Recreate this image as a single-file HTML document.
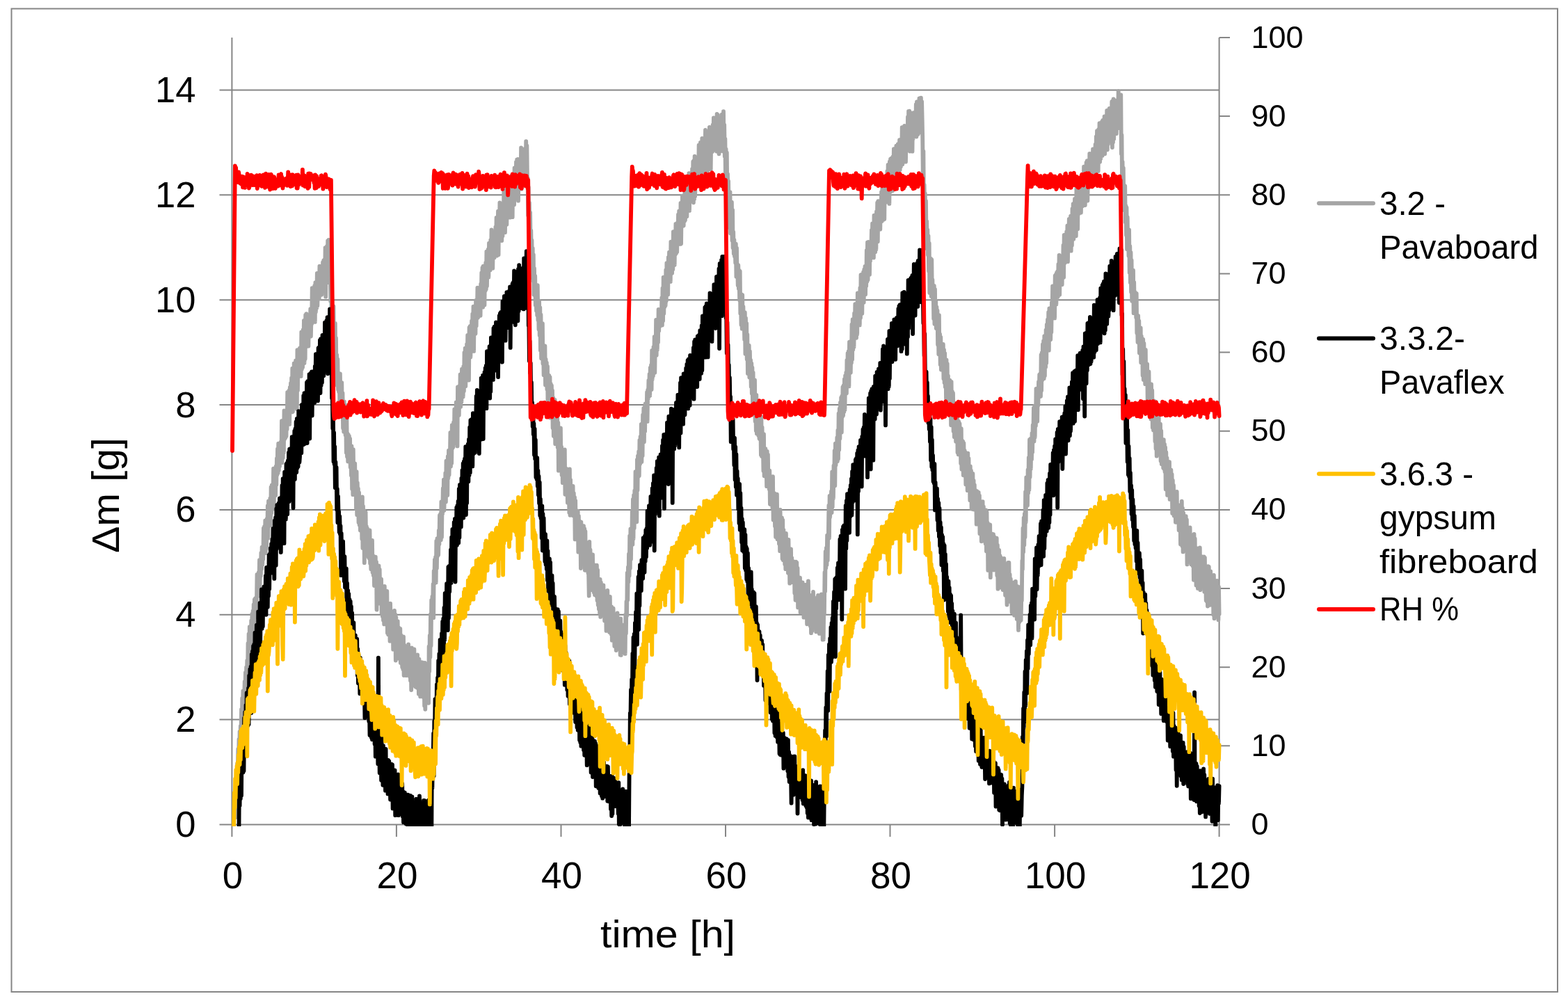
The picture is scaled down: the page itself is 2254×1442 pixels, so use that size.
<!DOCTYPE html>
<html><head><meta charset="utf-8"><title>chart</title><style>html,body{margin:0;padding:0;background:#fff;overflow:hidden;}svg{display:block;filter:blur(0.5px);}</style></head><body>
<svg width="2254" height="1442" viewBox="0 0 2254 1442">
<rect x="0" y="0" width="2254" height="1442" fill="#fff"/>
<rect x="16.5" y="12.5" width="2222.5" height="1413.5" fill="none" stroke="#868686" stroke-width="2"/>
<path d="M315.5 1034.6H1752.6M315.5 883.8H1752.6M315.5 732.9H1752.6M315.5 582.0H1752.6M315.5 431.2H1752.6M315.5 280.3H1752.6M315.5 129.4H1752.6" stroke="#868686" stroke-width="2" fill="none"/>
<path d="M333.4 54.0V1185.5M315.5 1185.5H1752.6M333.4 1185.5V1203.0M569.9 1185.5V1203.0M806.5 1185.5V1203.0M1043.0 1185.5V1203.0M1279.5 1185.5V1203.0M1516.1 1185.5V1203.0M1752.6 1185.5V1203.0M1752.6 54.0V1185.5M1752.6 1185.5H1768.0M1752.6 1072.3H1768.0M1752.6 959.2H1768.0M1752.6 846.0H1768.0M1752.6 732.9H1768.0M1752.6 619.8H1768.0M1752.6 506.6H1768.0M1752.6 393.5H1768.0M1752.6 280.3H1768.0M1752.6 167.1H1768.0M1752.6 54.0H1768.0" stroke="#868686" stroke-width="2" fill="none"/>
<defs><clipPath id="pc"><rect x="330" y="50" width="1427" height="1138"/></clipPath></defs>
<g clip-path="url(#pc)" fill="none" stroke-width="5.8" stroke-linejoin="round" stroke-linecap="round">
<path stroke="#A5A5A5" d="M338.7 1175.4 L339.3 1171.7 L339.9 1113.3 L340.5 1146.8 L341.1 1097.8 L341.7 1120.3 L342.3 1077.0 L342.9 1100.8 L343.5 1062.9 L344.0 1106.3 L344.6 1051.9 L345.2 1092.9 L345.8 1044.0 L346.4 1060.1 L347.0 1020.0 L347.6 1060.7 L348.2 1004.0 L348.8 1033.6 L349.4 993.3 L350.0 1021.4 L350.5 992.9 L351.1 1007.5 L351.7 979.9 L352.3 1004.3 L352.9 967.0 L353.5 1006.7 L354.1 959.3 L354.7 977.3 L355.3 949.6 L355.9 980.5 L356.5 924.8 L357.1 968.4 L357.6 911.3 L358.2 960.8 L358.8 901.1 L359.4 961.8 L360.0 901.0 L360.6 947.8 L361.2 892.5 L361.8 924.6 L362.4 882.7 L363.0 919.1 L363.6 878.5 L364.1 921.9 L364.7 869.1 L365.3 896.9 L365.9 861.8 L366.5 888.1 L367.1 860.2 L367.7 887.0 L368.3 860.8 L368.9 868.7 L369.5 826.0 L370.1 858.0 L370.7 827.3 L371.2 854.1 L371.8 822.8 L372.4 840.8 L373.0 805.1 L373.6 842.6 L374.2 806.8 L374.8 828.3 L375.4 795.0 L376.0 818.3 L376.6 786.7 L377.2 811.9 L377.8 796.1 L378.3 804.0 L378.9 759.5 L379.5 794.8 L380.1 757.0 L380.7 788.7 L381.3 748.3 L381.9 795.1 L382.5 751.3 L383.1 788.9 L383.7 746.0 L384.3 766.8 L384.8 727.1 L385.4 773.7 L386.0 720.5 L386.6 754.1 L387.2 721.7 L387.8 753.2 L388.4 716.4 L389.0 755.6 L389.6 700.5 L390.2 737.7 L390.8 697.4 L391.4 719.7 L391.9 699.3 L392.5 716.5 L393.1 673.7 L393.7 731.5 L394.3 676.5 L394.9 710.7 L395.5 673.9 L396.1 712.2 L396.7 670.5 L397.3 697.0 L397.9 659.2 L398.4 682.6 L399.0 645.3 L399.6 680.1 L400.2 637.7 L400.8 676.1 L401.4 662.2 L402.0 670.4 L402.6 637.7 L403.2 659.1 L403.8 635.4 L404.4 659.4 L405.0 605.1 L405.5 665.2 L406.1 623.1 L406.7 658.2 L407.3 613.2 L407.9 650.4 L408.5 590.4 L409.1 631.4 L409.7 601.9 L410.3 629.4 L410.9 595.7 L411.5 627.3 L412.0 593.8 L412.6 617.3 L413.2 563.9 L413.8 605.6 L414.4 572.4 L415.0 608.9 L415.6 561.3 L416.2 609.9 L416.8 556.9 L417.4 591.9 L418.0 550.9 L418.6 582.2 L419.1 543.5 L419.7 592.4 L420.3 529.7 L420.9 591.6 L421.5 553.1 L422.1 567.5 L422.7 522.3 L423.3 576.0 L423.9 533.8 L424.5 553.6 L425.1 518.5 L425.6 550.5 L426.2 529.0 L426.8 588.2 L427.4 503.2 L428.0 561.2 L428.6 507.7 L429.2 535.7 L429.8 530.6 L430.4 537.5 L431.0 500.4 L431.6 527.3 L432.2 517.7 L432.7 540.9 L433.3 477.5 L433.9 530.8 L434.5 478.1 L435.1 528.0 L435.7 474.1 L436.3 508.3 L436.9 460.9 L437.5 521.9 L438.1 465.2 L438.7 516.0 L439.2 452.9 L439.8 499.0 L440.4 451.1 L441.0 493.9 L441.6 469.5 L442.2 489.5 L442.8 459.3 L443.4 497.6 L444.0 455.8 L444.6 477.7 L445.2 453.0 L445.8 467.7 L446.3 444.1 L446.9 483.5 L447.5 457.2 L448.1 465.7 L448.7 414.2 L449.3 463.4 L449.9 424.7 L450.5 462.1 L451.1 415.9 L451.7 450.2 L452.3 410.6 L452.8 462.9 L453.4 406.2 L454.0 448.4 L454.6 415.2 L455.2 442.9 L455.8 392.8 L456.4 439.5 L457.0 394.5 L457.6 422.9 L458.2 422.0 L458.8 429.6 L459.4 382.6 L459.9 415.4 L460.5 397.1 L461.1 413.3 L461.7 383.0 L462.3 423.8 L462.9 382.5 L463.5 408.9 L464.1 377.2 L464.7 407.5 L465.3 374.4 L465.9 403.5 L466.4 373.4 L467.0 413.9 L467.6 356.1 L468.2 426.7 L468.8 359.7 L469.4 387.9 L470.0 353.9 L470.6 396.1 L471.2 346.1 L471.8 406.0 L472.4 345.0 L473.0 396.3 L473.5 345.6 L474.1 383.5 L474.7 374.3 L475.3 433.3 L475.9 396.0 L476.5 446.5 L477.1 420.7 L477.7 477.6 L478.3 442.1 L478.9 480.2 L479.5 440.4 L480.1 501.7 L480.6 472.5 L481.2 511.4 L481.8 464.8 L482.4 531.0 L483.0 486.0 L483.6 548.7 L484.2 510.3 L484.8 554.3 L485.4 516.5 L486.0 559.9 L486.6 545.6 L487.1 563.4 L487.7 540.4 L488.3 581.4 L488.9 537.4 L489.5 575.0 L490.1 555.9 L490.7 595.8 L491.3 550.1 L491.9 599.3 L492.5 565.1 L493.1 615.5 L493.7 583.9 L494.2 620.7 L494.8 577.4 L495.4 620.6 L496.0 582.0 L496.6 625.5 L497.2 603.6 L497.8 650.7 L498.4 602.5 L499.0 656.4 L499.6 623.5 L500.2 663.4 L500.7 625.0 L501.3 651.4 L501.9 627.0 L502.5 664.1 L503.1 630.6 L503.7 671.8 L504.3 649.5 L504.9 683.5 L505.5 641.5 L506.1 702.9 L506.7 649.6 L507.3 711.1 L507.8 646.1 L508.4 691.2 L509.0 676.8 L509.6 699.0 L510.2 666.3 L510.8 711.6 L511.4 686.4 L512.0 731.7 L512.6 678.1 L513.2 740.1 L513.8 694.2 L514.3 727.3 L514.9 702.5 L515.5 751.1 L516.1 708.1 L516.7 754.7 L517.3 714.5 L517.9 762.5 L518.5 725.7 L519.1 751.3 L519.7 722.2 L520.3 774.7 L520.9 714.4 L521.4 788.0 L522.0 727.8 L522.6 780.5 L523.2 733.6 L523.8 809.2 L524.4 740.9 L525.0 780.2 L525.6 736.4 L526.2 783.5 L526.8 756.9 L527.4 789.9 L527.9 759.7 L528.5 785.0 L529.1 763.2 L529.7 800.9 L530.3 773.4 L530.9 802.9 L531.5 762.4 L532.1 810.0 L532.7 788.8 L533.3 818.3 L533.9 778.7 L534.5 816.4 L535.0 777.0 L535.6 823.0 L536.2 798.8 L536.8 827.2 L537.4 804.2 L538.0 842.0 L538.6 800.8 L539.2 840.6 L539.8 800.7 L540.4 842.9 L541.0 808.0 L541.5 876.6 L542.1 823.0 L542.7 856.6 L543.3 825.7 L543.9 867.6 L544.5 813.3 L545.1 854.0 L545.7 818.7 L546.3 857.3 L546.9 832.0 L547.5 857.3 L548.1 832.6 L548.6 881.1 L549.2 846.2 L549.8 886.0 L550.4 843.0 L551.0 891.8 L551.6 850.5 L552.2 897.4 L552.8 842.8 L553.4 878.4 L554.0 852.8 L554.6 880.4 L555.1 850.5 L555.7 893.0 L556.3 850.0 L556.9 909.9 L557.5 872.1 L558.1 912.2 L558.7 868.5 L559.3 902.2 L559.9 879.7 L560.5 921.6 L561.1 867.7 L561.7 902.8 L562.2 887.6 L562.8 905.8 L563.4 881.5 L564.0 908.7 L564.6 891.3 L565.2 933.6 L565.8 888.6 L566.4 920.2 L567.0 877.9 L567.6 928.9 L568.2 883.5 L568.8 949.5 L569.3 887.4 L569.9 925.5 L570.5 896.2 L571.1 945.6 L571.7 893.1 L572.3 940.6 L572.9 902.1 L573.5 946.8 L574.1 908.8 L574.7 947.3 L575.3 904.0 L575.8 953.0 L576.4 913.1 L577.0 953.7 L577.6 920.3 L578.2 959.1 L578.8 940.6 L579.4 962.3 L580.0 915.3 L580.6 971.0 L581.2 927.3 L581.8 961.6 L582.4 929.3 L582.9 956.3 L583.5 931.4 L584.1 971.2 L584.7 933.5 L585.3 967.3 L585.9 936.8 L586.5 958.5 L587.1 926.4 L587.7 965.8 L588.3 937.9 L588.9 972.5 L589.4 940.5 L590.0 978.5 L590.6 933.6 L591.2 992.0 L591.8 931.4 L592.4 974.5 L593.0 935.4 L593.6 971.6 L594.2 933.3 L594.8 972.3 L595.4 933.5 L596.0 985.5 L596.5 947.3 L597.1 987.3 L597.7 948.4 L598.3 979.3 L598.9 942.3 L599.5 988.6 L600.1 941.4 L600.7 976.7 L601.3 955.7 L601.9 997.6 L602.5 947.7 L603.0 994.3 L603.6 959.2 L604.2 1001.4 L604.8 951.9 L605.4 995.2 L606.0 959.8 L606.6 991.8 L607.2 952.3 L607.8 993.4 L608.4 954.4 L609.0 1002.8 L609.6 967.4 L610.1 1014.8 L610.7 953.0 L611.3 1019.8 L611.9 968.4 L612.5 1007.6 L613.1 954.9 L613.7 993.1 L614.3 971.5 L614.9 1002.4 L615.5 971.4 L616.1 1010.8 L616.6 929.5 L617.2 965.2 L617.8 913.6 L618.4 944.7 L619.0 883.1 L619.6 928.2 L620.2 862.8 L620.8 886.3 L621.4 857.6 L622.0 880.2 L622.6 839.9 L623.2 888.2 L623.7 821.0 L624.3 839.1 L624.9 804.6 L625.5 837.1 L626.1 801.0 L626.7 837.4 L627.3 778.0 L627.9 817.0 L628.5 774.2 L629.1 799.5 L629.7 776.4 L630.2 797.7 L630.8 762.6 L631.4 782.5 L632.0 740.8 L632.6 776.9 L633.2 739.0 L633.8 776.2 L634.4 721.5 L635.0 772.1 L635.6 723.7 L636.2 738.4 L636.8 702.2 L637.3 734.2 L637.9 689.7 L638.5 733.8 L639.1 689.6 L639.7 712.4 L640.3 680.2 L640.9 721.5 L641.5 662.7 L642.1 701.9 L642.7 672.6 L643.3 712.0 L643.8 656.2 L644.4 687.4 L645.0 647.7 L645.6 682.8 L646.2 648.3 L646.8 662.8 L647.4 621.8 L648.0 670.5 L648.6 623.6 L649.2 666.0 L649.8 611.2 L650.4 644.4 L650.9 611.5 L651.5 642.8 L652.1 607.1 L652.7 638.0 L653.3 588.5 L653.9 632.2 L654.5 592.3 L655.1 625.3 L655.7 578.4 L656.3 613.4 L656.9 583.1 L657.5 641.4 L658.0 556.3 L658.6 597.4 L659.2 559.0 L659.8 597.0 L660.4 555.0 L661.0 583.9 L661.6 538.3 L662.2 584.8 L662.8 543.1 L663.4 577.9 L664.0 530.6 L664.5 570.3 L665.1 533.5 L665.7 570.4 L666.3 526.9 L666.9 562.3 L667.5 506.8 L668.1 542.8 L668.7 500.6 L669.3 555.1 L669.9 504.4 L670.5 541.4 L671.1 495.0 L671.6 526.8 L672.2 482.0 L672.8 528.2 L673.4 484.3 L674.0 546.6 L674.6 471.0 L675.2 511.1 L675.8 468.8 L676.4 513.4 L677.0 478.8 L677.6 493.5 L678.1 461.3 L678.7 490.5 L679.3 451.3 L679.9 479.2 L680.5 440.7 L681.1 504.9 L681.7 446.4 L682.3 472.1 L682.9 449.1 L683.5 479.6 L684.1 431.8 L684.7 468.6 L685.2 436.0 L685.8 453.7 L686.4 413.7 L687.0 456.7 L687.6 421.1 L688.2 447.5 L688.8 414.1 L689.4 444.8 L690.0 413.4 L690.6 453.8 L691.2 408.3 L691.7 429.6 L692.3 392.1 L692.9 431.5 L693.5 385.0 L694.1 441.7 L694.7 382.6 L695.3 413.4 L695.9 384.8 L696.5 438.5 L697.1 383.0 L697.7 418.0 L698.3 377.6 L698.8 415.7 L699.4 361.7 L700.0 411.1 L700.6 368.4 L701.2 393.7 L701.8 358.3 L702.4 398.4 L703.0 349.7 L703.6 385.0 L704.2 383.0 L704.8 388.4 L705.3 345.1 L705.9 386.0 L706.5 330.5 L707.1 385.1 L707.7 335.9 L708.3 385.7 L708.9 339.2 L709.5 360.9 L710.1 334.3 L710.7 370.4 L711.3 335.9 L711.9 363.4 L712.4 326.5 L713.0 352.0 L713.6 313.0 L714.2 367.6 L714.8 319.9 L715.4 339.7 L716.0 303.6 L716.6 366.2 L717.2 305.5 L717.8 341.2 L718.4 291.5 L718.9 336.6 L719.5 297.1 L720.1 326.6 L720.7 299.0 L721.3 346.0 L721.9 299.1 L722.5 339.3 L723.1 292.6 L723.7 328.4 L724.3 274.7 L724.9 332.3 L725.5 282.0 L726.0 334.1 L726.6 284.2 L727.2 307.9 L727.8 268.5 L728.4 322.6 L729.0 269.4 L729.6 305.6 L730.2 271.0 L730.8 310.7 L731.4 278.4 L732.0 296.4 L732.5 273.0 L733.1 312.6 L733.7 257.9 L734.3 297.4 L734.9 252.8 L735.5 303.9 L736.1 265.9 L736.7 312.1 L737.3 256.1 L737.9 290.9 L738.5 263.2 L739.1 294.2 L739.6 241.3 L740.2 273.1 L740.8 245.8 L741.4 280.4 L742.0 232.9 L742.6 280.1 L743.2 229.5 L743.8 272.8 L744.4 229.0 L745.0 288.6 L745.6 235.6 L746.2 258.5 L746.7 238.4 L747.3 266.1 L747.9 235.4 L748.5 266.4 L749.1 212.4 L749.7 271.7 L750.3 222.2 L750.9 268.9 L751.5 219.4 L752.1 249.7 L752.7 215.0 L753.2 259.0 L753.8 215.2 L754.4 248.3 L755.0 213.5 L755.6 254.8 L756.2 203.2 L756.8 242.9 L757.4 209.3 L758.0 257.1 L758.6 255.5 L759.2 309.7 L759.8 269.2 L760.3 333.8 L760.9 291.3 L761.5 340.4 L762.1 305.5 L762.7 352.0 L763.3 331.4 L763.9 365.4 L764.5 345.5 L765.1 399.4 L765.7 357.0 L766.3 403.6 L766.8 366.1 L767.4 423.8 L768.0 385.9 L768.6 423.3 L769.2 396.6 L769.8 438.7 L770.4 418.1 L771.0 446.8 L771.6 424.5 L772.2 453.3 L772.8 410.2 L773.4 460.0 L773.9 436.8 L774.5 473.4 L775.1 433.1 L775.7 482.3 L776.3 442.1 L776.9 503.8 L777.5 452.5 L778.1 515.3 L778.7 468.3 L779.3 500.4 L779.9 465.1 L780.4 522.8 L781.0 496.5 L781.6 539.1 L782.2 504.7 L782.8 531.4 L783.4 497.3 L784.0 553.5 L784.6 516.7 L785.2 551.7 L785.8 521.3 L786.4 559.8 L787.0 526.6 L787.5 590.0 L788.1 539.1 L788.7 583.5 L789.3 540.0 L789.9 584.1 L790.5 542.1 L791.1 600.6 L791.7 551.8 L792.3 594.4 L792.9 554.3 L793.5 593.7 L794.0 561.4 L794.6 615.2 L795.2 572.0 L795.8 626.7 L796.4 588.9 L797.0 627.8 L797.6 575.0 L798.2 638.1 L798.8 599.2 L799.4 631.1 L800.0 595.4 L800.6 634.7 L801.1 598.1 L801.7 643.2 L802.3 607.7 L802.9 676.6 L803.5 619.8 L804.1 675.8 L804.7 624.7 L805.3 653.6 L805.9 615.3 L806.5 667.4 L807.1 642.5 L807.6 682.9 L808.2 650.8 L808.8 694.1 L809.4 647.6 L810.0 692.7 L810.6 655.9 L811.2 688.2 L811.8 646.3 L812.4 710.8 L813.0 674.1 L813.6 701.1 L814.2 673.8 L814.7 702.2 L815.3 695.4 L815.9 722.7 L816.5 683.7 L817.1 713.2 L817.7 680.7 L818.3 737.0 L818.9 674.3 L819.5 740.8 L820.1 689.9 L820.7 738.8 L821.2 699.2 L821.8 730.2 L822.4 703.5 L823.0 737.5 L823.6 698.9 L824.2 741.4 L824.8 709.1 L825.4 741.5 L826.0 714.8 L826.6 775.4 L827.2 719.8 L827.8 772.1 L828.3 735.3 L828.9 766.0 L829.5 737.5 L830.1 767.7 L830.7 734.7 L831.3 793.7 L831.9 741.9 L832.5 783.3 L833.1 749.1 L833.7 781.4 L834.3 751.7 L834.9 817.0 L835.4 750.7 L836.0 788.7 L836.6 762.7 L837.2 807.5 L837.8 759.4 L838.4 803.1 L839.0 756.2 L839.6 800.3 L840.2 760.1 L840.8 819.8 L841.4 763.8 L841.9 815.8 L842.5 783.3 L843.1 819.8 L843.7 786.0 L844.3 819.9 L844.9 804.9 L845.5 824.5 L846.1 824.9 L846.7 856.6 L847.3 778.9 L847.9 840.0 L848.5 790.5 L849.0 823.9 L849.6 802.0 L850.2 824.6 L850.8 801.5 L851.4 848.3 L852.0 797.5 L852.6 844.6 L853.2 811.8 L853.8 851.7 L854.4 823.3 L855.0 855.1 L855.5 812.7 L856.1 852.2 L856.7 813.4 L857.3 856.6 L857.9 812.6 L858.5 863.2 L859.1 819.5 L859.7 869.7 L860.3 837.3 L860.9 875.8 L861.5 833.2 L862.1 881.3 L862.6 832.8 L863.2 886.9 L863.8 837.4 L864.4 884.5 L865.0 849.9 L865.6 882.7 L866.2 847.0 L866.8 878.5 L867.4 841.3 L868.0 878.8 L868.6 849.3 L869.1 892.4 L869.7 860.5 L870.3 889.1 L870.9 865.6 L871.5 906.9 L872.1 860.9 L872.7 900.8 L873.3 849.0 L873.9 902.8 L874.5 871.4 L875.1 900.6 L875.7 861.1 L876.2 909.0 L876.8 857.8 L877.4 900.0 L878.0 874.5 L878.6 911.8 L879.2 872.5 L879.8 920.7 L880.4 878.9 L881.0 902.9 L881.6 874.6 L882.2 915.5 L882.7 893.4 L883.3 928.9 L883.9 891.9 L884.5 923.7 L885.1 887.9 L885.7 935.0 L886.3 891.4 L886.9 915.7 L887.5 881.5 L888.1 926.2 L888.7 897.4 L889.3 917.6 L889.8 892.7 L890.4 920.1 L891.0 897.9 L891.6 941.4 L892.2 889.4 L892.8 941.9 L893.4 908.0 L894.0 927.5 L894.6 898.5 L895.2 938.6 L895.8 900.9 L896.3 931.0 L896.9 912.2 L897.5 938.1 L898.1 899.1 L898.7 939.9 L899.3 883.6 L899.9 910.8 L900.5 864.8 L901.1 885.3 L901.7 823.6 L902.3 862.5 L902.9 815.3 L903.4 836.8 L904.0 796.3 L904.6 827.6 L905.2 770.3 L905.8 817.0 L906.4 760.4 L907.0 804.0 L907.6 760.4 L908.2 780.4 L908.8 734.3 L909.4 782.7 L909.9 718.0 L910.5 774.4 L911.1 712.0 L911.7 759.1 L912.3 705.3 L912.9 749.2 L913.5 678.2 L914.1 729.9 L914.7 681.8 L915.3 750.3 L915.9 660.8 L916.5 704.6 L917.0 655.4 L917.6 685.1 L918.2 649.1 L918.8 684.0 L919.4 632.8 L920.0 667.3 L920.6 627.8 L921.2 661.0 L921.8 609.8 L922.4 664.0 L923.0 616.5 L923.6 655.2 L924.1 596.4 L924.7 625.4 L925.3 586.8 L925.9 635.2 L926.5 585.3 L927.1 620.1 L927.7 580.3 L928.3 602.1 L928.9 589.0 L929.5 597.1 L930.1 563.9 L930.6 605.9 L931.2 560.7 L931.8 573.4 L932.4 546.8 L933.0 568.5 L933.6 538.0 L934.2 568.9 L934.8 528.7 L935.4 557.8 L936.0 525.0 L936.6 560.0 L937.2 503.8 L937.7 545.4 L938.3 511.9 L938.9 540.4 L939.5 498.9 L940.1 527.7 L940.7 484.2 L941.3 535.7 L941.9 490.0 L942.5 510.7 L943.1 460.0 L943.7 510.8 L944.2 467.0 L944.8 502.9 L945.4 468.7 L946.0 492.1 L946.6 444.8 L947.2 475.8 L947.8 445.2 L948.4 469.3 L949.0 446.7 L949.6 466.0 L950.2 466.1 L950.8 458.8 L951.3 428.2 L951.9 467.5 L952.5 414.3 L953.1 461.2 L953.7 398.6 L954.3 450.6 L954.9 408.4 L955.5 441.1 L956.1 403.6 L956.7 438.9 L957.3 388.1 L957.8 432.5 L958.4 378.1 L959.0 414.3 L959.6 389.9 L960.2 423.5 L960.8 369.8 L961.4 396.7 L962.0 362.7 L962.6 400.9 L963.2 364.2 L963.8 404.9 L964.4 347.7 L964.9 384.0 L965.5 351.5 L966.1 392.7 L966.7 349.8 L967.3 387.2 L967.9 333.1 L968.5 377.1 L969.1 348.1 L969.7 380.9 L970.3 335.8 L970.9 365.8 L971.4 322.0 L972.0 364.1 L972.6 322.7 L973.2 362.3 L973.8 320.4 L974.4 351.6 L975.0 308.3 L975.6 342.0 L976.2 303.5 L976.8 338.4 L977.4 310.5 L978.0 350.9 L978.5 291.8 L979.1 350.1 L979.7 297.0 L980.3 325.6 L980.9 281.6 L981.5 316.7 L982.1 288.0 L982.7 324.5 L983.3 285.7 L983.9 318.3 L984.5 272.8 L985.0 316.3 L985.6 274.5 L986.2 301.5 L986.8 270.1 L987.4 311.1 L988.0 272.6 L988.6 300.8 L989.2 263.5 L989.8 287.8 L990.4 249.1 L991.0 302.9 L991.6 253.9 L992.1 284.5 L992.7 277.2 L993.3 285.5 L993.9 251.1 L994.5 280.3 L995.1 242.8 L995.7 277.4 L996.3 232.3 L996.9 291.3 L997.5 230.9 L998.1 285.9 L998.6 224.7 L999.2 281.9 L999.8 229.1 L1000.4 260.3 L1001.0 238.1 L1001.6 264.0 L1002.2 233.0 L1002.8 251.1 L1003.4 229.6 L1004.0 252.9 L1004.6 208.6 L1005.2 246.3 L1005.7 215.1 L1006.3 238.2 L1006.9 204.9 L1007.5 238.0 L1008.1 214.6 L1008.7 250.7 L1009.3 198.9 L1009.9 244.8 L1010.5 209.9 L1011.1 249.2 L1011.7 209.0 L1012.3 254.8 L1012.8 201.9 L1013.4 233.0 L1014.0 186.8 L1014.6 245.6 L1015.2 205.3 L1015.8 246.5 L1016.4 196.7 L1017.0 245.5 L1017.6 189.8 L1018.2 232.7 L1018.8 192.5 L1019.3 234.5 L1019.9 182.9 L1020.5 235.4 L1021.1 183.2 L1021.7 243.5 L1022.3 193.7 L1022.9 217.4 L1023.5 188.7 L1024.1 217.9 L1024.7 179.4 L1025.3 213.7 L1025.9 169.5 L1026.4 215.0 L1027.0 184.7 L1027.6 210.0 L1028.2 207.6 L1028.8 215.4 L1029.4 183.2 L1030.0 217.5 L1030.6 163.8 L1031.2 202.1 L1031.8 165.1 L1032.4 204.8 L1032.9 178.3 L1033.5 221.3 L1034.1 175.5 L1034.7 217.9 L1035.3 178.0 L1035.9 213.9 L1036.5 180.2 L1037.1 212.2 L1037.7 164.7 L1038.3 200.4 L1038.9 177.1 L1039.5 217.5 L1040.0 160.2 L1040.6 209.6 L1041.2 179.3 L1041.8 224.9 L1042.4 199.7 L1043.0 261.0 L1043.6 214.5 L1044.2 253.7 L1044.8 219.5 L1045.4 285.4 L1046.0 250.1 L1046.5 288.2 L1047.1 260.5 L1047.7 305.5 L1048.3 281.7 L1048.9 328.0 L1049.5 276.1 L1050.1 335.5 L1050.7 297.2 L1051.3 327.0 L1051.9 290.6 L1052.5 345.8 L1053.1 301.8 L1053.6 356.2 L1054.2 333.4 L1054.8 364.7 L1055.4 344.9 L1056.0 368.7 L1056.6 353.4 L1057.2 377.9 L1057.8 350.6 L1058.4 397.8 L1059.0 356.7 L1059.6 394.4 L1060.1 379.9 L1060.7 410.3 L1061.3 381.4 L1061.9 415.1 L1062.5 388.7 L1063.1 431.4 L1063.7 389.9 L1064.3 450.6 L1064.9 425.7 L1065.5 466.9 L1066.1 423.5 L1066.7 472.6 L1067.2 424.1 L1067.8 472.4 L1068.4 440.8 L1069.0 471.7 L1069.6 460.7 L1070.2 488.3 L1070.8 449.2 L1071.4 508.7 L1072.0 457.4 L1072.6 508.1 L1073.2 464.9 L1073.7 516.5 L1074.3 480.8 L1074.9 536.9 L1075.5 496.8 L1076.1 521.0 L1076.7 496.6 L1077.3 542.4 L1077.9 505.1 L1078.5 539.3 L1079.1 517.7 L1079.7 555.9 L1080.3 522.5 L1080.8 565.8 L1081.4 528.5 L1082.0 584.4 L1082.6 535.6 L1083.2 585.3 L1083.8 552.7 L1084.4 589.2 L1085.0 546.3 L1085.6 605.6 L1086.2 575.5 L1086.8 619.1 L1087.3 567.8 L1087.9 623.4 L1088.5 579.5 L1089.1 609.8 L1089.7 577.3 L1090.3 626.1 L1090.9 595.8 L1091.5 630.4 L1092.1 601.3 L1092.7 631.7 L1093.3 608.1 L1093.9 654.0 L1094.4 599.2 L1095.0 655.9 L1095.6 614.3 L1096.2 653.6 L1096.8 637.2 L1097.4 676.9 L1098.0 624.2 L1098.6 684.2 L1099.2 646.0 L1099.8 669.1 L1100.4 645.2 L1101.0 685.5 L1101.5 649.1 L1102.1 699.1 L1102.7 648.9 L1103.3 695.2 L1103.9 653.6 L1104.5 691.3 L1105.1 676.5 L1105.7 703.1 L1106.3 676.7 L1106.9 724.6 L1107.5 686.4 L1108.0 725.3 L1108.6 693.0 L1109.2 721.7 L1109.8 691.5 L1110.4 730.5 L1111.0 685.2 L1111.6 747.5 L1112.2 708.7 L1112.8 737.6 L1113.4 709.3 L1114.0 756.4 L1114.6 712.2 L1115.1 772.0 L1115.7 720.0 L1116.3 758.9 L1116.9 710.6 L1117.5 775.1 L1118.1 743.0 L1118.7 760.0 L1119.3 739.1 L1119.9 781.6 L1120.5 737.8 L1121.1 792.2 L1121.6 732.9 L1122.2 781.5 L1122.8 760.8 L1123.4 792.3 L1124.0 744.4 L1124.6 803.2 L1125.2 747.6 L1125.8 805.3 L1126.4 762.0 L1127.0 801.1 L1127.6 770.7 L1128.2 811.1 L1128.7 766.9 L1129.3 818.1 L1129.9 767.0 L1130.5 810.2 L1131.1 784.9 L1131.7 805.8 L1132.3 787.2 L1132.9 823.8 L1133.5 775.8 L1134.1 821.0 L1134.7 800.6 L1135.2 838.7 L1135.8 793.7 L1136.4 831.3 L1137.0 789.4 L1137.6 831.8 L1138.2 802.1 L1138.8 837.2 L1139.4 808.3 L1140.0 832.4 L1140.6 807.2 L1141.2 834.4 L1141.8 816.3 L1142.3 852.8 L1142.9 831.2 L1143.5 862.8 L1144.1 807.6 L1144.7 854.6 L1145.3 808.9 L1145.9 853.6 L1146.5 816.7 L1147.1 873.4 L1147.7 831.7 L1148.3 872.6 L1148.8 834.6 L1149.4 854.6 L1150.0 830.6 L1150.6 880.5 L1151.2 838.2 L1151.8 864.9 L1152.4 838.9 L1153.0 869.2 L1153.6 837.3 L1154.2 866.2 L1154.8 845.5 L1155.4 887.6 L1155.9 848.4 L1156.5 882.5 L1157.1 840.9 L1157.7 876.9 L1158.3 845.5 L1158.9 877.8 L1159.5 840.3 L1160.1 897.3 L1160.7 847.9 L1161.3 884.2 L1161.9 835.4 L1162.4 883.8 L1163.0 861.9 L1163.6 885.7 L1164.2 855.9 L1164.8 899.9 L1165.4 864.9 L1166.0 910.2 L1166.6 858.3 L1167.2 907.2 L1167.8 855.4 L1168.4 889.6 L1169.0 851.0 L1169.5 897.3 L1170.1 863.6 L1170.7 901.4 L1171.3 866.9 L1171.9 893.1 L1172.5 864.6 L1173.1 908.3 L1173.7 862.5 L1174.3 904.1 L1174.9 858.7 L1175.5 897.7 L1176.0 855.8 L1176.6 904.4 L1177.2 875.3 L1177.8 910.9 L1178.4 870.1 L1179.0 900.5 L1179.6 865.5 L1180.2 910.4 L1180.8 854.4 L1181.4 895.3 L1182.0 864.7 L1182.6 919.7 L1183.1 871.7 L1183.7 919.4 L1184.3 872.2 L1184.9 883.1 L1185.5 823.0 L1186.1 850.1 L1186.7 792.9 L1187.3 816.6 L1187.9 787.6 L1188.5 812.2 L1189.1 769.7 L1189.7 805.8 L1190.2 770.4 L1190.8 769.1 L1191.4 726.7 L1192.0 773.4 L1192.6 712.9 L1193.2 743.4 L1193.8 720.3 L1194.4 731.3 L1195.0 706.4 L1195.6 737.0 L1196.2 678.4 L1196.7 728.6 L1197.3 685.2 L1197.9 716.4 L1198.5 669.3 L1199.1 697.0 L1199.7 647.8 L1200.3 698.1 L1200.9 637.7 L1201.5 668.7 L1202.1 644.2 L1202.7 656.7 L1203.3 629.2 L1203.8 663.2 L1204.4 618.7 L1205.0 659.6 L1205.6 594.3 L1206.2 646.8 L1206.8 587.3 L1207.4 630.5 L1208.0 578.6 L1208.6 614.3 L1209.2 571.6 L1209.8 621.5 L1210.3 569.3 L1210.9 599.2 L1211.5 556.5 L1212.1 597.1 L1212.7 554.2 L1213.3 592.1 L1213.9 545.1 L1214.5 588.9 L1215.1 540.1 L1215.7 565.8 L1216.3 535.7 L1216.9 565.5 L1217.4 518.0 L1218.0 553.7 L1218.6 508.0 L1219.2 551.6 L1219.8 505.0 L1220.4 555.4 L1221.0 491.7 L1221.6 533.2 L1222.2 500.7 L1222.8 535.6 L1223.4 498.1 L1223.9 521.8 L1224.5 466.4 L1225.1 516.6 L1225.7 459.2 L1226.3 502.7 L1226.9 476.2 L1227.5 498.9 L1228.1 450.4 L1228.7 483.6 L1229.3 437.2 L1229.9 477.6 L1230.5 437.7 L1231.0 485.8 L1231.6 444.5 L1232.2 480.4 L1232.8 421.3 L1233.4 464.1 L1234.0 430.3 L1234.6 455.8 L1235.2 420.8 L1235.8 467.4 L1236.4 413.8 L1237.0 456.9 L1237.5 395.2 L1238.1 448.6 L1238.7 394.7 L1239.3 450.6 L1239.9 403.5 L1240.5 431.2 L1241.1 391.1 L1241.7 434.8 L1242.3 387.5 L1242.9 416.8 L1243.5 383.0 L1244.1 423.2 L1244.6 383.2 L1245.2 411.2 L1245.8 360.0 L1246.4 404.8 L1247.0 348.4 L1247.6 402.1 L1248.2 348.0 L1248.8 394.8 L1249.4 348.7 L1250.0 394.6 L1250.6 350.7 L1251.1 374.9 L1251.7 349.1 L1252.3 362.8 L1252.9 331.0 L1253.5 364.2 L1254.1 321.5 L1254.7 359.2 L1255.3 323.3 L1255.9 370.5 L1256.5 309.7 L1257.1 341.5 L1257.7 311.0 L1258.2 362.3 L1258.8 312.1 L1259.4 358.4 L1260.0 304.2 L1260.6 332.3 L1261.2 291.3 L1261.8 347.1 L1262.4 289.1 L1263.0 320.4 L1263.6 289.8 L1264.2 327.8 L1264.8 293.1 L1265.3 329.6 L1265.9 288.4 L1266.5 310.5 L1267.1 275.9 L1267.7 317.9 L1268.3 271.3 L1268.9 308.9 L1269.5 268.3 L1270.1 315.6 L1270.7 259.0 L1271.3 315.1 L1271.8 257.0 L1272.4 291.5 L1273.0 259.3 L1273.6 290.6 L1274.2 255.5 L1274.8 282.2 L1275.4 246.1 L1276.0 289.4 L1276.6 237.0 L1277.2 283.3 L1277.8 240.7 L1278.4 292.9 L1278.9 232.3 L1279.5 265.7 L1280.1 228.7 L1280.7 275.2 L1281.3 227.6 L1281.9 274.2 L1282.5 227.1 L1283.1 274.1 L1283.7 225.1 L1284.3 249.1 L1284.9 214.1 L1285.4 257.1 L1286.0 223.7 L1286.6 257.0 L1287.2 220.4 L1287.8 261.9 L1288.4 209.7 L1289.0 261.5 L1289.6 213.6 L1290.2 250.2 L1290.8 207.2 L1291.4 255.4 L1292.0 215.5 L1292.5 235.8 L1293.1 201.2 L1293.7 244.1 L1294.3 205.0 L1294.9 239.8 L1295.5 201.9 L1296.1 234.8 L1296.7 183.2 L1297.3 236.2 L1297.9 187.7 L1298.5 232.0 L1299.0 191.3 L1299.6 224.5 L1300.2 180.9 L1300.8 215.8 L1301.4 186.9 L1302.0 232.6 L1302.6 190.1 L1303.2 205.9 L1303.8 181.3 L1304.4 212.0 L1305.0 168.2 L1305.6 214.0 L1306.1 160.0 L1306.7 200.2 L1307.3 159.7 L1307.9 217.5 L1308.5 161.8 L1309.1 205.4 L1309.7 174.6 L1310.3 211.4 L1310.9 172.3 L1311.5 217.7 L1312.1 165.9 L1312.6 199.4 L1313.2 162.2 L1313.8 186.7 L1314.4 163.2 L1315.0 195.3 L1315.6 161.6 L1316.2 195.0 L1316.8 150.2 L1317.4 196.5 L1318.0 146.4 L1318.6 187.5 L1319.2 151.5 L1319.7 192.9 L1320.3 157.6 L1320.9 190.8 L1321.5 141.3 L1322.1 187.2 L1322.7 149.9 L1323.3 179.1 L1323.9 140.7 L1324.5 177.6 L1325.1 146.1 L1325.7 172.3 L1326.2 197.4 L1326.8 256.9 L1327.4 217.3 L1328.0 292.5 L1328.6 265.7 L1329.2 306.4 L1329.8 278.2 L1330.4 338.1 L1331.0 289.0 L1331.6 346.5 L1332.2 318.1 L1332.8 357.9 L1333.3 330.4 L1333.9 366.4 L1334.5 339.1 L1335.1 389.6 L1335.7 349.6 L1336.3 421.0 L1336.9 379.3 L1337.5 399.4 L1338.1 371.8 L1338.7 425.9 L1339.3 373.5 L1339.8 416.8 L1340.4 402.1 L1341.0 430.7 L1341.6 412.4 L1342.2 458.2 L1342.8 411.0 L1343.4 465.8 L1344.0 416.0 L1344.6 463.6 L1345.2 433.4 L1345.8 471.9 L1346.4 441.3 L1346.9 472.7 L1347.5 446.4 L1348.1 495.4 L1348.7 456.1 L1349.3 509.1 L1349.9 453.1 L1350.5 510.0 L1351.1 480.3 L1351.7 524.3 L1352.3 484.7 L1352.9 531.5 L1353.4 495.2 L1354.0 528.5 L1354.6 500.7 L1355.2 530.9 L1355.8 494.8 L1356.4 544.5 L1357.0 502.8 L1357.6 550.2 L1358.2 507.9 L1358.8 556.3 L1359.4 517.8 L1360.0 572.8 L1360.5 517.3 L1361.1 564.2 L1361.7 522.9 L1362.3 586.1 L1362.9 540.4 L1363.5 580.8 L1364.1 546.7 L1364.7 596.4 L1365.3 546.7 L1365.9 594.0 L1366.5 549.1 L1367.1 611.3 L1367.6 548.8 L1368.2 604.2 L1368.8 562.9 L1369.4 597.3 L1370.0 565.2 L1370.6 620.0 L1371.2 584.3 L1371.8 628.2 L1372.4 586.0 L1373.0 626.6 L1373.6 590.2 L1374.1 634.7 L1374.7 595.6 L1375.3 630.6 L1375.9 590.6 L1376.5 650.5 L1377.1 605.0 L1377.7 653.4 L1378.3 606.3 L1378.9 651.4 L1379.5 609.2 L1380.1 650.0 L1380.7 628.3 L1381.2 666.3 L1381.8 616.1 L1382.4 674.7 L1383.0 633.4 L1383.6 666.8 L1384.2 634.6 L1384.8 683.3 L1385.4 637.1 L1386.0 679.8 L1386.6 647.7 L1387.2 676.5 L1387.7 650.2 L1388.3 696.4 L1388.9 655.6 L1389.5 692.3 L1390.1 659.6 L1390.7 705.2 L1391.3 651.7 L1391.9 703.9 L1392.5 659.1 L1393.1 705.6 L1393.7 671.1 L1394.3 719.1 L1394.8 670.5 L1395.4 709.7 L1396.0 676.6 L1396.6 731.7 L1397.2 694.6 L1397.8 720.0 L1398.4 681.0 L1399.0 732.3 L1399.6 690.8 L1400.2 721.0 L1400.8 697.1 L1401.3 732.6 L1401.9 704.7 L1402.5 728.5 L1403.1 705.6 L1403.7 753.7 L1404.3 706.2 L1404.9 746.4 L1405.5 718.6 L1406.1 746.4 L1406.7 708.0 L1407.3 746.9 L1407.9 712.3 L1408.4 767.3 L1409.0 720.7 L1409.6 754.6 L1410.2 724.3 L1410.8 778.3 L1411.4 723.7 L1412.0 774.5 L1412.6 721.1 L1413.2 775.8 L1413.8 728.4 L1414.4 772.9 L1414.9 742.9 L1415.5 778.1 L1416.1 743.0 L1416.7 781.8 L1417.3 733.3 L1417.9 792.4 L1418.5 736.2 L1419.1 786.5 L1419.7 751.6 L1420.3 819.9 L1420.9 757.9 L1421.5 795.9 L1422.0 764.3 L1422.6 809.5 L1423.2 754.3 L1423.8 830.2 L1424.4 767.5 L1425.0 790.6 L1425.6 767.5 L1426.2 819.0 L1426.8 780.5 L1427.4 799.9 L1428.0 768.2 L1428.5 819.5 L1429.1 771.6 L1429.7 818.2 L1430.3 781.8 L1430.9 813.2 L1431.5 790.1 L1432.1 819.0 L1432.7 773.6 L1433.3 827.3 L1433.9 783.7 L1434.5 846.7 L1435.1 794.4 L1435.6 829.8 L1436.2 791.0 L1436.8 844.7 L1437.4 798.9 L1438.0 825.8 L1438.6 801.3 L1439.2 832.3 L1439.8 805.9 L1440.4 831.2 L1441.0 810.9 L1441.6 848.0 L1442.1 815.5 L1442.7 846.8 L1443.3 803.0 L1443.9 844.8 L1444.5 822.1 L1445.1 855.7 L1445.7 818.0 L1446.3 854.8 L1446.9 824.4 L1447.5 869.5 L1448.1 824.9 L1448.7 863.3 L1449.2 809.0 L1449.8 855.9 L1450.4 809.0 L1451.0 860.7 L1451.6 825.9 L1452.2 864.9 L1452.8 832.3 L1453.4 860.7 L1454.0 839.3 L1454.6 880.1 L1455.2 838.3 L1455.8 872.2 L1456.3 837.7 L1456.9 881.4 L1457.5 850.6 L1458.1 884.7 L1458.7 848.8 L1459.3 883.1 L1459.9 836.0 L1460.5 876.5 L1461.1 852.2 L1461.7 890.0 L1462.3 842.9 L1462.8 880.0 L1463.4 862.3 L1464.0 905.9 L1464.6 843.9 L1465.2 894.4 L1465.8 848.0 L1466.4 892.8 L1467.0 864.1 L1467.6 891.8 L1468.2 864.4 L1468.8 863.8 L1469.4 806.2 L1469.9 818.4 L1470.5 759.4 L1471.1 793.6 L1471.7 744.4 L1472.3 783.6 L1472.9 738.6 L1473.5 772.1 L1474.1 707.1 L1474.7 750.4 L1475.3 686.4 L1475.9 722.1 L1476.4 694.7 L1477.0 726.8 L1477.6 675.5 L1478.2 708.6 L1478.8 657.8 L1479.4 703.9 L1480.0 632.2 L1480.6 685.8 L1481.2 631.0 L1481.8 673.9 L1482.4 631.3 L1483.0 660.4 L1483.5 622.9 L1484.1 650.3 L1484.7 611.2 L1485.3 632.5 L1485.9 586.7 L1486.5 634.5 L1487.1 584.0 L1487.7 628.4 L1488.3 582.8 L1488.9 612.1 L1489.5 558.9 L1490.0 593.2 L1490.6 564.5 L1491.2 605.6 L1491.8 559.6 L1492.4 582.6 L1493.0 549.0 L1493.6 571.1 L1494.2 538.7 L1494.8 556.7 L1495.4 537.4 L1496.0 569.8 L1496.6 510.2 L1497.1 561.5 L1497.7 507.2 L1498.3 546.2 L1498.9 495.2 L1499.5 543.3 L1500.1 490.1 L1500.7 544.1 L1501.3 483.1 L1501.9 540.2 L1502.5 484.9 L1503.1 527.6 L1503.6 474.3 L1504.2 521.9 L1504.8 466.7 L1505.4 495.4 L1506.0 459.5 L1506.6 494.3 L1507.2 448.8 L1507.8 503.7 L1508.4 443.4 L1509.0 487.8 L1509.6 444.7 L1510.2 488.3 L1510.7 457.9 L1511.3 477.6 L1511.9 434.9 L1512.5 458.2 L1513.1 411.4 L1513.7 447.0 L1514.3 424.1 L1514.9 454.0 L1515.5 418.5 L1516.1 457.4 L1516.7 396.3 L1517.2 433.7 L1517.8 394.9 L1518.4 437.4 L1519.0 392.1 L1519.6 429.4 L1520.2 390.1 L1520.8 426.5 L1521.4 379.8 L1522.0 417.9 L1522.6 366.9 L1523.2 423.7 L1523.8 380.0 L1524.3 397.0 L1524.9 370.9 L1525.5 398.9 L1526.1 372.4 L1526.7 409.1 L1527.3 368.8 L1527.9 390.2 L1528.5 352.7 L1529.1 398.6 L1529.7 337.8 L1530.3 378.5 L1530.8 345.4 L1531.4 377.1 L1532.0 337.9 L1532.6 371.7 L1533.2 333.2 L1533.8 357.9 L1534.4 324.3 L1535.0 376.1 L1535.6 330.9 L1536.2 348.7 L1536.8 315.0 L1537.4 351.1 L1537.9 318.7 L1538.5 348.5 L1539.1 310.7 L1539.7 360.6 L1540.3 312.6 L1540.9 352.8 L1541.5 300.2 L1542.1 333.9 L1542.7 293.1 L1543.3 343.7 L1543.9 292.3 L1544.5 331.0 L1545.0 286.0 L1545.6 333.0 L1546.2 292.2 L1546.8 339.3 L1547.4 270.0 L1548.0 326.4 L1548.6 282.8 L1549.2 329.1 L1549.8 267.6 L1550.4 300.6 L1551.0 258.5 L1551.5 306.7 L1552.1 274.0 L1552.7 298.5 L1553.3 270.4 L1553.9 305.7 L1554.5 268.7 L1555.1 286.4 L1555.7 263.2 L1556.3 296.1 L1556.9 259.2 L1557.5 278.9 L1558.1 239.7 L1558.6 292.8 L1559.2 253.9 L1559.8 295.0 L1560.4 244.7 L1561.0 271.0 L1561.6 233.6 L1562.2 277.9 L1562.8 231.1 L1563.4 288.5 L1564.0 234.7 L1564.6 270.4 L1565.1 233.6 L1565.7 268.9 L1566.3 220.8 L1566.9 260.3 L1567.5 234.5 L1568.1 253.8 L1568.7 228.4 L1569.3 260.9 L1569.9 221.0 L1570.5 244.0 L1571.1 214.4 L1571.7 254.3 L1572.2 217.9 L1572.8 261.7 L1573.4 214.7 L1574.0 246.6 L1574.6 207.7 L1575.2 253.6 L1575.8 196.5 L1576.4 231.5 L1577.0 188.1 L1577.6 240.6 L1578.2 203.0 L1578.7 246.0 L1579.3 185.8 L1579.9 228.1 L1580.5 177.2 L1581.1 232.7 L1581.7 181.8 L1582.3 227.9 L1582.9 185.2 L1583.5 210.5 L1584.1 174.8 L1584.7 223.8 L1585.3 172.8 L1585.8 216.4 L1586.4 172.6 L1587.0 209.9 L1587.6 167.5 L1588.2 221.1 L1588.8 176.6 L1589.4 215.8 L1590.0 179.3 L1590.6 211.5 L1591.2 158.9 L1591.8 215.3 L1592.3 158.8 L1592.9 207.3 L1593.5 173.9 L1594.1 198.6 L1594.7 155.8 L1595.3 193.0 L1595.9 161.9 L1596.5 188.8 L1597.1 167.6 L1597.7 203.8 L1598.3 146.2 L1598.9 212.0 L1599.4 145.1 L1600.0 204.5 L1600.6 142.4 L1601.2 199.8 L1601.8 145.6 L1602.4 184.9 L1603.0 144.3 L1603.6 190.8 L1604.2 155.0 L1604.8 192.2 L1605.4 146.9 L1605.9 182.9 L1606.5 145.5 L1607.1 169.8 L1607.7 131.0 L1608.3 184.2 L1608.9 144.2 L1609.5 174.2 L1610.1 138.1 L1610.7 163.8 L1611.3 136.4 L1611.9 221.3 L1612.5 194.2 L1613.0 259.8 L1613.6 232.6 L1614.2 273.0 L1614.8 241.3 L1615.4 288.3 L1616.0 266.3 L1616.6 302.8 L1617.2 267.4 L1617.8 319.4 L1618.4 295.8 L1619.0 337.9 L1619.5 298.5 L1620.1 358.1 L1620.7 312.2 L1621.3 355.9 L1621.9 342.2 L1622.5 368.0 L1623.1 330.3 L1623.7 392.0 L1624.3 354.0 L1624.9 406.1 L1625.5 363.0 L1626.1 419.6 L1626.6 374.1 L1627.2 432.6 L1627.8 421.7 L1628.4 421.3 L1629.0 388.7 L1629.6 450.2 L1630.2 405.9 L1630.8 444.3 L1631.4 419.9 L1632.0 450.5 L1632.6 425.2 L1633.2 456.4 L1633.7 421.9 L1634.3 478.8 L1634.9 463.1 L1635.5 492.0 L1636.1 453.9 L1636.7 479.1 L1637.3 461.4 L1637.9 507.4 L1638.5 476.0 L1639.1 499.8 L1639.7 471.3 L1640.2 521.1 L1640.8 483.4 L1641.4 521.6 L1642.0 486.9 L1642.6 539.7 L1643.2 487.8 L1643.8 546.0 L1644.4 493.7 L1645.0 538.1 L1645.6 512.0 L1646.2 552.2 L1646.8 503.0 L1647.3 545.7 L1647.9 531.7 L1648.5 551.5 L1649.1 523.5 L1649.7 579.0 L1650.3 545.7 L1650.9 570.2 L1651.5 534.5 L1652.1 586.0 L1652.7 555.4 L1653.3 589.1 L1653.8 558.5 L1654.4 602.4 L1655.0 552.3 L1655.6 593.5 L1656.2 561.2 L1656.8 614.7 L1657.4 579.0 L1658.0 618.4 L1658.6 576.1 L1659.2 612.4 L1659.8 582.0 L1660.4 634.4 L1660.9 577.4 L1661.5 644.9 L1662.1 605.0 L1662.7 655.7 L1663.3 597.4 L1663.9 648.2 L1664.5 598.5 L1665.1 631.5 L1665.7 598.8 L1666.3 646.3 L1666.9 616.2 L1667.4 648.0 L1668.0 609.7 L1668.6 662.7 L1669.2 619.5 L1669.8 667.3 L1670.4 633.8 L1671.0 660.2 L1671.6 639.5 L1672.2 672.6 L1672.8 632.1 L1673.4 674.3 L1674.0 638.6 L1674.5 678.3 L1675.1 643.2 L1675.7 703.4 L1676.3 650.2 L1676.9 703.1 L1677.5 658.3 L1678.1 711.9 L1678.7 677.0 L1679.3 706.5 L1679.9 680.4 L1680.5 707.2 L1681.0 664.1 L1681.6 717.9 L1682.2 677.4 L1682.8 708.3 L1683.4 675.6 L1684.0 717.9 L1684.6 682.0 L1685.2 738.0 L1685.8 690.6 L1686.4 734.4 L1687.0 697.7 L1687.6 741.5 L1688.1 707.8 L1688.7 729.7 L1689.3 714.4 L1689.9 750.8 L1690.5 712.5 L1691.1 743.6 L1691.7 706.8 L1692.3 750.9 L1692.9 733.0 L1693.5 748.1 L1694.1 726.1 L1694.6 762.3 L1695.2 732.4 L1695.8 761.6 L1696.4 727.5 L1697.0 782.5 L1697.6 729.8 L1698.2 779.7 L1698.8 720.6 L1699.4 784.9 L1700.0 730.7 L1700.6 793.4 L1701.2 737.6 L1701.7 781.3 L1702.3 748.2 L1702.9 783.2 L1703.5 750.1 L1704.1 784.8 L1704.7 742.2 L1705.3 776.4 L1705.9 747.2 L1706.5 811.4 L1707.1 760.7 L1707.7 793.5 L1708.2 770.3 L1708.8 791.9 L1709.4 772.7 L1710.0 799.5 L1710.6 758.5 L1711.2 798.1 L1711.8 782.2 L1712.4 811.4 L1713.0 775.9 L1713.6 808.0 L1714.2 784.0 L1714.8 814.0 L1715.3 778.5 L1715.9 833.8 L1716.5 767.9 L1717.1 820.8 L1717.7 774.5 L1718.3 828.2 L1718.9 792.4 L1719.5 841.5 L1720.1 790.2 L1720.7 831.2 L1721.3 788.4 L1721.9 845.9 L1722.4 796.8 L1723.0 826.5 L1723.6 804.4 L1724.2 835.8 L1724.8 787.4 L1725.4 848.2 L1726.0 813.8 L1726.6 839.1 L1727.2 806.2 L1727.8 836.3 L1728.4 800.4 L1728.9 841.0 L1729.5 808.2 L1730.1 838.7 L1730.7 800.4 L1731.3 850.8 L1731.9 801.8 L1732.5 847.1 L1733.1 824.3 L1733.7 863.2 L1734.3 821.3 L1734.9 864.7 L1735.5 821.1 L1736.0 871.5 L1736.6 814.2 L1737.2 852.1 L1737.8 815.0 L1738.4 858.9 L1739.0 829.4 L1739.6 869.8 L1740.2 821.3 L1740.8 865.2 L1741.4 840.0 L1742.0 859.1 L1742.5 828.1 L1743.1 864.4 L1743.7 832.6 L1744.3 883.9 L1744.9 826.9 L1745.5 889.2 L1746.1 843.5 L1746.7 886.3 L1747.3 846.2 L1747.9 869.7 L1748.5 842.5 L1749.1 872.6 L1749.6 834.8 L1750.2 869.8 L1750.8 849.0 L1751.4 891.1 L1752.0 844.0 L1752.6 882.9"/>
<path stroke="#000000" d="M342.9 1208.5 L343.5 1187.8 L344.0 1114.7 L344.6 1158.1 L345.2 1109.1 L345.8 1148.2 L346.4 1087.7 L347.0 1143.7 L347.6 1065.4 L348.2 1107.3 L348.8 1052.3 L349.4 1110.5 L350.0 1051.7 L350.5 1108.3 L351.1 1032.3 L351.7 1072.9 L352.3 1024.0 L352.9 1073.7 L353.5 1013.9 L354.1 1075.3 L354.7 996.2 L355.3 1030.6 L355.9 995.5 L356.5 1042.9 L357.1 989.3 L357.6 1041.3 L358.2 971.5 L358.8 1020.1 L359.4 962.2 L360.0 1012.2 L360.6 958.4 L361.2 1024.9 L361.8 940.8 L362.4 972.7 L363.0 936.4 L363.6 969.2 L364.1 929.0 L364.7 997.1 L365.3 926.5 L365.9 971.0 L366.5 909.7 L367.1 974.0 L367.7 937.2 L368.3 937.5 L368.9 898.6 L369.5 935.8 L370.1 904.1 L370.7 950.3 L371.2 879.5 L371.8 912.2 L372.4 889.3 L373.0 945.3 L373.6 866.8 L374.2 925.3 L374.8 874.8 L375.4 893.3 L376.0 847.5 L376.6 903.8 L377.2 851.0 L377.8 900.5 L378.3 848.2 L378.9 872.5 L379.5 843.3 L380.1 875.0 L380.7 881.4 L381.3 865.2 L381.9 827.8 L382.5 883.8 L383.1 816.0 L383.7 852.0 L384.3 821.6 L384.8 872.6 L385.4 823.9 L386.0 856.6 L386.6 798.1 L387.2 846.8 L387.8 796.5 L388.4 816.9 L389.0 787.9 L389.6 810.7 L390.2 781.9 L390.8 823.6 L391.4 775.2 L391.9 800.3 L392.5 759.9 L393.1 797.7 L393.7 760.9 L394.3 831.9 L394.9 748.4 L395.5 789.4 L396.1 744.2 L396.7 812.8 L397.3 731.5 L397.9 789.1 L398.4 725.9 L399.0 779.7 L399.6 735.3 L400.2 770.2 L400.8 723.1 L401.4 774.2 L402.0 716.5 L402.6 755.8 L403.2 740.5 L403.8 794.1 L404.4 714.9 L405.0 742.1 L405.5 697.8 L406.1 751.6 L406.7 688.2 L407.3 732.6 L407.9 695.0 L408.5 781.2 L409.1 678.7 L409.7 729.1 L410.3 689.5 L410.9 746.4 L411.5 667.5 L412.0 717.7 L412.6 665.6 L413.2 739.3 L413.8 662.5 L414.4 704.0 L415.0 650.7 L415.6 721.1 L416.2 645.7 L416.8 712.4 L417.4 660.4 L418.0 689.8 L418.6 644.7 L419.1 686.8 L419.7 628.2 L420.3 677.8 L420.9 639.3 L421.5 730.3 L422.1 633.8 L422.7 667.8 L423.3 619.7 L423.9 689.0 L424.5 616.3 L425.1 656.7 L425.6 606.5 L426.2 678.9 L426.8 601.9 L427.4 672.6 L428.0 608.9 L428.6 670.7 L429.2 591.2 L429.8 651.0 L430.4 664.7 L431.0 656.9 L431.6 595.3 L432.2 641.3 L432.7 595.5 L433.3 651.3 L433.9 581.8 L434.5 629.4 L435.1 592.1 L435.7 639.4 L436.3 568.8 L436.9 611.3 L437.5 565.2 L438.1 638.1 L438.7 567.1 L439.2 619.7 L439.8 587.0 L440.4 625.8 L441.0 550.0 L441.6 637.1 L442.2 548.1 L442.8 588.9 L443.4 556.0 L444.0 609.0 L444.6 538.1 L445.2 630.6 L445.8 541.5 L446.3 595.9 L446.9 536.3 L447.5 590.4 L448.1 534.4 L448.7 597.5 L449.3 539.1 L449.9 572.7 L450.5 534.1 L451.1 579.0 L451.7 553.7 L452.3 578.9 L452.8 526.6 L453.4 547.9 L454.0 509.1 L454.6 575.6 L455.2 517.3 L455.8 542.3 L456.4 513.8 L457.0 576.3 L457.6 500.4 L458.2 561.1 L458.8 499.1 L459.4 551.4 L459.9 489.2 L460.5 565.1 L461.1 487.1 L461.7 553.9 L462.3 488.9 L462.9 550.0 L463.5 482.0 L464.1 538.9 L464.7 492.4 L465.3 540.1 L465.9 484.5 L466.4 517.5 L467.0 463.7 L467.6 532.3 L468.2 474.6 L468.8 516.6 L469.4 460.8 L470.0 509.9 L470.6 456.1 L471.2 537.3 L471.8 459.9 L472.4 511.6 L473.0 464.7 L473.5 522.7 L474.1 444.3 L474.7 524.8 L475.3 446.3 L475.9 476.9 L476.5 515.3 L477.1 572.5 L477.7 554.1 L478.3 616.0 L478.9 594.1 L479.5 663.8 L480.1 622.0 L480.6 667.1 L481.2 642.2 L481.8 701.1 L482.4 664.4 L483.0 700.3 L483.6 672.0 L484.2 732.6 L484.8 703.0 L485.4 751.3 L486.0 713.6 L486.6 740.8 L487.1 735.1 L487.7 764.9 L488.3 742.4 L488.9 768.0 L489.5 756.1 L490.1 827.2 L490.7 767.0 L491.3 804.9 L491.9 779.4 L492.5 803.0 L493.1 778.5 L493.7 812.3 L494.2 799.7 L494.8 835.4 L495.4 800.2 L496.0 844.4 L496.6 823.5 L497.2 845.5 L497.8 817.4 L498.4 870.5 L499.0 838.5 L499.6 883.7 L500.2 848.8 L500.7 894.1 L501.3 853.8 L501.9 895.2 L502.5 861.8 L503.1 904.4 L503.7 864.6 L504.3 902.5 L504.9 872.0 L505.5 920.8 L506.1 881.2 L506.7 935.9 L507.3 899.9 L507.8 941.2 L508.4 895.2 L509.0 941.9 L509.6 913.2 L510.2 943.0 L510.8 913.4 L511.4 958.0 L512.0 922.8 L512.6 945.8 L513.2 918.6 L513.8 971.0 L514.3 933.2 L514.9 982.1 L515.5 941.7 L516.1 971.2 L516.7 949.8 L517.3 997.3 L517.9 945.8 L518.5 995.8 L519.1 952.8 L519.7 995.6 L520.3 966.1 L520.9 1000.1 L521.4 976.2 L522.0 1007.2 L522.6 981.0 L523.2 995.9 L523.8 985.7 L524.4 1032.1 L525.0 983.0 L525.6 1029.8 L526.2 997.5 L526.8 1021.1 L527.4 986.0 L527.9 1026.8 L528.5 999.5 L529.1 1024.1 L529.7 1006.0 L530.3 1036.9 L530.9 1014.6 L531.5 1056.9 L532.1 1018.6 L532.7 1043.3 L533.3 1015.1 L533.9 1060.2 L534.5 1024.2 L535.0 1063.1 L535.6 1019.0 L536.2 1060.2 L536.8 1042.4 L537.4 1058.6 L538.0 1032.9 L538.6 1069.8 L539.2 1031.7 L539.8 1087.6 L540.4 1036.0 L541.0 1083.5 L541.5 1045.5 L542.1 1078.9 L542.7 1043.0 L543.3 1098.1 L543.9 945.6 L544.5 1078.9 L545.1 1061.1 L545.7 1111.2 L546.3 1050.5 L546.9 1106.8 L547.5 1066.0 L548.1 1121.8 L548.6 1061.3 L549.2 1117.6 L549.8 1078.5 L550.4 1128.8 L551.0 1072.1 L551.6 1128.9 L552.2 1085.7 L552.8 1120.1 L553.4 1081.3 L554.0 1136.7 L554.6 1077.0 L555.1 1128.5 L555.7 1092.6 L556.3 1134.3 L556.9 1097.6 L557.5 1141.4 L558.1 1093.0 L558.7 1127.6 L559.3 1094.3 L559.9 1137.8 L560.5 1105.1 L561.1 1149.5 L561.7 1104.0 L562.2 1149.1 L562.8 1098.6 L563.4 1143.9 L564.0 1099.4 L564.6 1162.4 L565.2 1116.6 L565.8 1152.7 L566.4 1110.5 L567.0 1162.7 L567.6 1107.5 L568.2 1172.1 L568.8 1115.5 L569.3 1161.5 L569.9 1125.1 L570.5 1158.6 L571.1 1126.6 L571.7 1171.6 L572.3 1113.5 L572.9 1172.1 L573.5 1129.5 L574.1 1170.3 L574.7 1127.5 L575.3 1168.3 L575.8 1129.4 L576.4 1169.6 L577.0 1125.5 L577.6 1162.8 L578.2 1126.7 L578.8 1173.7 L579.4 1137.9 L580.0 1182.2 L580.6 1139.5 L581.2 1169.2 L581.8 1139.3 L582.4 1180.3 L582.9 1147.4 L583.5 1184.2 L584.1 1142.4 L584.7 1169.8 L585.3 1145.5 L585.9 1193.2 L586.5 1142.7 L587.1 1188.0 L587.7 1146.5 L588.3 1194.2 L588.9 1153.6 L589.4 1184.4 L590.0 1143.9 L590.6 1202.4 L591.2 1146.3 L591.8 1196.7 L592.4 1145.3 L593.0 1198.6 L593.6 1155.1 L594.2 1188.6 L594.8 1154.1 L595.4 1204.2 L596.0 1159.9 L596.5 1199.1 L597.1 1155.1 L597.7 1200.9 L598.3 1148.6 L598.9 1181.4 L599.5 1152.3 L600.1 1180.5 L600.7 1164.2 L601.3 1183.6 L601.9 1151.0 L602.5 1182.6 L603.0 1144.5 L603.6 1197.7 L604.2 1162.9 L604.8 1207.9 L605.4 1157.0 L606.0 1194.1 L606.6 1161.6 L607.2 1188.0 L607.8 1154.7 L608.4 1203.6 L609.0 1150.9 L609.6 1191.5 L610.1 1150.8 L610.7 1206.7 L611.3 1170.7 L611.9 1196.7 L612.5 1152.2 L613.1 1187.2 L613.7 1173.6 L614.3 1212.5 L614.9 1161.3 L615.5 1192.0 L616.1 1150.3 L616.6 1189.5 L617.2 1157.2 L617.8 1200.8 L618.4 1163.7 L619.0 1213.4 L619.6 1153.4 L620.2 1227.8 L620.8 1112.4 L621.4 1132.9 L622.0 1088.9 L622.6 1097.0 L623.2 1054.5 L623.7 1115.5 L624.3 1036.8 L624.9 1059.7 L625.5 1005.1 L626.1 1057.4 L626.7 1005.3 L627.3 1035.1 L627.9 984.2 L628.5 1037.4 L629.1 974.4 L629.7 1002.7 L630.2 950.0 L630.8 1000.2 L631.4 940.1 L632.0 986.5 L632.6 919.9 L633.2 980.7 L633.8 963.6 L634.4 970.3 L635.0 910.8 L635.6 944.5 L636.2 893.7 L636.8 936.6 L637.3 889.3 L637.9 945.9 L638.5 873.7 L639.1 919.9 L639.7 853.0 L640.3 894.7 L640.9 858.8 L641.5 886.8 L642.1 839.2 L642.7 894.2 L643.3 840.0 L643.8 906.0 L644.4 815.2 L645.0 888.6 L645.6 813.9 L646.2 850.7 L646.8 816.2 L647.4 832.3 L648.0 790.3 L648.6 837.9 L649.2 772.3 L649.8 832.3 L650.4 760.8 L650.9 825.6 L651.5 771.0 L652.1 824.5 L652.7 751.0 L653.3 797.5 L653.9 746.0 L654.5 836.5 L655.1 748.7 L655.7 781.4 L656.3 729.7 L656.9 783.6 L657.5 726.9 L658.0 766.7 L658.6 720.6 L659.2 780.5 L659.8 702.8 L660.4 772.8 L661.0 696.8 L661.6 755.9 L662.2 703.5 L662.8 757.6 L663.4 687.7 L664.0 735.4 L664.5 676.1 L665.1 736.8 L665.7 666.5 L666.3 744.5 L666.9 663.4 L667.5 715.3 L668.1 659.5 L668.7 694.0 L669.3 642.2 L669.9 740.1 L670.5 653.8 L671.1 723.3 L671.6 647.7 L672.2 677.8 L672.8 638.4 L673.4 692.1 L674.0 631.7 L674.6 682.9 L675.2 614.4 L675.8 679.5 L676.4 604.2 L677.0 660.7 L677.6 603.1 L678.1 656.8 L678.7 614.5 L679.3 670.4 L679.9 594.1 L680.5 652.5 L681.1 601.2 L681.7 651.1 L682.3 595.4 L682.9 650.8 L683.5 594.6 L684.1 610.3 L684.7 569.6 L685.2 640.6 L685.8 560.9 L686.4 611.6 L687.0 572.4 L687.6 617.3 L688.2 571.8 L688.8 652.0 L689.4 570.8 L690.0 625.3 L690.6 562.2 L691.2 613.6 L691.7 543.7 L692.3 631.5 L692.9 549.8 L693.5 586.2 L694.1 539.7 L694.7 631.1 L695.3 541.9 L695.9 561.7 L696.5 535.2 L697.1 560.0 L697.7 529.1 L698.3 577.0 L698.8 525.6 L699.4 587.2 L700.0 505.1 L700.6 553.8 L701.2 514.6 L701.8 547.8 L702.4 510.5 L703.0 569.6 L703.6 498.1 L704.2 572.6 L704.8 497.3 L705.3 563.1 L705.9 485.4 L706.5 545.1 L707.1 500.1 L707.7 542.4 L708.3 489.4 L708.9 545.9 L709.5 471.9 L710.1 514.7 L710.7 469.7 L711.3 532.8 L711.9 509.4 L712.4 503.9 L713.0 463.4 L713.6 504.6 L714.2 468.9 L714.8 497.6 L715.4 467.8 L716.0 542.1 L716.6 490.7 L717.2 496.5 L717.8 453.8 L718.4 504.8 L718.9 450.7 L719.5 506.7 L720.1 448.8 L720.7 497.0 L721.3 455.7 L721.9 520.6 L722.5 433.3 L723.1 476.8 L723.7 438.8 L724.3 474.9 L724.9 426.0 L725.5 480.2 L726.0 434.6 L726.6 489.6 L727.2 442.1 L727.8 458.7 L728.4 420.1 L729.0 468.9 L729.6 426.4 L730.2 471.2 L730.8 431.6 L731.4 467.4 L732.0 418.4 L732.5 459.8 L733.1 412.5 L733.7 499.9 L734.3 423.0 L734.9 445.3 L735.5 445.5 L736.1 446.1 L736.7 407.8 L737.3 452.5 L737.9 405.8 L738.5 443.6 L739.1 389.4 L739.6 463.8 L740.2 393.4 L740.8 467.3 L741.4 395.8 L742.0 456.1 L742.6 391.7 L743.2 425.6 L743.8 390.7 L744.4 461.3 L745.0 387.0 L745.6 447.3 L746.2 381.1 L746.7 440.1 L747.3 387.7 L747.9 438.1 L748.5 392.5 L749.1 443.0 L749.7 390.5 L750.3 441.1 L750.9 386.2 L751.5 436.7 L752.1 384.8 L752.7 444.4 L753.2 371.3 L753.8 419.8 L754.4 374.4 L755.0 442.9 L755.6 382.8 L756.2 409.5 L756.8 361.2 L757.4 408.1 L758.0 364.4 L758.6 406.5 L759.2 370.6 L759.8 468.0 L760.3 460.5 L760.9 518.9 L761.5 490.4 L762.1 536.1 L762.7 521.8 L763.3 575.9 L763.9 549.7 L764.5 594.7 L765.1 578.9 L765.7 613.3 L766.3 585.4 L766.8 624.5 L767.4 608.9 L768.0 653.9 L768.6 616.6 L769.2 659.6 L769.8 632.3 L770.4 686.3 L771.0 659.7 L771.6 688.9 L772.2 658.1 L772.8 699.0 L773.4 676.7 L773.9 711.4 L774.5 684.7 L775.1 723.4 L775.7 693.4 L776.3 741.2 L776.9 717.7 L777.5 744.9 L778.1 728.0 L778.7 773.4 L779.3 727.4 L779.9 791.5 L780.4 738.8 L781.0 779.9 L781.6 744.9 L782.2 786.9 L782.8 766.6 L783.4 807.2 L784.0 768.1 L784.6 811.7 L785.2 787.6 L785.8 818.1 L786.4 777.5 L787.0 834.2 L787.5 792.1 L788.1 849.6 L788.7 810.7 L789.3 844.7 L789.9 803.4 L790.5 862.7 L791.1 808.6 L791.7 863.4 L792.3 829.5 L792.9 869.6 L793.5 827.3 L794.0 866.7 L794.6 838.4 L795.2 879.1 L795.8 856.8 L796.4 887.5 L797.0 857.9 L797.6 887.0 L798.2 874.6 L798.8 904.6 L799.4 876.9 L800.0 913.5 L800.6 885.7 L801.1 928.9 L801.7 876.1 L802.3 927.8 L802.9 879.1 L803.5 921.3 L804.1 899.0 L804.7 950.3 L805.3 892.5 L805.9 927.4 L806.5 908.5 L807.1 949.0 L807.6 912.0 L808.2 963.5 L808.8 913.5 L809.4 959.5 L810.0 920.7 L810.6 962.6 L811.2 921.3 L811.8 984.6 L812.4 928.0 L813.0 963.8 L813.6 938.5 L814.2 968.7 L814.7 946.5 L815.3 991.6 L815.9 956.7 L816.5 1000.7 L817.1 981.5 L817.7 1000.0 L818.3 950.2 L818.9 1012.2 L819.5 956.9 L820.1 1006.4 L820.7 962.7 L821.2 1002.0 L821.8 977.3 L822.4 1020.1 L823.0 979.7 L823.6 1024.7 L824.2 974.2 L824.8 1019.2 L825.4 979.6 L826.0 1023.4 L826.6 998.7 L827.2 1037.9 L827.8 997.8 L828.3 1026.6 L828.9 1000.8 L829.5 1045.7 L830.1 1002.4 L830.7 1049.7 L831.3 1005.0 L831.9 1042.4 L832.5 1006.5 L833.1 1063.9 L833.7 1045.5 L834.3 1067.3 L834.9 1017.7 L835.4 1072.7 L836.0 1021.4 L836.6 1064.2 L837.2 1029.8 L837.8 1067.8 L838.4 1031.1 L839.0 1078.2 L839.6 1030.5 L840.2 1085.8 L840.8 1045.2 L841.4 1077.3 L841.9 1052.0 L842.5 1072.9 L843.1 1059.7 L843.7 1100.2 L844.3 1043.0 L844.9 1083.1 L845.5 1046.3 L846.1 1076.5 L846.7 1043.5 L847.3 1080.7 L847.9 1048.0 L848.5 1084.5 L849.0 1048.4 L849.6 1110.4 L850.2 1068.6 L850.8 1105.4 L851.4 1061.5 L852.0 1117.0 L852.6 1064.7 L853.2 1101.8 L853.8 1070.4 L854.4 1109.7 L855.0 1065.7 L855.5 1104.9 L856.1 1068.8 L856.7 1130.3 L857.3 1082.7 L857.9 1111.6 L858.5 1086.3 L859.1 1113.7 L859.7 1072.8 L860.3 1132.9 L860.9 1083.5 L861.5 1125.8 L862.1 1082.5 L862.6 1140.6 L863.2 1086.5 L863.8 1119.1 L864.4 1092.1 L865.0 1144.5 L865.6 1094.6 L866.2 1147.7 L866.8 1106.5 L867.4 1126.8 L868.0 1095.8 L868.6 1129.6 L869.1 1107.1 L869.7 1142.9 L870.3 1105.8 L870.9 1145.2 L871.5 1101.6 L872.1 1141.1 L872.7 1101.7 L873.3 1151.6 L873.9 1102.4 L874.5 1133.2 L875.1 1152.1 L875.7 1143.7 L876.2 1117.7 L876.8 1139.9 L877.4 1115.9 L878.0 1163.3 L878.6 1122.4 L879.2 1173.0 L879.8 1115.7 L880.4 1170.0 L881.0 1118.1 L881.6 1155.8 L882.2 1118.5 L882.7 1152.4 L883.3 1129.9 L883.9 1159.1 L884.5 1123.7 L885.1 1158.2 L885.7 1139.3 L886.3 1152.7 L886.9 1131.6 L887.5 1150.5 L888.1 1135.0 L888.7 1169.6 L889.3 1125.1 L889.8 1184.8 L890.4 1140.2 L891.0 1187.4 L891.6 1141.8 L892.2 1184.5 L892.8 1148.1 L893.4 1166.9 L894.0 1145.6 L894.6 1171.4 L895.2 1134.5 L895.8 1175.0 L896.3 1147.5 L896.9 1169.7 L897.5 1150.2 L898.1 1191.6 L898.7 1137.8 L899.3 1185.3 L899.9 1137.9 L900.5 1193.8 L901.1 1139.5 L901.7 1180.0 L902.3 1156.2 L902.9 1197.3 L903.4 1143.6 L904.0 1194.3 L904.6 1113.5 L905.2 1106.2 L905.8 1025.4 L906.4 1034.2 L907.0 991.7 L907.6 1031.0 L908.2 976.8 L908.8 1003.8 L909.4 939.6 L909.9 997.1 L910.5 916.4 L911.1 1000.3 L911.7 911.6 L912.3 970.7 L912.9 895.7 L913.5 925.6 L914.1 880.0 L914.7 917.3 L915.3 853.3 L915.9 926.5 L916.5 853.2 L917.0 875.6 L917.6 829.3 L918.2 904.9 L918.8 821.5 L919.4 870.6 L920.0 812.2 L920.6 847.5 L921.2 812.4 L921.8 849.1 L922.4 805.2 L923.0 827.5 L923.6 830.4 L924.1 832.0 L924.7 773.4 L925.3 812.7 L925.9 775.2 L926.5 822.8 L927.1 770.5 L927.7 807.0 L928.3 762.1 L928.9 800.6 L929.5 760.0 L930.1 788.2 L930.6 734.7 L931.2 781.8 L931.8 742.4 L932.4 778.2 L933.0 727.1 L933.6 778.4 L934.2 783.8 L934.8 767.3 L935.4 713.9 L936.0 763.2 L936.6 720.5 L937.2 778.5 L937.7 702.1 L938.3 752.8 L938.9 695.0 L939.5 747.3 L940.1 683.5 L940.7 791.6 L941.3 686.2 L941.9 739.3 L942.5 695.7 L943.1 715.2 L943.7 672.9 L944.2 733.9 L944.8 663.1 L945.4 705.9 L946.0 673.3 L946.6 707.1 L947.2 657.4 L947.8 741.7 L948.4 659.3 L949.0 700.8 L949.6 653.4 L950.2 714.5 L950.8 656.0 L951.3 715.7 L951.9 641.2 L952.5 708.3 L953.1 632.6 L953.7 685.4 L954.3 624.9 L954.9 731.1 L955.5 628.8 L956.1 666.4 L956.7 629.6 L957.3 673.2 L957.8 623.7 L958.4 685.0 L959.0 607.6 L959.6 690.7 L960.2 614.4 L960.8 696.1 L961.4 598.6 L962.0 665.1 L962.6 605.0 L963.2 638.6 L963.8 601.2 L964.4 641.2 L964.9 587.6 L965.5 651.4 L966.1 591.2 L966.7 722.9 L967.3 600.0 L967.9 625.8 L968.5 588.9 L969.1 645.5 L969.7 592.2 L970.3 640.4 L970.9 607.1 L971.4 608.5 L972.0 578.9 L972.6 632.6 L973.2 593.4 L973.8 618.9 L974.4 567.6 L975.0 634.4 L975.6 567.3 L976.2 643.4 L976.8 567.9 L977.4 619.5 L978.0 550.4 L978.5 622.6 L979.1 543.1 L979.7 602.8 L980.3 547.8 L980.9 605.9 L981.5 546.1 L982.1 609.7 L982.7 537.3 L983.3 593.4 L983.9 548.3 L984.5 596.3 L985.0 540.2 L985.6 575.7 L986.2 529.4 L986.8 576.1 L987.4 523.7 L988.0 586.1 L988.6 518.1 L989.2 587.4 L989.8 516.5 L990.4 560.8 L991.0 532.4 L991.6 582.8 L992.1 510.9 L992.7 551.6 L993.3 515.3 L993.9 566.3 L994.5 522.3 L995.1 565.1 L995.7 533.3 L996.3 535.7 L996.9 499.8 L997.5 573.7 L998.1 491.1 L998.6 551.1 L999.2 488.5 L999.8 552.7 L1000.4 497.5 L1001.0 544.5 L1001.6 500.8 L1002.2 556.1 L1002.8 483.3 L1003.4 536.2 L1004.0 482.7 L1004.6 535.5 L1005.2 481.5 L1005.7 545.0 L1006.3 475.1 L1006.9 514.3 L1007.5 482.9 L1008.1 536.7 L1008.7 468.1 L1009.3 532.6 L1009.9 454.4 L1010.5 497.5 L1011.1 468.4 L1011.7 511.4 L1012.3 491.9 L1012.8 494.5 L1013.4 441.9 L1014.0 513.7 L1014.6 440.5 L1015.2 511.6 L1015.8 436.5 L1016.4 479.6 L1017.0 441.1 L1017.6 513.4 L1018.2 447.2 L1018.8 481.5 L1019.3 436.3 L1019.9 489.2 L1020.5 421.4 L1021.1 480.5 L1021.7 422.5 L1022.3 462.8 L1022.9 432.2 L1023.5 490.9 L1024.1 425.0 L1024.7 453.9 L1025.3 424.7 L1025.9 460.3 L1026.4 409.1 L1027.0 465.5 L1027.6 423.0 L1028.2 449.6 L1028.8 472.0 L1029.4 453.3 L1030.0 398.0 L1030.6 468.9 L1031.2 397.5 L1031.8 448.5 L1032.4 403.2 L1032.9 439.6 L1033.5 386.5 L1034.1 501.1 L1034.7 378.9 L1035.3 455.0 L1035.9 388.7 L1036.5 448.8 L1037.1 373.8 L1037.7 454.2 L1038.3 369.0 L1038.9 417.3 L1039.5 376.6 L1040.0 419.3 L1040.6 368.8 L1041.2 433.2 L1041.8 377.2 L1042.4 433.0 L1043.0 375.5 L1043.6 457.0 L1044.2 450.4 L1044.8 507.8 L1045.4 463.2 L1046.0 512.0 L1046.5 495.6 L1047.1 535.9 L1047.7 524.7 L1048.3 578.8 L1048.9 543.0 L1049.5 578.4 L1050.1 570.5 L1050.7 635.2 L1051.3 581.2 L1051.9 606.5 L1052.5 580.2 L1053.1 634.8 L1053.6 602.1 L1054.2 645.6 L1054.8 633.1 L1055.4 668.8 L1056.0 629.6 L1056.6 689.6 L1057.2 642.3 L1057.8 700.0 L1058.4 653.2 L1059.0 711.8 L1059.6 677.4 L1060.1 709.5 L1060.7 687.8 L1061.3 731.8 L1061.9 696.7 L1062.5 752.2 L1063.1 695.8 L1063.7 761.6 L1064.3 709.0 L1064.9 754.5 L1065.5 730.3 L1066.1 779.5 L1066.7 745.8 L1067.2 791.5 L1067.8 751.2 L1068.4 787.4 L1069.0 765.3 L1069.6 793.8 L1070.2 761.1 L1070.8 816.8 L1071.4 768.9 L1072.0 819.7 L1072.6 786.1 L1073.2 833.0 L1073.7 789.0 L1074.3 836.0 L1074.9 795.2 L1075.5 855.7 L1076.1 816.9 L1076.7 852.7 L1077.3 824.8 L1077.9 862.1 L1078.5 832.3 L1079.1 868.5 L1079.7 822.5 L1080.3 860.7 L1080.8 847.1 L1081.4 884.8 L1082.0 854.0 L1082.6 891.7 L1083.2 851.4 L1083.8 912.7 L1084.4 852.9 L1085.0 906.6 L1085.6 880.7 L1086.2 913.1 L1086.8 872.1 L1087.3 911.7 L1087.9 895.6 L1088.5 978.1 L1089.1 898.4 L1089.7 924.2 L1090.3 907.1 L1090.9 953.6 L1091.5 908.2 L1092.1 963.0 L1092.7 913.4 L1093.3 951.6 L1093.9 954.6 L1094.4 955.3 L1095.0 920.8 L1095.6 966.2 L1096.2 926.6 L1096.8 959.3 L1097.4 939.9 L1098.0 985.6 L1098.6 950.2 L1099.2 974.4 L1099.8 951.3 L1100.4 1006.7 L1101.0 951.4 L1101.5 986.7 L1102.1 966.3 L1102.7 1003.1 L1103.3 956.3 L1103.9 1010.8 L1104.5 976.8 L1105.1 1004.3 L1105.7 973.5 L1106.3 1008.8 L1106.9 983.7 L1107.5 1024.1 L1108.0 984.8 L1108.6 1020.7 L1109.2 983.7 L1109.8 1033.9 L1110.4 987.6 L1111.0 1036.5 L1111.6 1001.7 L1112.2 1034.7 L1112.8 1005.4 L1113.4 1053.6 L1114.0 1022.6 L1114.6 1057.9 L1115.1 1019.9 L1115.7 1046.0 L1116.3 1025.3 L1116.9 1060.0 L1117.5 1028.8 L1118.1 1066.8 L1118.7 1024.8 L1119.3 1058.0 L1119.9 1042.3 L1120.5 1083.4 L1121.1 1041.3 L1121.6 1084.9 L1122.2 1046.4 L1122.8 1085.5 L1123.4 1040.5 L1124.0 1082.4 L1124.6 1065.1 L1125.2 1073.2 L1125.8 1053.6 L1126.4 1104.6 L1127.0 1060.2 L1127.6 1094.0 L1128.2 1069.2 L1128.7 1100.1 L1129.3 1076.7 L1129.9 1099.6 L1130.5 1062.1 L1131.1 1092.5 L1131.7 1077.9 L1132.3 1108.4 L1132.9 1063.8 L1133.5 1116.8 L1134.1 1081.2 L1134.7 1124.0 L1135.2 1085.7 L1135.8 1118.9 L1136.4 1109.8 L1137.0 1114.6 L1137.6 1154.6 L1138.2 1116.2 L1138.8 1096.4 L1139.4 1113.3 L1140.0 1087.7 L1140.6 1142.6 L1141.2 1088.1 L1141.8 1134.6 L1142.3 1087.5 L1142.9 1138.2 L1143.5 1101.2 L1144.1 1139.0 L1144.7 1108.7 L1145.3 1136.8 L1145.9 1102.5 L1146.5 1169.5 L1147.1 1104.8 L1147.7 1146.1 L1148.3 1111.0 L1148.8 1143.3 L1149.4 1111.1 L1150.0 1136.5 L1150.6 1123.7 L1151.2 1146.2 L1151.8 1118.5 L1152.4 1143.5 L1153.0 1119.9 L1153.6 1150.1 L1154.2 1107.1 L1154.8 1155.4 L1155.4 1126.7 L1155.9 1151.1 L1156.5 1126.0 L1157.1 1154.0 L1157.7 1115.1 L1158.3 1158.3 L1158.9 1133.2 L1159.5 1160.4 L1160.1 1132.1 L1160.7 1169.0 L1161.3 1133.1 L1161.9 1175.4 L1162.4 1130.3 L1163.0 1164.0 L1163.6 1135.0 L1164.2 1175.8 L1164.8 1131.3 L1165.4 1164.4 L1166.0 1122.3 L1166.6 1179.2 L1167.2 1172.5 L1167.8 1168.1 L1168.4 1135.7 L1169.0 1164.7 L1169.5 1128.9 L1170.1 1185.4 L1170.7 1144.8 L1171.3 1166.4 L1171.9 1145.5 L1172.5 1184.6 L1173.1 1124.2 L1173.7 1165.4 L1174.3 1130.7 L1174.9 1183.2 L1175.5 1147.6 L1176.0 1166.1 L1176.6 1140.9 L1177.2 1170.4 L1177.8 1149.6 L1178.4 1184.6 L1179.0 1130.4 L1179.6 1187.4 L1180.2 1173.4 L1180.8 1183.8 L1181.4 1135.9 L1182.0 1187.1 L1182.6 1150.2 L1183.1 1175.9 L1183.7 1129.5 L1184.3 1195.7 L1184.9 1137.2 L1185.5 1105.4 L1186.1 1050.1 L1186.7 1067.8 L1187.3 1017.1 L1187.9 1058.6 L1188.5 996.9 L1189.1 1015.9 L1189.7 964.8 L1190.2 1021.7 L1190.8 941.6 L1191.4 979.7 L1192.0 926.4 L1192.6 993.7 L1193.2 918.0 L1193.8 951.3 L1194.4 901.9 L1195.0 951.6 L1195.6 895.7 L1196.2 945.3 L1196.7 888.5 L1197.3 906.8 L1197.9 864.7 L1198.5 902.9 L1199.1 851.2 L1199.7 905.2 L1200.3 832.7 L1200.9 944.0 L1201.5 831.5 L1202.1 874.7 L1202.7 829.8 L1203.3 854.6 L1203.8 816.4 L1204.4 860.5 L1205.0 809.3 L1205.6 862.4 L1206.2 843.5 L1206.8 835.9 L1207.4 775.5 L1208.0 843.9 L1208.6 770.6 L1209.2 810.1 L1209.8 778.7 L1210.3 890.6 L1210.9 761.6 L1211.5 800.3 L1212.1 757.1 L1212.7 800.6 L1213.3 755.5 L1213.9 811.1 L1214.5 773.4 L1215.1 846.6 L1215.7 726.8 L1216.3 788.7 L1216.9 719.8 L1217.4 777.1 L1218.0 710.2 L1218.6 754.3 L1219.2 714.4 L1219.8 765.1 L1220.4 716.5 L1221.0 765.8 L1221.6 704.0 L1222.2 742.7 L1222.8 697.7 L1223.4 727.8 L1223.9 688.4 L1224.5 740.4 L1225.1 677.9 L1225.7 721.8 L1226.3 668.2 L1226.9 716.4 L1227.5 700.6 L1228.1 718.5 L1228.7 672.0 L1229.3 719.3 L1229.9 660.8 L1230.5 697.0 L1231.0 658.8 L1231.6 712.9 L1232.2 651.7 L1232.8 768.4 L1233.4 647.5 L1234.0 706.1 L1234.6 642.2 L1235.2 685.5 L1235.8 642.3 L1236.4 695.5 L1237.0 632.9 L1237.5 676.2 L1238.1 659.1 L1238.7 699.5 L1239.3 627.7 L1239.9 654.4 L1240.5 617.4 L1241.1 653.5 L1241.7 614.4 L1242.3 650.3 L1242.9 596.0 L1243.5 655.6 L1244.1 598.1 L1244.6 639.2 L1245.2 604.1 L1245.8 645.6 L1246.4 599.7 L1247.0 686.2 L1247.6 597.8 L1248.2 647.6 L1248.8 572.4 L1249.4 623.4 L1250.0 575.3 L1250.6 624.4 L1251.1 565.5 L1251.7 674.6 L1252.3 562.2 L1252.9 609.9 L1253.5 559.1 L1254.1 619.4 L1254.7 571.2 L1255.3 661.7 L1255.9 555.9 L1256.5 598.6 L1257.1 561.1 L1257.7 602.4 L1258.2 540.6 L1258.8 593.5 L1259.4 547.7 L1260.0 595.5 L1260.6 534.8 L1261.2 578.4 L1261.8 538.0 L1262.4 569.4 L1263.0 530.3 L1263.6 567.1 L1264.2 530.4 L1264.8 575.1 L1265.3 521.9 L1265.9 589.6 L1266.5 545.1 L1267.1 575.5 L1267.7 528.5 L1268.3 577.5 L1268.9 502.2 L1269.5 550.4 L1270.1 497.4 L1270.7 574.1 L1271.3 498.9 L1271.8 550.6 L1272.4 513.9 L1273.0 611.4 L1273.6 504.1 L1274.2 535.4 L1274.8 504.9 L1275.4 535.2 L1276.0 487.9 L1276.6 559.2 L1277.2 486.9 L1277.8 555.4 L1278.4 475.9 L1278.9 544.3 L1279.5 486.4 L1280.1 514.1 L1280.7 490.1 L1281.3 505.7 L1281.9 464.8 L1282.5 520.1 L1283.1 490.9 L1283.7 517.2 L1284.3 474.6 L1284.9 509.6 L1285.4 459.3 L1286.0 514.4 L1286.6 479.4 L1287.2 516.8 L1287.8 460.8 L1288.4 493.4 L1289.0 457.0 L1289.6 489.5 L1290.2 497.3 L1290.8 484.9 L1291.4 443.9 L1292.0 480.9 L1292.5 439.9 L1293.1 481.4 L1293.7 438.2 L1294.3 483.9 L1294.9 439.5 L1295.5 505.2 L1296.1 442.1 L1296.7 501.7 L1297.3 421.2 L1297.9 492.3 L1298.5 432.3 L1299.0 468.9 L1299.6 419.9 L1300.2 458.4 L1300.8 422.2 L1301.4 494.7 L1302.0 446.0 L1302.6 462.9 L1303.2 423.2 L1303.8 508.7 L1304.4 421.8 L1305.0 484.3 L1305.6 403.0 L1306.1 471.9 L1306.7 416.9 L1307.3 454.9 L1307.9 410.1 L1308.5 444.1 L1309.1 400.5 L1309.7 435.0 L1310.3 398.6 L1310.9 445.1 L1311.5 395.8 L1312.1 480.0 L1312.6 404.8 L1313.2 432.8 L1313.8 380.0 L1314.4 444.9 L1315.0 383.1 L1315.6 453.5 L1316.2 399.6 L1316.8 434.4 L1317.4 380.6 L1318.0 418.3 L1318.6 378.1 L1319.2 440.8 L1319.7 374.9 L1320.3 431.1 L1320.9 384.4 L1321.5 407.3 L1322.1 359.3 L1322.7 416.3 L1323.3 368.6 L1323.9 434.3 L1324.5 367.5 L1325.1 420.0 L1325.7 360.0 L1326.2 394.3 L1326.8 422.6 L1327.4 464.6 L1328.0 450.7 L1328.6 511.5 L1329.2 480.0 L1329.8 530.6 L1330.4 544.0 L1331.0 559.0 L1331.6 534.6 L1332.2 580.1 L1332.8 550.0 L1333.3 593.5 L1333.9 569.5 L1334.5 607.9 L1335.1 580.3 L1335.7 616.9 L1336.3 586.8 L1336.9 634.9 L1337.5 602.4 L1338.1 661.7 L1338.7 613.9 L1339.3 671.1 L1339.8 632.4 L1340.4 675.8 L1341.0 654.6 L1341.6 692.2 L1342.2 669.2 L1342.8 695.0 L1343.4 667.0 L1344.0 733.4 L1344.6 693.7 L1345.2 714.4 L1345.8 702.6 L1346.4 723.9 L1346.9 702.5 L1347.5 747.7 L1348.1 717.2 L1348.7 762.8 L1349.3 723.0 L1349.9 771.4 L1350.5 730.6 L1351.1 784.7 L1351.7 750.9 L1352.3 794.7 L1352.9 758.2 L1353.4 812.2 L1354.0 768.8 L1354.6 808.7 L1355.2 771.8 L1355.8 820.4 L1356.4 781.9 L1357.0 862.6 L1357.6 784.3 L1358.2 848.9 L1358.8 797.0 L1359.4 841.5 L1360.0 810.8 L1360.5 843.0 L1361.1 829.4 L1361.7 861.1 L1362.3 839.9 L1362.9 879.2 L1363.5 835.6 L1364.1 885.6 L1364.7 845.0 L1365.3 893.2 L1365.9 854.3 L1366.5 895.2 L1367.1 856.5 L1367.6 886.1 L1368.2 867.6 L1368.8 909.5 L1369.4 878.3 L1370.0 920.4 L1370.6 886.9 L1371.2 909.6 L1371.8 882.6 L1372.4 939.6 L1373.0 903.0 L1373.6 922.1 L1374.1 895.3 L1374.7 940.5 L1375.3 916.5 L1375.9 954.7 L1376.5 920.0 L1377.1 955.4 L1377.7 927.1 L1378.3 952.9 L1378.9 922.5 L1379.5 971.4 L1380.1 925.9 L1380.7 975.7 L1381.2 884.5 L1381.8 991.9 L1382.4 949.6 L1383.0 974.1 L1383.6 956.9 L1384.2 990.8 L1384.8 957.6 L1385.4 990.2 L1386.0 960.8 L1386.6 1014.0 L1387.2 971.8 L1387.7 1011.0 L1388.3 964.2 L1388.9 1012.4 L1389.5 975.5 L1390.1 1006.7 L1390.7 985.7 L1391.3 1033.3 L1391.9 996.8 L1392.5 1027.4 L1393.1 991.2 L1393.7 1046.8 L1394.3 982.6 L1394.8 1036.7 L1395.4 999.7 L1396.0 1038.3 L1396.6 998.4 L1397.2 1062.4 L1397.8 1017.7 L1398.4 1058.0 L1399.0 1035.9 L1399.6 1063.4 L1400.2 1025.7 L1400.8 1056.3 L1401.3 1019.7 L1401.9 1072.8 L1402.5 1020.0 L1403.1 1080.3 L1403.7 1035.2 L1404.3 1061.1 L1404.9 1046.3 L1405.5 1076.1 L1406.1 1040.4 L1406.7 1093.6 L1407.3 1047.4 L1407.9 1088.8 L1408.4 1054.8 L1409.0 1098.6 L1409.6 1043.7 L1410.2 1082.6 L1410.8 1085.5 L1411.4 1102.9 L1412.0 1061.0 L1412.6 1102.1 L1413.2 1069.6 L1413.8 1101.4 L1414.4 1060.7 L1414.9 1093.3 L1415.5 1076.1 L1416.1 1120.0 L1416.7 1074.0 L1417.3 1106.8 L1417.9 1083.2 L1418.5 1114.7 L1419.1 1086.9 L1419.7 1112.7 L1420.3 1089.3 L1420.9 1110.4 L1421.5 1083.4 L1422.0 1126.4 L1422.6 1079.7 L1423.2 1115.3 L1423.8 1098.7 L1424.4 1117.2 L1425.0 1089.0 L1425.6 1123.9 L1426.2 1094.4 L1426.8 1125.8 L1427.4 1098.7 L1428.0 1124.9 L1428.5 1094.1 L1429.1 1139.6 L1429.7 1108.2 L1430.3 1140.2 L1430.9 1097.2 L1431.5 1159.5 L1432.1 1109.0 L1432.7 1139.5 L1433.3 1109.0 L1433.9 1136.4 L1434.5 1104.1 L1435.1 1149.2 L1435.6 1107.0 L1436.2 1164.3 L1436.8 1119.4 L1437.4 1165.1 L1438.0 1113.5 L1438.6 1161.5 L1439.2 1113.8 L1439.8 1150.3 L1440.4 1119.3 L1441.0 1185.8 L1441.6 1128.5 L1442.1 1170.2 L1442.7 1129.5 L1443.3 1161.9 L1443.9 1127.5 L1444.5 1168.3 L1445.1 1133.7 L1445.7 1178.5 L1446.3 1149.8 L1446.9 1171.0 L1447.5 1131.3 L1448.1 1170.0 L1448.7 1137.6 L1449.2 1178.1 L1449.8 1129.1 L1450.4 1172.7 L1451.0 1124.7 L1451.6 1183.3 L1452.2 1141.1 L1452.8 1186.0 L1453.4 1139.6 L1454.0 1173.2 L1454.6 1141.8 L1455.2 1167.1 L1455.8 1137.2 L1456.3 1186.9 L1456.9 1132.7 L1457.5 1168.9 L1458.1 1138.2 L1458.7 1164.0 L1459.3 1137.7 L1459.9 1179.6 L1460.5 1146.1 L1461.1 1161.8 L1461.7 1183.3 L1462.3 1170.2 L1462.8 1145.1 L1463.4 1191.9 L1464.0 1140.1 L1464.6 1204.8 L1465.2 1137.5 L1465.8 1189.0 L1466.4 1142.8 L1467.0 1170.7 L1467.6 1135.1 L1468.2 1172.7 L1468.8 1144.1 L1469.4 1131.0 L1469.9 1059.7 L1470.5 1086.4 L1471.1 1018.6 L1471.7 1046.4 L1472.3 995.3 L1472.9 1037.4 L1473.5 965.4 L1474.1 1014.4 L1474.7 948.9 L1475.3 977.3 L1475.9 936.1 L1476.4 996.5 L1477.0 920.5 L1477.6 961.3 L1478.2 898.3 L1478.8 940.3 L1479.4 913.2 L1480.0 921.6 L1480.6 883.7 L1481.2 927.3 L1481.8 870.6 L1482.4 904.5 L1483.0 867.0 L1483.5 917.4 L1484.1 846.7 L1484.7 887.8 L1485.3 858.7 L1485.9 871.6 L1486.5 866.2 L1487.1 890.6 L1487.7 803.5 L1488.3 857.3 L1488.9 808.5 L1489.5 847.0 L1490.0 787.4 L1490.6 847.3 L1491.2 794.4 L1491.8 826.9 L1492.4 783.2 L1493.0 814.4 L1493.6 771.0 L1494.2 811.6 L1494.8 774.6 L1495.4 795.7 L1496.0 752.8 L1496.6 812.3 L1497.1 749.5 L1497.7 776.5 L1498.3 750.4 L1498.9 780.5 L1499.5 733.3 L1500.1 799.8 L1500.7 719.2 L1501.3 788.5 L1501.9 752.2 L1502.5 770.1 L1503.1 711.9 L1503.6 751.2 L1504.2 712.1 L1504.8 763.4 L1505.4 694.6 L1506.0 732.2 L1506.6 689.9 L1507.2 758.8 L1507.8 691.7 L1508.4 751.2 L1509.0 680.7 L1509.6 740.0 L1510.2 668.0 L1510.7 708.2 L1511.3 669.0 L1511.9 706.1 L1512.5 675.1 L1513.1 703.1 L1513.7 651.2 L1514.3 712.3 L1514.9 647.1 L1515.5 687.6 L1516.1 641.5 L1516.7 698.8 L1517.2 631.5 L1517.8 697.4 L1518.4 643.9 L1519.0 673.3 L1519.6 621.6 L1520.2 729.7 L1520.8 617.0 L1521.4 664.3 L1522.0 619.1 L1522.6 662.3 L1523.2 606.2 L1523.8 655.9 L1524.3 617.6 L1524.9 638.9 L1525.5 605.7 L1526.1 657.6 L1526.7 599.6 L1527.3 674.0 L1527.9 636.3 L1528.5 637.1 L1529.1 598.6 L1529.7 627.5 L1530.3 594.2 L1530.8 642.8 L1531.4 584.1 L1532.0 652.6 L1532.6 622.5 L1533.2 631.7 L1533.8 576.1 L1534.4 629.1 L1535.0 570.4 L1535.6 633.3 L1536.2 571.9 L1536.8 605.8 L1537.4 557.3 L1537.9 626.1 L1538.5 560.5 L1539.1 619.4 L1539.7 560.0 L1540.3 597.5 L1540.9 549.1 L1541.5 584.8 L1542.1 536.2 L1542.7 608.6 L1543.3 544.0 L1543.9 577.9 L1544.5 533.8 L1545.0 605.6 L1545.6 548.3 L1546.2 575.3 L1546.8 532.5 L1547.4 579.0 L1548.0 584.3 L1548.6 573.9 L1549.2 511.2 L1549.8 589.3 L1550.4 515.8 L1551.0 561.3 L1551.5 519.1 L1552.1 554.4 L1552.7 507.6 L1553.3 559.1 L1553.9 514.8 L1554.5 537.1 L1555.1 507.8 L1555.7 548.9 L1556.3 503.6 L1556.9 573.3 L1557.5 498.4 L1558.1 562.9 L1558.6 525.1 L1559.2 598.5 L1559.8 479.3 L1560.4 520.3 L1561.0 487.6 L1561.6 551.3 L1562.2 478.5 L1562.8 532.5 L1563.4 464.8 L1564.0 519.8 L1564.6 464.2 L1565.1 524.1 L1565.7 466.4 L1566.3 513.1 L1566.9 456.0 L1567.5 523.0 L1568.1 458.1 L1568.7 519.4 L1569.3 467.1 L1569.9 504.6 L1570.5 459.1 L1571.1 510.2 L1571.7 457.5 L1572.2 513.7 L1572.8 438.6 L1573.4 506.3 L1574.0 494.4 L1574.6 490.5 L1575.2 446.3 L1575.8 503.3 L1576.4 442.4 L1577.0 493.1 L1577.6 430.9 L1578.2 494.0 L1578.7 432.7 L1579.3 484.0 L1579.9 433.7 L1580.5 489.8 L1581.1 428.0 L1581.7 492.4 L1582.3 414.4 L1582.9 467.0 L1583.5 414.9 L1584.1 475.8 L1584.7 410.0 L1585.3 464.4 L1585.8 408.0 L1586.4 458.9 L1587.0 404.6 L1587.6 479.3 L1588.2 414.0 L1588.8 474.7 L1589.4 393.4 L1590.0 437.2 L1590.6 394.8 L1591.2 465.9 L1591.8 446.7 L1592.3 448.8 L1592.9 397.5 L1593.5 454.4 L1594.1 393.6 L1594.7 445.7 L1595.3 382.6 L1595.9 421.4 L1596.5 393.6 L1597.1 441.7 L1597.7 374.8 L1598.3 428.8 L1598.9 381.3 L1599.4 422.4 L1600.0 385.5 L1600.6 446.2 L1601.2 383.8 L1601.8 425.5 L1602.4 389.4 L1603.0 424.8 L1603.6 369.0 L1604.2 408.9 L1604.8 371.9 L1605.4 399.9 L1605.9 365.0 L1606.5 400.1 L1607.1 368.1 L1607.7 419.0 L1608.3 403.9 L1608.9 435.3 L1609.5 357.5 L1610.1 392.6 L1610.7 358.4 L1611.3 405.4 L1611.9 359.4 L1612.5 453.1 L1613.0 450.4 L1613.6 538.6 L1614.2 502.0 L1614.8 557.0 L1615.4 519.6 L1616.0 582.8 L1616.6 558.8 L1617.2 597.7 L1617.8 568.0 L1618.4 637.0 L1619.0 590.4 L1619.5 627.5 L1620.1 603.6 L1620.7 664.0 L1621.3 618.5 L1621.9 682.5 L1622.5 641.6 L1623.1 685.2 L1623.7 658.9 L1624.3 706.4 L1624.9 679.7 L1625.5 716.4 L1626.1 698.1 L1626.6 739.0 L1627.2 704.6 L1627.8 747.1 L1628.4 718.1 L1629.0 757.5 L1629.6 728.0 L1630.2 777.1 L1630.8 741.6 L1631.4 782.4 L1632.0 762.4 L1632.6 787.9 L1633.2 763.0 L1633.7 806.7 L1634.3 762.9 L1634.9 822.9 L1635.5 780.5 L1636.1 815.2 L1636.7 795.4 L1637.3 824.4 L1637.9 795.2 L1638.5 830.3 L1639.1 804.4 L1639.7 844.0 L1640.2 820.5 L1640.8 861.6 L1641.4 820.7 L1642.0 866.7 L1642.6 837.9 L1643.2 910.5 L1643.8 851.7 L1644.4 894.4 L1645.0 858.3 L1645.6 901.1 L1646.2 854.7 L1646.8 910.0 L1647.3 867.3 L1647.9 897.0 L1648.5 877.5 L1649.1 901.3 L1649.7 882.8 L1650.3 913.4 L1650.9 891.7 L1651.5 937.0 L1652.1 892.5 L1652.7 923.0 L1653.3 891.8 L1653.8 928.5 L1654.4 920.0 L1655.0 939.8 L1655.6 908.9 L1656.2 956.9 L1656.8 912.7 L1657.4 970.7 L1658.0 921.2 L1658.6 957.6 L1659.2 921.4 L1659.8 978.2 L1660.4 943.6 L1660.9 987.6 L1661.5 937.0 L1662.1 983.1 L1662.7 952.4 L1663.3 994.0 L1663.9 959.6 L1664.5 990.6 L1665.1 954.4 L1665.7 1013.0 L1666.3 967.9 L1666.9 1004.1 L1667.4 966.3 L1668.0 997.9 L1668.6 979.1 L1669.2 1026.1 L1669.8 976.7 L1670.4 1017.6 L1671.0 977.7 L1671.6 1022.6 L1672.2 995.5 L1672.8 1036.1 L1673.4 991.9 L1674.0 1036.0 L1674.5 1004.2 L1675.1 1025.8 L1675.7 996.5 L1676.3 1032.9 L1676.9 1013.7 L1677.5 1037.9 L1678.1 1012.9 L1678.7 1064.5 L1679.3 1020.2 L1679.9 1064.0 L1680.5 1014.9 L1681.0 1050.4 L1681.6 1034.0 L1682.2 1073.2 L1682.8 1024.2 L1683.4 1059.9 L1684.0 1031.3 L1684.6 1073.1 L1685.2 1037.3 L1685.8 1079.9 L1686.4 1024.9 L1687.0 1087.7 L1687.6 1043.6 L1688.1 1072.7 L1688.7 1046.9 L1689.3 1070.8 L1689.9 1046.5 L1690.5 1106.6 L1691.1 1057.3 L1691.7 1129.8 L1692.3 1063.4 L1692.9 1105.2 L1693.5 1050.9 L1694.1 1106.6 L1694.6 1059.0 L1695.2 1109.3 L1695.8 1060.1 L1696.4 1092.7 L1697.0 1057.3 L1697.6 1115.8 L1698.2 1068.9 L1698.8 1121.4 L1699.4 1068.7 L1700.0 1121.7 L1700.6 1067.7 L1701.2 1127.0 L1701.7 1073.7 L1702.3 1118.0 L1702.9 1081.3 L1703.5 1116.3 L1704.1 1087.0 L1704.7 1111.3 L1705.3 1086.6 L1705.9 1113.9 L1706.5 1081.1 L1707.1 1126.9 L1707.7 1087.7 L1708.2 1130.4 L1708.8 1086.7 L1709.4 1130.3 L1710.0 1093.5 L1710.6 1131.2 L1711.2 1082.6 L1711.8 1148.2 L1712.4 1088.9 L1713.0 1142.3 L1713.6 1089.8 L1714.2 1133.6 L1714.8 1098.8 L1715.3 1141.1 L1715.9 1097.6 L1716.5 1150.0 L1717.1 995.4 L1717.7 1145.9 L1718.3 1097.0 L1718.9 1138.6 L1719.5 1098.0 L1720.1 1152.2 L1720.7 1101.7 L1721.3 1135.9 L1721.9 1117.8 L1722.4 1139.7 L1723.0 1108.9 L1723.6 1158.4 L1724.2 1113.2 L1724.8 1169.0 L1725.4 1108.1 L1726.0 1159.2 L1726.6 1111.9 L1727.2 1166.5 L1727.8 1112.8 L1728.4 1167.0 L1728.9 1113.7 L1729.5 1148.8 L1730.1 1105.4 L1730.7 1151.2 L1731.3 1114.0 L1731.9 1166.5 L1732.5 1129.5 L1733.1 1174.4 L1733.7 1128.2 L1734.3 1157.1 L1734.9 1122.8 L1735.5 1152.5 L1736.0 1122.3 L1736.6 1168.1 L1737.2 1119.8 L1737.8 1163.4 L1738.4 1127.2 L1739.0 1169.9 L1739.6 1124.7 L1740.2 1158.8 L1740.8 1131.2 L1741.4 1169.7 L1742.0 1132.0 L1742.5 1180.8 L1743.1 1119.6 L1743.7 1176.9 L1744.3 1133.4 L1744.9 1179.3 L1745.5 1135.3 L1746.1 1172.3 L1746.7 1132.5 L1747.3 1195.7 L1747.9 1135.0 L1748.5 1175.6 L1749.1 1134.4 L1749.6 1163.6 L1750.2 1129.2 L1750.8 1179.1 L1751.4 1135.9 L1752.0 1154.9 L1752.6 1130.2"/>
<path stroke="#FFC000" d="M335.8 1207.3 L336.4 1171.8 L336.9 1139.6 L337.5 1161.3 L338.1 1119.6 L338.7 1147.1 L339.3 1107.0 L339.9 1126.7 L340.5 1101.5 L341.1 1127.3 L341.7 1096.1 L342.3 1110.8 L342.9 1085.3 L343.5 1099.8 L344.0 1073.9 L344.6 1099.1 L345.2 1064.8 L345.8 1092.2 L346.4 1050.8 L347.0 1075.6 L347.6 1048.1 L348.2 1075.1 L348.8 1050.5 L349.4 1070.7 L350.0 1044.4 L350.5 1062.0 L351.1 1061.0 L351.7 1065.3 L352.3 1031.1 L352.9 1045.6 L353.5 1024.0 L354.1 1055.6 L354.7 1026.7 L355.3 1087.3 L355.9 1005.1 L356.5 1039.4 L357.1 1003.3 L357.6 1030.8 L358.2 1004.0 L358.8 1023.6 L359.4 992.5 L360.0 1023.9 L360.6 989.9 L361.2 1022.9 L361.8 988.3 L362.4 1014.5 L363.0 978.5 L363.6 1010.4 L364.1 980.4 L364.7 999.8 L365.3 1022.6 L365.9 990.3 L366.5 967.1 L367.1 990.6 L367.7 955.1 L368.3 997.6 L368.9 962.1 L369.5 981.9 L370.1 956.9 L370.7 986.0 L371.2 952.7 L371.8 968.9 L372.4 950.1 L373.0 977.7 L373.6 943.9 L374.2 970.8 L374.8 940.0 L375.4 966.9 L376.0 932.1 L376.6 957.2 L377.2 935.7 L377.8 955.6 L378.3 927.0 L378.9 948.9 L379.5 923.1 L380.1 950.3 L380.7 923.9 L381.3 953.5 L381.9 915.9 L382.5 944.5 L383.1 912.6 L383.7 933.3 L384.3 907.4 L384.8 993.5 L385.4 912.0 L386.0 942.1 L386.6 937.0 L387.2 926.4 L387.8 898.3 L388.4 921.8 L389.0 891.1 L389.6 920.8 L390.2 899.6 L390.8 916.3 L391.4 896.4 L391.9 927.3 L392.5 880.5 L393.1 921.1 L393.7 875.1 L394.3 919.7 L394.9 907.2 L395.5 917.9 L396.1 873.9 L396.7 905.2 L397.3 866.6 L397.9 892.1 L398.4 878.1 L399.0 954.5 L399.6 865.7 L400.2 900.7 L400.8 857.2 L401.4 898.4 L402.0 862.5 L402.6 879.1 L403.2 856.1 L403.8 892.8 L404.4 850.2 L405.0 890.7 L405.5 855.8 L406.1 927.3 L406.7 947.9 L407.3 879.3 L407.9 847.5 L408.5 875.9 L409.1 843.1 L409.7 874.7 L410.3 844.5 L410.9 864.1 L411.5 839.7 L412.0 856.0 L412.6 839.3 L413.2 860.8 L413.8 831.6 L414.4 867.3 L415.0 839.4 L415.6 868.9 L416.2 834.6 L416.8 856.6 L417.4 824.7 L418.0 860.2 L418.6 869.7 L419.1 848.0 L419.7 815.3 L420.3 847.7 L420.9 810.5 L421.5 848.0 L422.1 811.9 L422.7 833.3 L423.3 815.3 L423.9 894.6 L424.5 814.8 L425.1 837.4 L425.6 806.1 L426.2 836.7 L426.8 803.6 L427.4 836.7 L428.0 802.3 L428.6 843.3 L429.2 810.0 L429.8 841.5 L430.4 790.5 L431.0 830.4 L431.6 803.1 L432.2 832.4 L432.7 802.0 L433.3 825.3 L433.9 795.0 L434.5 827.2 L435.1 795.4 L435.7 821.5 L436.3 828.5 L436.9 820.3 L437.5 789.3 L438.1 816.7 L438.7 782.2 L439.2 820.7 L439.8 784.2 L440.4 813.2 L441.0 776.3 L441.6 808.3 L442.2 805.7 L442.8 799.9 L443.4 770.8 L444.0 808.4 L444.6 770.6 L445.2 806.0 L445.8 769.9 L446.3 793.6 L446.9 774.3 L447.5 804.6 L448.1 759.8 L448.7 804.2 L449.3 803.1 L449.9 800.1 L450.5 768.3 L451.1 781.9 L451.7 762.2 L452.3 791.3 L452.8 754.4 L453.4 788.7 L454.0 756.2 L454.6 780.7 L455.2 756.7 L455.8 785.6 L456.4 756.5 L457.0 777.0 L457.6 750.1 L458.2 791.6 L458.8 744.2 L459.4 783.7 L459.9 739.4 L460.5 783.7 L461.1 747.2 L461.7 775.4 L462.3 746.7 L462.9 773.4 L463.5 763.2 L464.1 770.9 L464.7 741.5 L465.3 762.0 L465.9 743.4 L466.4 778.0 L467.0 742.9 L467.6 761.1 L468.2 738.2 L468.8 756.6 L469.4 763.1 L470.0 765.5 L470.6 724.8 L471.2 757.6 L471.8 731.2 L472.4 796.9 L473.0 722.7 L473.5 751.6 L474.1 725.6 L474.7 756.7 L475.3 728.2 L475.9 770.7 L476.5 755.1 L477.1 803.3 L477.7 766.0 L478.3 859.9 L478.9 788.6 L479.5 825.4 L480.1 796.3 L480.6 831.0 L481.2 800.8 L481.8 844.1 L482.4 806.7 L483.0 848.0 L483.6 817.2 L484.2 856.5 L484.8 819.5 L485.4 932.8 L486.0 865.6 L486.6 865.9 L487.1 836.7 L487.7 871.7 L488.3 848.4 L488.9 880.7 L489.5 848.3 L490.1 884.0 L490.7 852.5 L491.3 896.5 L491.9 853.3 L492.5 897.7 L493.1 861.7 L493.7 902.7 L494.2 866.6 L494.8 907.2 L495.4 880.5 L496.0 971.6 L496.6 883.1 L497.2 903.6 L497.8 887.3 L498.4 914.5 L499.0 888.3 L499.6 927.7 L500.2 899.7 L500.7 914.6 L501.3 891.7 L501.9 928.3 L502.5 902.6 L503.1 927.7 L503.7 901.3 L504.3 938.5 L504.9 910.7 L505.5 952.4 L506.1 907.5 L506.7 944.9 L507.3 908.5 L507.8 940.5 L508.4 920.1 L509.0 956.8 L509.6 930.8 L510.2 959.9 L510.8 921.7 L511.4 956.8 L512.0 938.2 L512.6 951.2 L513.2 942.8 L513.8 967.5 L514.3 940.5 L514.9 968.0 L515.5 939.8 L516.1 973.5 L516.7 953.2 L517.3 979.3 L517.9 947.5 L518.5 980.9 L519.1 989.3 L519.7 974.3 L520.3 950.6 L520.9 1011.4 L521.4 956.8 L522.0 981.1 L522.6 964.5 L523.2 983.0 L523.8 959.6 L524.4 997.8 L525.0 965.5 L525.6 1006.1 L526.2 964.5 L526.8 1002.0 L527.4 970.7 L527.9 1000.7 L528.5 975.9 L529.1 1001.3 L529.7 977.4 L530.3 1019.1 L530.9 985.6 L531.5 1015.5 L532.1 980.7 L532.7 1020.4 L533.3 986.6 L533.9 1021.1 L534.5 1035.0 L535.0 1022.4 L535.6 987.8 L536.2 1025.8 L536.8 995.4 L537.4 1023.1 L538.0 999.5 L538.6 1015.7 L539.2 1047.7 L539.8 1025.8 L540.4 1003.8 L541.0 1030.1 L541.5 1001.0 L542.1 1036.0 L542.7 1008.2 L543.3 1039.2 L543.9 1011.0 L544.5 1045.4 L545.1 1001.6 L545.7 1044.7 L546.3 1020.1 L546.9 1034.0 L547.5 1003.5 L548.1 1039.9 L548.6 1013.9 L549.2 1056.7 L549.8 1020.9 L550.4 1053.5 L551.0 1016.9 L551.6 1045.3 L552.2 1016.9 L552.8 1041.1 L553.4 1020.0 L554.0 1065.6 L554.6 1025.6 L555.1 1058.1 L555.7 1029.5 L556.3 1064.9 L556.9 1026.9 L557.5 1051.5 L558.1 1020.2 L558.7 1058.1 L559.3 1034.5 L559.9 1069.3 L560.5 1028.7 L561.1 1074.6 L561.7 1035.8 L562.2 1056.9 L562.8 1041.3 L563.4 1067.7 L564.0 1040.6 L564.6 1079.6 L565.2 1031.0 L565.8 1072.3 L566.4 1036.9 L567.0 1078.7 L567.6 1042.6 L568.2 1082.2 L568.8 1042.8 L569.3 1086.6 L569.9 1047.4 L570.5 1073.3 L571.1 1044.4 L571.7 1072.6 L572.3 1061.7 L572.9 1085.3 L573.5 1046.3 L574.1 1087.0 L574.7 1049.1 L575.3 1081.1 L575.8 1047.1 L576.4 1088.3 L577.0 1059.8 L577.6 1129.0 L578.2 1054.7 L578.8 1087.0 L579.4 1059.7 L580.0 1098.7 L580.6 1054.3 L581.2 1093.0 L581.8 1055.7 L582.4 1096.0 L582.9 1056.1 L583.5 1100.8 L584.1 1059.0 L584.7 1091.6 L585.3 1065.4 L585.9 1089.0 L586.5 1065.0 L587.1 1093.4 L587.7 1067.4 L588.3 1094.5 L588.9 1062.0 L589.4 1093.0 L590.0 1067.7 L590.6 1108.1 L591.2 1072.2 L591.8 1087.9 L592.4 1064.5 L593.0 1097.4 L593.6 1071.4 L594.2 1099.3 L594.8 1067.5 L595.4 1100.8 L596.0 1077.6 L596.5 1107.4 L597.1 1117.3 L597.7 1110.3 L598.3 1113.6 L598.9 1112.8 L599.5 1078.8 L600.1 1093.7 L600.7 1075.2 L601.3 1116.3 L601.9 1075.1 L602.5 1114.3 L603.0 1079.8 L603.6 1108.5 L604.2 1081.5 L604.8 1109.7 L605.4 1073.1 L606.0 1113.5 L606.6 1081.6 L607.2 1100.9 L607.8 1072.6 L608.4 1098.5 L609.0 1076.1 L609.6 1112.7 L610.1 1079.6 L610.7 1104.2 L611.3 1092.7 L611.9 1107.9 L612.5 1092.7 L613.1 1106.6 L613.7 1075.8 L614.3 1116.5 L614.9 1076.5 L615.5 1108.3 L616.1 1082.2 L616.6 1115.3 L617.2 1087.2 L617.8 1156.4 L618.4 1089.9 L619.0 1112.0 L619.6 1078.8 L620.2 1104.6 L620.8 1083.8 L621.4 1116.2 L622.0 1091.9 L622.6 1119.6 L623.2 1089.2 L623.7 1113.2 L624.3 1089.1 L624.9 1084.8 L625.5 1050.7 L626.1 1098.1 L626.7 1036.3 L627.3 1057.7 L627.9 1018.1 L628.5 1038.7 L629.1 1001.8 L629.7 1041.5 L630.2 993.3 L630.8 1019.1 L631.4 983.1 L632.0 1020.6 L632.6 976.1 L633.2 1001.4 L633.8 978.5 L634.4 1004.3 L635.0 993.9 L635.6 991.6 L636.2 955.7 L636.8 998.6 L637.3 968.2 L637.9 991.4 L638.5 943.5 L639.1 988.2 L639.7 949.7 L640.3 974.0 L640.9 942.2 L641.5 966.4 L642.1 939.7 L642.7 967.0 L643.3 927.5 L643.8 953.8 L644.4 926.4 L645.0 944.9 L645.6 929.7 L646.2 943.9 L646.8 921.7 L647.4 934.2 L648.0 916.7 L648.6 986.3 L649.2 910.7 L649.8 935.6 L650.4 909.2 L650.9 931.5 L651.5 904.3 L652.1 920.2 L652.7 896.8 L653.3 919.4 L653.9 893.8 L654.5 910.9 L655.1 885.4 L655.7 915.1 L656.3 932.8 L656.9 924.5 L657.5 883.9 L658.0 907.7 L658.6 883.2 L659.2 900.9 L659.8 871.3 L660.4 898.2 L661.0 873.5 L661.6 890.0 L662.2 864.1 L662.8 889.2 L663.4 862.0 L664.0 888.5 L664.5 864.6 L665.1 884.9 L665.7 867.2 L666.3 888.4 L666.9 851.2 L667.5 879.0 L668.1 846.9 L668.7 886.1 L669.3 855.9 L669.9 875.7 L670.5 851.1 L671.1 869.6 L671.6 849.8 L672.2 875.7 L672.8 834.4 L673.4 862.0 L674.0 844.9 L674.6 867.7 L675.2 829.8 L675.8 863.1 L676.4 838.0 L677.0 855.2 L677.6 827.2 L678.1 855.2 L678.7 820.1 L679.3 861.1 L679.9 818.0 L680.5 861.7 L681.1 817.0 L681.7 850.3 L682.3 817.3 L682.9 849.8 L683.5 818.5 L684.1 852.0 L684.7 806.0 L685.2 842.9 L685.8 809.8 L686.4 833.0 L687.0 814.6 L687.6 846.4 L688.2 803.3 L688.8 834.5 L689.4 822.7 L690.0 826.9 L690.6 825.6 L691.2 844.6 L691.7 830.0 L692.3 837.0 L692.9 799.2 L693.5 830.1 L694.1 824.2 L694.7 817.4 L695.3 791.8 L695.9 824.5 L696.5 834.8 L697.1 821.2 L697.7 781.1 L698.3 816.3 L698.8 777.3 L699.4 806.9 L700.0 786.6 L700.6 820.3 L701.2 783.3 L701.8 809.7 L702.4 785.3 L703.0 802.8 L703.6 778.7 L704.2 799.2 L704.8 769.0 L705.3 796.9 L705.9 770.9 L706.5 808.5 L707.1 766.5 L707.7 793.1 L708.3 772.3 L708.9 794.1 L709.5 800.7 L710.1 806.2 L710.7 773.2 L711.3 790.8 L711.9 767.0 L712.4 801.7 L713.0 760.9 L713.6 788.7 L714.2 759.0 L714.8 780.9 L715.4 764.1 L716.0 790.3 L716.6 827.9 L717.2 778.5 L717.8 803.8 L718.4 771.8 L718.9 753.4 L719.5 776.1 L720.1 748.7 L720.7 790.6 L721.3 750.4 L721.9 777.3 L722.5 752.8 L723.1 826.5 L723.7 753.2 L724.3 781.3 L724.9 745.0 L725.5 773.2 L726.0 741.3 L726.6 776.4 L727.2 743.2 L727.8 761.8 L728.4 741.7 L729.0 767.7 L729.6 742.1 L730.2 762.7 L730.8 740.6 L731.4 757.7 L732.0 786.0 L732.5 755.5 L733.1 731.1 L733.7 774.6 L734.3 729.6 L734.9 755.7 L735.5 728.3 L736.1 750.5 L736.7 730.8 L737.3 762.6 L737.9 721.5 L738.5 744.9 L739.1 731.4 L739.6 759.5 L740.2 726.1 L740.8 764.1 L741.4 729.0 L742.0 748.0 L742.6 769.4 L743.2 742.7 L743.8 726.3 L744.4 792.7 L745.0 714.9 L745.6 802.2 L746.2 719.0 L746.7 778.3 L747.3 723.5 L747.9 746.0 L748.5 723.4 L749.1 746.4 L749.7 716.3 L750.3 790.5 L750.9 714.6 L751.5 735.3 L752.1 706.3 L752.7 768.8 L753.2 715.7 L753.8 744.0 L754.4 716.5 L755.0 747.1 L755.6 700.5 L756.2 730.8 L756.8 714.0 L757.4 743.0 L758.0 743.7 L758.6 725.6 L759.2 701.7 L759.8 738.1 L760.3 704.8 L760.9 727.0 L761.5 697.3 L762.1 727.7 L762.7 700.4 L763.3 729.1 L763.9 707.5 L764.5 733.3 L765.1 730.5 L765.7 773.8 L766.3 746.1 L766.8 775.4 L767.4 761.8 L768.0 803.6 L768.6 765.7 L769.2 815.7 L769.8 769.1 L770.4 816.5 L771.0 789.8 L771.6 860.9 L772.2 793.7 L772.8 835.9 L773.4 797.3 L773.9 833.3 L774.5 808.8 L775.1 831.1 L775.7 808.6 L776.3 852.6 L776.9 827.1 L777.5 867.2 L778.1 827.7 L778.7 868.9 L779.3 827.3 L779.9 873.3 L780.4 832.6 L781.0 872.3 L781.6 840.8 L782.2 886.6 L782.8 847.6 L783.4 875.6 L784.0 856.2 L784.6 880.0 L785.2 855.3 L785.8 896.9 L786.4 869.1 L787.0 897.0 L787.5 865.3 L788.1 892.8 L788.7 871.5 L789.3 910.1 L789.9 896.2 L790.5 930.7 L791.1 884.8 L791.7 940.6 L792.3 880.2 L792.9 914.1 L793.5 889.1 L794.0 915.8 L794.6 891.8 L795.2 929.4 L795.8 895.3 L796.4 983.0 L797.0 955.0 L797.6 975.9 L798.2 907.0 L798.8 930.0 L799.4 909.1 L800.0 942.2 L800.6 911.5 L801.1 941.5 L801.7 907.6 L802.3 946.6 L802.9 920.7 L803.5 966.5 L804.1 923.5 L804.7 948.8 L805.3 917.4 L805.9 957.2 L806.5 920.9 L807.1 962.9 L807.6 922.0 L808.2 959.1 L808.8 933.4 L809.4 957.9 L810.0 933.4 L810.6 976.3 L811.2 939.1 L811.8 956.0 L812.4 887.5 L813.0 955.3 L813.6 941.6 L814.2 976.0 L814.7 940.1 L815.3 966.1 L815.9 950.7 L816.5 976.3 L817.1 948.0 L817.7 987.9 L818.3 957.2 L818.9 980.3 L819.5 952.8 L820.1 1052.4 L820.7 958.3 L821.2 989.4 L821.8 957.7 L822.4 999.2 L823.0 970.9 L823.6 1003.7 L824.2 966.8 L824.8 986.5 L825.4 966.1 L826.0 1001.2 L826.6 970.7 L827.2 999.1 L827.8 973.4 L828.3 993.3 L828.9 976.1 L829.5 1001.3 L830.1 982.4 L830.7 1003.1 L831.3 972.3 L831.9 1000.7 L832.5 1023.1 L833.1 1013.0 L833.7 981.9 L834.3 1007.2 L834.9 978.9 L835.4 1009.6 L836.0 983.7 L836.6 1014.5 L837.2 985.8 L837.8 1013.9 L838.4 994.2 L839.0 1020.9 L839.6 994.8 L840.2 1035.6 L840.8 989.4 L841.4 1058.2 L841.9 995.3 L842.5 1040.1 L843.1 996.6 L843.7 1029.2 L844.3 1003.3 L844.9 1032.0 L845.5 999.0 L846.1 1035.2 L846.7 1002.2 L847.3 1023.8 L847.9 1030.8 L848.5 1041.8 L849.0 1014.4 L849.6 1035.6 L850.2 1008.5 L850.8 1034.7 L851.4 1009.3 L852.0 1055.5 L852.6 1019.5 L853.2 1047.2 L853.8 1019.7 L854.4 1054.7 L855.0 1023.6 L855.5 1058.0 L856.1 1024.5 L856.7 1056.5 L857.3 1025.3 L857.9 1056.0 L858.5 1023.3 L859.1 1056.2 L859.7 1029.5 L860.3 1051.7 L860.9 1023.4 L861.5 1064.2 L862.1 1017.7 L862.6 1102.1 L863.2 1027.6 L863.8 1070.9 L864.4 1032.3 L865.0 1059.1 L865.6 1027.8 L866.2 1054.2 L866.8 1079.5 L867.4 1110.0 L868.0 1035.2 L868.6 1074.5 L869.1 1036.0 L869.7 1070.3 L870.3 1043.8 L870.9 1064.1 L871.5 1042.5 L872.1 1068.3 L872.7 1045.6 L873.3 1091.7 L873.9 1051.3 L874.5 1072.2 L875.1 1041.7 L875.7 1081.5 L876.2 1049.2 L876.8 1086.0 L877.4 1052.0 L878.0 1083.3 L878.6 1056.9 L879.2 1071.3 L879.8 1046.6 L880.4 1078.0 L881.0 1063.0 L881.6 1111.6 L882.2 1050.7 L882.7 1089.7 L883.3 1056.1 L883.9 1087.0 L884.5 1057.9 L885.1 1088.0 L885.7 1058.1 L886.3 1088.3 L886.9 1065.4 L887.5 1118.9 L888.1 1059.4 L888.7 1092.7 L889.3 1061.9 L889.8 1086.6 L890.4 1057.0 L891.0 1098.6 L891.6 1062.4 L892.2 1097.5 L892.8 1078.0 L893.4 1098.3 L894.0 1070.2 L894.6 1096.8 L895.2 1068.8 L895.8 1105.3 L896.3 1076.5 L896.9 1112.6 L897.5 1069.9 L898.1 1095.3 L898.7 1077.8 L899.3 1103.7 L899.9 1077.9 L900.5 1101.2 L901.1 1080.3 L901.7 1103.1 L902.3 1082.3 L902.9 1102.1 L903.4 1073.8 L904.0 1108.7 L904.6 1073.0 L905.2 1106.9 L905.8 1087.4 L906.4 1104.5 L907.0 1084.5 L907.6 1111.0 L908.2 1084.7 L908.8 1080.3 L909.4 1040.3 L909.9 1051.7 L910.5 1031.5 L911.1 1038.2 L911.7 1013.2 L912.3 1024.8 L912.9 998.8 L913.5 1019.1 L914.1 988.8 L914.7 1003.7 L915.3 976.9 L915.9 1014.0 L916.5 964.0 L917.0 992.6 L917.6 958.1 L918.2 984.5 L918.8 949.3 L919.4 981.8 L920.0 945.0 L920.6 974.2 L921.2 1002.5 L921.8 972.5 L922.4 932.2 L923.0 963.6 L923.6 967.6 L924.1 976.6 L924.7 926.0 L925.3 956.1 L925.9 909.8 L926.5 949.5 L927.1 909.2 L927.7 945.2 L928.3 908.3 L928.9 950.9 L929.5 899.5 L930.1 920.7 L930.6 891.9 L931.2 918.2 L931.8 887.1 L932.4 908.1 L933.0 891.2 L933.6 921.4 L934.2 887.0 L934.8 918.0 L935.4 884.0 L936.0 902.9 L936.6 872.7 L937.2 941.2 L937.7 868.6 L938.3 895.8 L938.9 862.8 L939.5 895.5 L940.1 857.8 L940.7 899.8 L941.3 852.7 L941.9 908.8 L942.5 853.1 L943.1 881.5 L943.7 848.6 L944.2 877.4 L944.8 847.8 L945.4 873.4 L946.0 849.0 L946.6 877.5 L947.2 835.8 L947.8 868.6 L948.4 839.8 L949.0 873.1 L949.6 844.1 L950.2 858.2 L950.8 841.8 L951.3 858.5 L951.9 827.0 L952.5 859.0 L953.1 823.8 L953.7 861.2 L954.3 823.7 L954.9 859.5 L955.5 815.8 L956.1 869.9 L956.7 820.7 L957.3 845.5 L957.8 820.8 L958.4 850.9 L959.0 812.4 L959.6 842.6 L960.2 807.8 L960.8 827.0 L961.4 800.2 L962.0 845.1 L962.6 810.7 L963.2 824.3 L963.8 801.3 L964.4 821.5 L964.9 793.8 L965.5 823.2 L966.1 787.6 L966.7 878.9 L967.3 875.5 L967.9 809.6 L968.5 787.4 L969.1 808.8 L969.7 786.2 L970.3 812.7 L970.9 793.2 L971.4 810.6 L972.0 785.0 L972.6 808.2 L973.2 780.1 L973.8 807.2 L974.4 783.4 L975.0 816.9 L975.6 781.8 L976.2 809.8 L976.8 773.5 L977.4 810.1 L978.0 775.0 L978.5 794.1 L979.1 767.0 L979.7 865.0 L980.3 846.0 L980.9 798.3 L981.5 763.0 L982.1 788.3 L982.7 757.0 L983.3 799.4 L983.9 785.9 L984.5 787.3 L985.0 764.9 L985.6 790.8 L986.2 761.5 L986.8 794.2 L987.4 761.8 L988.0 788.8 L988.6 756.5 L989.2 775.5 L989.8 754.8 L990.4 784.9 L991.0 754.2 L991.6 788.0 L992.1 755.7 L992.7 775.9 L993.3 753.6 L993.9 767.1 L994.5 742.6 L995.1 782.8 L995.7 745.4 L996.3 779.3 L996.9 748.9 L997.5 770.4 L998.1 748.1 L998.6 770.6 L999.2 744.0 L999.8 763.7 L1000.4 746.8 L1001.0 781.0 L1001.6 739.2 L1002.2 773.5 L1002.8 735.9 L1003.4 775.4 L1004.0 738.7 L1004.6 793.8 L1005.2 729.4 L1005.7 757.0 L1006.3 734.1 L1006.9 753.8 L1007.5 736.2 L1008.1 762.9 L1008.7 737.5 L1009.3 764.2 L1009.9 734.5 L1010.5 771.1 L1011.1 730.2 L1011.7 761.3 L1012.3 720.7 L1012.8 747.1 L1013.4 731.5 L1014.0 752.9 L1014.6 724.5 L1015.2 746.7 L1015.8 719.9 L1016.4 761.6 L1017.0 727.2 L1017.6 760.2 L1018.2 765.4 L1018.8 747.6 L1019.3 721.2 L1019.9 753.4 L1020.5 721.9 L1021.1 753.3 L1021.7 725.8 L1022.3 756.0 L1022.9 724.1 L1023.5 742.2 L1024.1 724.6 L1024.7 745.7 L1025.3 719.2 L1025.9 737.7 L1026.4 719.4 L1027.0 747.0 L1027.6 722.7 L1028.2 738.7 L1028.8 713.8 L1029.4 740.9 L1030.0 720.6 L1030.6 740.4 L1031.2 713.1 L1031.8 740.4 L1032.4 714.1 L1032.9 738.7 L1033.5 711.7 L1034.1 743.6 L1034.7 709.0 L1035.3 735.4 L1035.9 712.3 L1036.5 737.9 L1037.1 706.5 L1037.7 747.7 L1038.3 703.2 L1038.9 747.9 L1039.5 717.3 L1040.0 728.7 L1040.6 704.7 L1041.2 744.3 L1041.8 707.0 L1042.4 741.2 L1043.0 702.7 L1043.6 747.0 L1044.2 701.8 L1044.8 728.5 L1045.4 699.7 L1046.0 738.0 L1046.5 700.9 L1047.1 741.8 L1047.7 707.5 L1048.3 730.2 L1048.9 733.1 L1049.5 773.8 L1050.1 751.5 L1050.7 777.2 L1051.3 762.6 L1051.9 795.0 L1052.5 759.6 L1053.1 800.1 L1053.6 777.3 L1054.2 823.5 L1054.8 788.3 L1055.4 828.8 L1056.0 799.5 L1056.6 818.8 L1057.2 822.6 L1057.8 841.3 L1058.4 798.8 L1059.0 843.4 L1059.6 868.6 L1060.1 841.4 L1060.7 813.0 L1061.3 848.9 L1061.9 822.4 L1062.5 849.1 L1063.1 829.7 L1063.7 859.8 L1064.3 882.1 L1064.9 855.0 L1065.5 835.3 L1066.1 874.9 L1066.7 845.7 L1067.2 877.2 L1067.8 842.0 L1068.4 886.2 L1069.0 846.5 L1069.6 878.5 L1070.2 860.9 L1070.8 893.2 L1071.4 856.7 L1072.0 894.3 L1072.6 858.4 L1073.2 933.6 L1073.7 864.0 L1074.3 909.2 L1074.9 866.5 L1075.5 910.5 L1076.1 884.3 L1076.7 909.3 L1077.3 877.1 L1077.9 904.8 L1078.5 879.5 L1079.1 926.9 L1079.7 883.0 L1080.3 911.5 L1080.8 890.7 L1081.4 916.6 L1082.0 894.8 L1082.6 935.7 L1083.2 907.0 L1083.8 930.8 L1084.4 957.3 L1085.0 923.7 L1085.6 899.6 L1086.2 945.2 L1086.8 912.5 L1087.3 935.2 L1087.9 915.4 L1088.5 949.3 L1089.1 910.8 L1089.7 957.1 L1090.3 923.1 L1090.9 940.2 L1091.5 924.0 L1092.1 959.4 L1092.7 945.1 L1093.3 969.7 L1093.9 930.1 L1094.4 966.8 L1095.0 938.1 L1095.6 966.6 L1096.2 937.4 L1096.8 972.5 L1097.4 941.2 L1098.0 961.0 L1098.6 940.1 L1099.2 978.9 L1099.8 940.7 L1100.4 976.0 L1101.0 949.5 L1101.5 1042.5 L1102.1 951.5 L1102.7 990.4 L1103.3 945.2 L1103.9 987.6 L1104.5 948.5 L1105.1 982.5 L1105.7 962.6 L1106.3 981.5 L1106.9 953.6 L1107.5 998.6 L1108.0 991.3 L1108.6 996.6 L1109.2 965.8 L1109.8 988.0 L1110.4 967.4 L1111.0 1002.0 L1111.6 1011.1 L1112.2 1009.9 L1112.8 969.8 L1113.4 993.6 L1114.0 1015.0 L1114.6 1010.3 L1115.1 973.8 L1115.7 1010.9 L1116.3 983.1 L1116.9 1003.8 L1117.5 982.1 L1118.1 1013.4 L1118.7 986.7 L1119.3 1018.6 L1119.9 983.5 L1120.5 1020.7 L1121.1 990.0 L1121.6 1008.3 L1122.2 991.6 L1122.8 1031.7 L1123.4 999.1 L1124.0 1026.0 L1124.6 1050.0 L1125.2 1029.8 L1125.8 1000.9 L1126.4 1028.5 L1127.0 1001.8 L1127.6 1034.3 L1128.2 1002.5 L1128.7 1030.0 L1129.3 997.0 L1129.9 1036.2 L1130.5 999.9 L1131.1 1045.9 L1131.7 1005.9 L1132.3 1032.2 L1132.9 1007.2 L1133.5 1045.0 L1134.1 1012.4 L1134.7 1028.2 L1135.2 1010.6 L1135.8 1036.6 L1136.4 1013.6 L1137.0 1055.7 L1137.6 1014.3 L1138.2 1052.4 L1138.8 1023.3 L1139.4 1047.4 L1140.0 1024.0 L1140.6 1045.8 L1141.2 1020.6 L1141.8 1057.0 L1142.3 1025.8 L1142.9 1048.1 L1143.5 1025.0 L1144.1 1051.0 L1144.7 1026.3 L1145.3 1047.5 L1145.9 1029.2 L1146.5 1068.2 L1147.1 1030.2 L1147.7 1059.4 L1148.3 1020.1 L1148.8 1120.5 L1149.4 1029.5 L1150.0 1071.2 L1150.6 1033.0 L1151.2 1065.6 L1151.8 1039.5 L1152.4 1074.8 L1153.0 1035.2 L1153.6 1059.2 L1154.2 1042.9 L1154.8 1065.4 L1155.4 1047.1 L1155.9 1074.7 L1156.5 1046.9 L1157.1 1077.2 L1157.7 1042.7 L1158.3 1074.9 L1158.9 1050.7 L1159.5 1077.2 L1160.1 1049.6 L1160.7 1076.3 L1161.3 1050.2 L1161.9 1067.4 L1162.4 1050.4 L1163.0 1145.5 L1163.6 1046.9 L1164.2 1086.3 L1164.8 1057.5 L1165.4 1079.6 L1166.0 1049.3 L1166.6 1078.9 L1167.2 1053.5 L1167.8 1090.8 L1168.4 1059.7 L1169.0 1086.4 L1169.5 1063.6 L1170.1 1079.4 L1170.7 1050.3 L1171.3 1094.9 L1171.9 1061.9 L1172.5 1098.5 L1173.1 1056.6 L1173.7 1079.8 L1174.3 1058.6 L1174.9 1089.9 L1175.5 1058.8 L1176.0 1094.9 L1176.6 1061.3 L1177.2 1099.6 L1177.8 1067.6 L1178.4 1097.6 L1179.0 1067.3 L1179.6 1094.8 L1180.2 1087.2 L1180.8 1093.9 L1181.4 1073.3 L1182.0 1097.2 L1182.6 1066.8 L1183.1 1090.3 L1183.7 1088.5 L1184.3 1133.9 L1184.9 1063.5 L1185.5 1095.3 L1186.1 1071.0 L1186.7 1107.8 L1187.3 1069.2 L1187.9 1153.6 L1188.5 1067.1 L1189.1 1135.5 L1189.7 1072.3 L1190.2 1095.4 L1190.8 1082.9 L1191.4 1109.4 L1192.0 1079.3 L1192.6 1095.9 L1193.2 1064.9 L1193.8 1069.5 L1194.4 1037.6 L1195.0 1060.8 L1195.6 1058.3 L1196.2 1098.9 L1196.7 1008.2 L1197.3 1043.8 L1197.9 996.4 L1198.5 1033.9 L1199.1 998.2 L1199.7 1017.5 L1200.3 983.0 L1200.9 1010.0 L1201.5 979.6 L1202.1 998.6 L1202.7 996.3 L1203.3 1001.9 L1203.8 958.1 L1204.4 990.6 L1205.0 954.5 L1205.6 989.8 L1206.2 947.2 L1206.8 967.4 L1207.4 940.0 L1208.0 969.9 L1208.6 939.5 L1209.2 954.8 L1209.8 937.8 L1210.3 946.3 L1210.9 929.5 L1211.5 950.8 L1212.1 928.1 L1212.7 943.7 L1213.3 916.6 L1213.9 932.5 L1214.5 918.2 L1215.1 941.6 L1215.7 900.4 L1216.3 929.9 L1216.9 900.4 L1217.4 922.4 L1218.0 902.7 L1218.6 920.7 L1219.2 894.7 L1219.8 957.4 L1220.4 884.4 L1221.0 912.0 L1221.6 884.2 L1222.2 908.1 L1222.8 890.0 L1223.4 914.9 L1223.9 875.8 L1224.5 910.5 L1225.1 863.2 L1225.7 902.9 L1226.3 867.0 L1226.9 895.9 L1227.5 859.6 L1228.1 883.3 L1228.7 862.1 L1229.3 891.1 L1229.9 858.3 L1230.5 876.8 L1231.0 842.2 L1231.6 873.6 L1232.2 851.8 L1232.8 888.9 L1233.4 833.6 L1234.0 877.3 L1234.6 834.3 L1235.2 865.0 L1235.8 835.7 L1236.4 858.7 L1237.0 838.1 L1237.5 854.8 L1238.1 824.6 L1238.7 847.8 L1239.3 824.6 L1239.9 845.7 L1240.5 830.0 L1241.1 901.1 L1241.7 818.9 L1242.3 856.3 L1242.9 824.3 L1243.5 843.2 L1244.1 810.7 L1244.6 835.5 L1245.2 816.6 L1245.8 849.1 L1246.4 808.3 L1247.0 834.4 L1247.6 808.1 L1248.2 825.0 L1248.8 802.2 L1249.4 836.2 L1250.0 798.4 L1250.6 821.1 L1251.1 863.5 L1251.7 830.1 L1252.3 801.4 L1252.9 831.4 L1253.5 816.2 L1254.1 828.7 L1254.7 790.9 L1255.3 808.6 L1255.9 788.6 L1256.5 817.6 L1257.1 786.3 L1257.7 808.3 L1258.2 788.4 L1258.8 810.9 L1259.4 776.0 L1260.0 818.7 L1260.6 777.7 L1261.2 797.3 L1261.8 767.7 L1262.4 804.2 L1263.0 774.0 L1263.6 792.7 L1264.2 769.1 L1264.8 802.6 L1265.3 774.1 L1265.9 793.3 L1266.5 767.1 L1267.1 791.6 L1267.7 757.4 L1268.3 783.2 L1268.9 764.3 L1269.5 793.5 L1270.1 767.4 L1270.7 790.1 L1271.3 758.3 L1271.8 783.0 L1272.4 756.4 L1273.0 794.3 L1273.6 756.7 L1274.2 789.2 L1274.8 750.7 L1275.4 787.6 L1276.0 804.9 L1276.6 786.2 L1277.2 751.8 L1277.8 824.8 L1278.4 747.8 L1278.9 787.3 L1279.5 740.9 L1280.1 770.0 L1280.7 739.7 L1281.3 766.9 L1281.9 748.8 L1282.5 781.2 L1283.1 741.9 L1283.7 762.4 L1284.3 752.9 L1284.9 762.1 L1285.4 739.1 L1286.0 774.5 L1286.6 742.0 L1287.2 763.2 L1287.8 732.0 L1288.4 757.5 L1289.0 728.2 L1289.6 773.9 L1290.2 723.2 L1290.8 773.8 L1291.4 739.1 L1292.0 757.0 L1292.5 727.2 L1293.1 756.6 L1293.7 822.7 L1294.3 788.2 L1294.9 721.1 L1295.5 752.8 L1296.1 728.6 L1296.7 764.0 L1297.3 723.8 L1297.9 755.9 L1298.5 722.0 L1299.0 747.3 L1299.6 729.5 L1300.2 755.8 L1300.8 714.2 L1301.4 747.5 L1302.0 721.9 L1302.6 764.7 L1303.2 721.4 L1303.8 761.5 L1304.4 718.3 L1305.0 746.5 L1305.6 720.0 L1306.1 777.4 L1306.7 720.3 L1307.3 749.4 L1307.9 723.8 L1308.5 752.7 L1309.1 713.6 L1309.7 756.8 L1310.3 722.9 L1310.9 752.7 L1311.5 718.1 L1312.1 758.7 L1312.6 715.5 L1313.2 747.5 L1313.8 721.5 L1314.4 744.5 L1315.0 720.1 L1315.6 788.9 L1316.2 713.7 L1316.8 749.0 L1317.4 721.0 L1318.0 757.0 L1318.6 714.1 L1319.2 739.2 L1319.7 720.1 L1320.3 745.9 L1320.9 722.8 L1321.5 742.4 L1322.1 714.5 L1322.7 751.6 L1323.3 719.8 L1323.9 749.8 L1324.5 720.6 L1325.1 738.9 L1325.7 720.0 L1326.2 747.3 L1326.8 716.0 L1327.4 735.6 L1328.0 711.4 L1328.6 738.3 L1329.2 713.8 L1329.8 737.2 L1330.4 795.5 L1331.0 750.8 L1331.6 709.1 L1332.2 797.8 L1332.8 746.8 L1333.3 789.6 L1333.9 769.3 L1334.5 796.9 L1335.1 780.1 L1335.7 803.3 L1336.3 813.3 L1336.9 826.8 L1337.5 794.7 L1338.1 837.9 L1338.7 811.2 L1339.3 833.7 L1339.8 817.3 L1340.4 829.4 L1341.0 820.4 L1341.6 844.2 L1342.2 825.6 L1342.8 857.4 L1343.4 832.6 L1344.0 867.5 L1344.6 829.2 L1345.2 859.6 L1345.8 838.9 L1346.4 883.0 L1346.9 843.2 L1347.5 872.0 L1348.1 854.3 L1348.7 879.2 L1349.3 855.7 L1349.9 878.7 L1350.5 859.3 L1351.1 884.2 L1351.7 862.8 L1352.3 891.5 L1352.9 864.8 L1353.4 912.0 L1354.0 863.5 L1354.6 903.0 L1355.2 878.9 L1355.8 901.2 L1356.4 883.2 L1357.0 920.2 L1357.6 883.7 L1358.2 927.6 L1358.8 886.5 L1359.4 912.5 L1360.0 893.1 L1360.5 988.1 L1361.1 893.3 L1361.7 935.1 L1362.3 903.0 L1362.9 940.0 L1363.5 906.5 L1364.1 941.6 L1364.7 902.7 L1365.3 930.6 L1365.9 938.1 L1366.5 932.3 L1367.1 913.3 L1367.6 937.5 L1368.2 908.3 L1368.8 959.9 L1369.4 918.3 L1370.0 958.3 L1370.6 930.0 L1371.2 947.5 L1371.8 964.1 L1372.4 948.4 L1373.0 928.4 L1373.6 972.2 L1374.1 930.6 L1374.7 974.2 L1375.3 979.9 L1375.9 968.5 L1376.5 940.1 L1377.1 966.4 L1377.7 938.9 L1378.3 968.4 L1378.9 953.4 L1379.5 979.6 L1380.1 943.9 L1380.7 980.9 L1381.2 951.1 L1381.8 1033.8 L1382.4 956.1 L1383.0 974.7 L1383.6 959.2 L1384.2 997.1 L1384.8 947.1 L1385.4 994.5 L1386.0 954.5 L1386.6 1046.2 L1387.2 965.3 L1387.7 987.3 L1388.3 969.5 L1388.9 1000.4 L1389.5 961.6 L1390.1 1008.1 L1390.7 965.5 L1391.3 995.3 L1391.9 968.5 L1392.5 1004.7 L1393.1 971.7 L1393.7 998.1 L1394.3 978.0 L1394.8 997.9 L1395.4 1005.7 L1396.0 1005.5 L1396.6 984.0 L1397.2 1014.0 L1397.8 989.5 L1398.4 1015.9 L1399.0 984.5 L1399.6 1025.0 L1400.2 988.3 L1400.8 1024.0 L1401.3 979.8 L1401.9 1019.2 L1402.5 996.3 L1403.1 1032.0 L1403.7 1002.8 L1404.3 1022.0 L1404.9 989.2 L1405.5 1085.2 L1406.1 993.4 L1406.7 1030.4 L1407.3 1004.5 L1407.9 1034.0 L1408.4 993.8 L1409.0 1033.6 L1409.6 998.0 L1410.2 1036.6 L1410.8 1005.1 L1411.4 1044.1 L1412.0 1007.2 L1412.6 1030.6 L1413.2 1015.2 L1413.8 1046.3 L1414.4 1017.7 L1414.9 1032.1 L1415.5 1006.5 L1416.1 1045.3 L1416.7 1010.1 L1417.3 1037.2 L1417.9 1013.5 L1418.5 1088.1 L1419.1 1021.4 L1419.7 1045.3 L1420.3 1023.4 L1420.9 1041.0 L1421.5 1017.0 L1422.0 1059.4 L1422.6 1026.3 L1423.2 1060.2 L1423.8 1030.3 L1424.4 1043.8 L1425.0 1023.5 L1425.6 1049.6 L1426.2 1017.5 L1426.8 1060.6 L1427.4 1030.9 L1428.0 1113.4 L1428.5 1028.7 L1429.1 1061.3 L1429.7 1028.9 L1430.3 1069.7 L1430.9 1052.5 L1431.5 1063.7 L1432.1 1036.7 L1432.7 1075.9 L1433.3 1040.9 L1433.9 1067.8 L1434.5 1032.2 L1435.1 1056.3 L1435.6 1029.8 L1436.2 1061.0 L1436.8 1035.4 L1437.4 1079.6 L1438.0 1038.3 L1438.6 1075.9 L1439.2 1043.6 L1439.8 1084.9 L1440.4 1051.1 L1441.0 1068.9 L1441.6 1037.4 L1442.1 1068.4 L1442.7 1054.4 L1443.3 1076.0 L1443.9 1051.9 L1444.5 1074.7 L1445.1 1051.4 L1445.7 1105.4 L1446.3 1046.9 L1446.9 1077.4 L1447.5 1046.3 L1448.1 1080.4 L1448.7 1046.2 L1449.2 1076.9 L1449.8 1059.8 L1450.4 1076.1 L1451.0 1060.5 L1451.6 1096.4 L1452.2 1056.7 L1452.8 1132.1 L1453.4 1066.8 L1454.0 1084.4 L1454.6 1055.1 L1455.2 1092.1 L1455.8 1064.3 L1456.3 1092.0 L1456.9 1061.8 L1457.5 1081.4 L1458.1 1056.3 L1458.7 1093.1 L1459.3 1067.7 L1459.9 1086.1 L1460.5 1058.0 L1461.1 1097.5 L1461.7 1061.6 L1462.3 1084.8 L1462.8 1073.1 L1463.4 1148.3 L1464.0 1068.3 L1464.6 1091.8 L1465.2 1064.3 L1465.8 1102.1 L1466.4 1068.8 L1467.0 1103.1 L1467.6 1101.9 L1468.2 1093.1 L1468.8 1070.3 L1469.4 1092.7 L1469.9 1073.8 L1470.5 1102.3 L1471.1 1124.4 L1471.7 1100.8 L1472.3 1074.9 L1472.9 1101.4 L1473.5 1071.9 L1474.1 1107.1 L1474.7 1074.0 L1475.3 1093.2 L1475.9 1075.3 L1476.4 1105.6 L1477.0 1048.7 L1477.6 1066.2 L1478.2 1020.6 L1478.8 1049.0 L1479.4 1021.8 L1480.0 1029.2 L1480.6 1010.5 L1481.2 1030.3 L1481.8 987.3 L1482.4 1015.4 L1483.0 1031.2 L1483.5 1016.1 L1484.1 977.5 L1484.7 998.1 L1485.3 966.6 L1485.9 1000.0 L1486.5 964.8 L1487.1 1014.5 L1487.7 961.6 L1488.3 982.1 L1488.9 945.9 L1489.5 981.9 L1490.0 937.8 L1490.6 978.0 L1491.2 932.8 L1491.8 968.8 L1492.4 938.6 L1493.0 943.2 L1493.6 926.4 L1494.2 958.6 L1494.8 921.2 L1495.4 940.9 L1496.0 919.2 L1496.6 934.3 L1497.1 905.1 L1497.7 938.7 L1498.3 904.8 L1498.9 941.4 L1499.5 904.1 L1500.1 930.1 L1500.7 891.4 L1501.3 930.3 L1501.9 888.3 L1502.5 920.7 L1503.1 883.5 L1503.6 916.9 L1504.2 876.8 L1504.8 911.9 L1505.4 896.6 L1506.0 898.9 L1506.6 875.0 L1507.2 895.5 L1507.8 870.5 L1508.4 898.7 L1509.0 867.0 L1509.6 893.7 L1510.2 869.4 L1510.7 897.6 L1511.3 831.7 L1511.9 898.0 L1512.5 862.5 L1513.1 891.8 L1513.7 846.0 L1514.3 912.5 L1514.9 853.1 L1515.5 889.8 L1516.1 886.9 L1516.7 876.7 L1517.2 849.5 L1517.8 868.7 L1518.4 835.5 L1519.0 874.3 L1519.6 833.1 L1520.2 851.0 L1520.8 827.0 L1521.4 863.9 L1522.0 825.0 L1522.6 861.0 L1523.2 826.1 L1523.8 918.0 L1524.3 821.8 L1524.9 861.2 L1525.5 819.8 L1526.1 858.5 L1526.7 820.5 L1527.3 839.2 L1527.9 812.1 L1528.5 838.4 L1529.1 808.9 L1529.7 878.8 L1530.3 805.7 L1530.8 832.3 L1531.4 804.4 L1532.0 834.7 L1532.6 806.0 L1533.2 830.2 L1533.8 809.1 L1534.4 828.8 L1535.0 794.4 L1535.6 819.5 L1536.2 786.5 L1536.8 829.1 L1537.4 794.3 L1537.9 830.0 L1538.5 789.1 L1539.1 829.6 L1539.7 788.2 L1540.3 807.9 L1540.9 802.0 L1541.5 808.9 L1542.1 782.3 L1542.7 808.4 L1543.3 781.4 L1543.9 812.3 L1544.5 779.0 L1545.0 817.8 L1545.6 775.0 L1546.2 814.9 L1546.8 783.5 L1547.4 802.1 L1548.0 767.2 L1548.6 792.3 L1549.2 771.0 L1549.8 790.2 L1550.4 764.5 L1551.0 803.9 L1551.5 760.1 L1552.1 798.8 L1552.7 765.1 L1553.3 801.0 L1553.9 769.5 L1554.5 780.0 L1555.1 760.7 L1555.7 776.9 L1556.3 804.7 L1556.9 784.7 L1557.5 756.0 L1558.1 783.7 L1558.6 756.3 L1559.2 794.4 L1559.8 749.0 L1560.4 774.3 L1561.0 759.0 L1561.6 786.1 L1562.2 752.0 L1562.8 776.8 L1563.4 743.5 L1564.0 775.5 L1564.6 743.5 L1565.1 772.6 L1565.7 752.0 L1566.3 778.4 L1566.9 735.3 L1567.5 788.0 L1568.1 733.0 L1568.7 779.3 L1569.3 743.6 L1569.9 769.3 L1570.5 745.9 L1571.1 760.6 L1571.7 743.6 L1572.2 770.1 L1572.8 771.8 L1573.4 778.2 L1574.0 729.0 L1574.6 771.8 L1575.2 782.5 L1575.8 774.2 L1576.4 740.0 L1577.0 771.3 L1577.6 732.1 L1578.2 755.2 L1578.7 737.5 L1579.3 764.3 L1579.9 723.2 L1580.5 762.3 L1581.1 714.8 L1581.7 761.7 L1582.3 725.9 L1582.9 759.8 L1583.5 733.0 L1584.1 755.5 L1584.7 723.7 L1585.3 755.1 L1585.8 722.2 L1586.4 750.5 L1587.0 731.4 L1587.6 748.8 L1588.2 730.2 L1588.8 751.7 L1589.4 780.5 L1590.0 767.2 L1590.6 721.6 L1591.2 748.8 L1591.8 723.6 L1592.3 748.2 L1592.9 726.2 L1593.5 748.4 L1594.1 713.7 L1594.7 748.9 L1595.3 725.2 L1595.9 750.3 L1596.5 717.3 L1597.1 744.7 L1597.7 713.0 L1598.3 746.0 L1598.9 749.8 L1599.4 754.1 L1600.0 749.0 L1600.6 758.8 L1601.2 716.5 L1601.8 755.8 L1602.4 714.0 L1603.0 750.1 L1603.6 717.4 L1604.2 753.3 L1604.8 723.8 L1605.4 745.1 L1605.9 712.2 L1606.5 749.0 L1607.1 717.6 L1607.7 742.9 L1608.3 714.9 L1608.9 792.5 L1609.5 719.7 L1610.1 732.0 L1610.7 723.8 L1611.3 734.8 L1611.9 716.9 L1612.5 737.1 L1613.0 717.3 L1613.6 750.6 L1614.2 709.5 L1614.8 751.9 L1615.4 712.4 L1616.0 740.6 L1616.6 720.5 L1617.2 769.1 L1617.8 749.8 L1618.4 788.6 L1619.0 758.7 L1619.5 806.1 L1620.1 763.3 L1620.7 806.9 L1621.3 775.3 L1621.9 816.8 L1622.5 789.0 L1623.1 817.6 L1623.7 794.0 L1624.3 824.9 L1624.9 799.5 L1625.5 857.4 L1626.1 841.1 L1626.6 825.9 L1627.2 845.8 L1627.8 831.3 L1628.4 820.3 L1629.0 841.6 L1629.6 825.4 L1630.2 861.9 L1630.8 829.7 L1631.4 864.0 L1632.0 822.7 L1632.6 853.5 L1633.2 833.0 L1633.7 869.1 L1634.3 837.6 L1634.9 862.2 L1635.5 841.2 L1636.1 867.0 L1636.7 841.9 L1637.3 881.3 L1637.9 844.9 L1638.5 887.8 L1639.1 851.4 L1639.7 878.1 L1640.2 851.7 L1640.8 882.9 L1641.4 862.2 L1642.0 880.6 L1642.6 869.9 L1643.2 885.2 L1643.8 868.4 L1644.4 905.3 L1645.0 873.8 L1645.6 899.1 L1646.2 869.0 L1646.8 910.0 L1647.3 880.3 L1647.9 902.6 L1648.5 883.1 L1649.1 912.4 L1649.7 890.6 L1650.3 968.2 L1650.9 882.5 L1651.5 913.3 L1652.1 885.9 L1652.7 923.2 L1653.3 890.3 L1653.8 930.5 L1654.4 899.6 L1655.0 919.3 L1655.6 891.9 L1656.2 924.4 L1656.8 900.4 L1657.4 943.7 L1658.0 902.5 L1658.6 926.1 L1659.2 908.6 L1659.8 924.1 L1660.4 905.6 L1660.9 936.9 L1661.5 919.6 L1662.1 931.6 L1662.7 920.0 L1663.3 949.9 L1663.9 920.7 L1664.5 948.8 L1665.1 914.7 L1665.7 953.1 L1666.3 915.7 L1666.9 964.1 L1667.4 926.0 L1668.0 962.2 L1668.6 925.5 L1669.2 957.7 L1669.8 925.9 L1670.4 952.1 L1671.0 934.1 L1671.6 954.5 L1672.2 929.8 L1672.8 960.6 L1673.4 933.2 L1674.0 956.1 L1674.5 941.8 L1675.1 970.7 L1675.7 1001.1 L1676.3 967.0 L1676.9 944.3 L1677.5 969.0 L1678.1 942.4 L1678.7 970.5 L1679.3 945.2 L1679.9 969.0 L1680.5 956.0 L1681.0 1023.6 L1681.6 959.2 L1682.2 992.6 L1682.8 955.7 L1683.4 987.2 L1684.0 961.1 L1684.6 1043.2 L1685.2 965.4 L1685.8 988.1 L1686.4 958.0 L1687.0 989.2 L1687.6 964.6 L1688.1 1001.1 L1688.7 1018.9 L1689.3 998.7 L1689.9 963.5 L1690.5 989.4 L1691.1 974.7 L1691.7 999.8 L1692.3 968.9 L1692.9 1003.4 L1693.5 974.8 L1694.1 1006.8 L1694.6 984.5 L1695.2 1050.2 L1695.8 977.9 L1696.4 1013.8 L1697.0 977.6 L1697.6 1006.5 L1698.2 986.9 L1698.8 1008.7 L1699.4 983.4 L1700.0 1021.1 L1700.6 989.0 L1701.2 1016.7 L1701.7 989.8 L1702.3 1007.0 L1702.9 985.0 L1703.5 1016.3 L1704.1 1000.9 L1704.7 1026.2 L1705.3 999.3 L1705.9 1023.3 L1706.5 997.9 L1707.1 1038.1 L1707.7 1002.2 L1708.2 1031.1 L1708.8 998.9 L1709.4 1081.2 L1710.0 998.2 L1710.6 1039.6 L1711.2 1034.8 L1711.8 1030.6 L1712.4 1002.9 L1713.0 1030.1 L1713.6 1010.3 L1714.2 1044.9 L1714.8 1018.4 L1715.3 1051.1 L1715.9 1005.3 L1716.5 1039.3 L1717.1 1012.1 L1717.7 1045.8 L1718.3 1018.8 L1718.9 1051.0 L1719.5 1026.0 L1720.1 1061.0 L1720.7 1015.8 L1721.3 1055.5 L1721.9 1023.3 L1722.4 1056.1 L1723.0 1030.4 L1723.6 1060.8 L1724.2 1026.4 L1724.8 1059.8 L1725.4 1036.0 L1726.0 1064.1 L1726.6 1024.1 L1727.2 1097.0 L1727.8 1040.7 L1728.4 1058.9 L1728.9 1039.2 L1729.5 1093.9 L1730.1 1031.9 L1730.7 1076.4 L1731.3 1041.5 L1731.9 1061.4 L1732.5 1035.6 L1733.1 1075.8 L1733.7 1036.9 L1734.3 1082.2 L1734.9 1048.8 L1735.5 1067.3 L1736.0 1054.4 L1736.6 1063.5 L1737.2 1052.9 L1737.8 1083.3 L1738.4 1056.8 L1739.0 1098.7 L1739.6 1048.8 L1740.2 1126.4 L1740.8 1052.4 L1741.4 1084.8 L1742.0 1058.1 L1742.5 1092.2 L1743.1 1062.2 L1743.7 1088.0 L1744.3 1054.5 L1744.9 1085.3 L1745.5 1059.8 L1746.1 1093.1 L1746.7 1062.7 L1747.3 1096.3 L1747.9 1059.3 L1748.5 1102.5 L1749.1 1063.4 L1749.6 1091.8 L1750.2 1064.6 L1750.8 1092.0 L1751.4 1076.2 L1752.0 1092.4 L1752.6 1071.0"/>
<path stroke="#FF0000" d="M334.0 648.0 L337.9 238.4 L338.5 242.6 L339.1 240.9 L339.7 256.7 L340.3 251.2 L340.9 247.4 L341.4 251.3 L342.0 262.1 L342.6 260.7 L343.2 247.5 L343.8 252.5 L344.4 261.5 L345.0 263.2 L345.6 253.1 L346.2 264.1 L346.8 254.8 L347.4 265.2 L347.9 263.0 L348.5 253.6 L349.1 269.4 L349.7 266.4 L350.3 257.2 L350.9 254.8 L351.5 255.5 L352.1 269.9 L352.7 256.0 L353.3 258.3 L353.9 256.3 L354.5 256.5 L355.0 266.7 L355.6 249.9 L356.2 251.1 L356.8 263.7 L357.4 258.4 L358.0 270.6 L358.6 268.3 L359.2 252.9 L359.8 258.7 L360.4 263.0 L361.0 251.7 L361.5 264.7 L362.1 255.5 L362.7 264.1 L363.3 266.1 L363.9 262.8 L364.5 253.5 L365.1 261.5 L365.7 256.4 L366.3 266.1 L366.9 260.5 L367.5 256.1 L368.1 262.1 L368.6 258.9 L369.2 252.2 L369.8 271.0 L370.4 262.7 L371.0 255.2 L371.6 263.1 L372.2 254.4 L372.8 264.8 L373.4 252.0 L374.0 266.5 L374.6 261.2 L375.1 265.2 L375.7 265.5 L376.3 267.9 L376.9 265.1 L377.5 254.6 L378.1 266.3 L378.7 251.3 L379.3 259.3 L379.9 258.9 L380.5 262.3 L381.1 269.9 L381.7 260.9 L382.2 249.6 L382.8 257.4 L383.4 251.5 L384.0 252.4 L384.6 266.2 L385.2 257.0 L385.8 268.5 L386.4 250.8 L387.0 262.4 L387.6 268.5 L388.2 272.7 L388.7 269.0 L389.3 251.8 L389.9 250.9 L390.5 259.0 L391.1 270.8 L391.7 267.0 L392.3 271.2 L392.9 266.7 L393.5 255.2 L394.1 254.4 L394.7 260.1 L395.3 269.1 L395.8 270.9 L396.4 267.5 L397.0 262.6 L397.6 259.3 L398.2 262.8 L398.8 259.5 L399.4 257.4 L400.0 267.5 L400.6 251.5 L401.2 257.8 L401.8 252.8 L402.3 265.8 L402.9 256.2 L403.5 251.5 L404.1 250.1 L404.7 267.0 L405.3 254.5 L405.9 264.8 L406.5 270.6 L407.1 262.1 L407.7 266.9 L408.3 265.7 L408.9 258.6 L409.4 263.5 L410.0 257.2 L410.6 260.7 L411.2 260.6 L411.8 256.7 L412.4 256.1 L413.0 266.8 L413.6 261.8 L414.2 247.5 L414.8 258.2 L415.4 258.7 L416.0 259.9 L416.5 251.1 L417.1 254.2 L417.7 268.2 L418.3 253.8 L418.9 251.5 L419.5 258.9 L420.1 267.4 L420.7 251.1 L421.3 259.6 L421.9 253.4 L422.5 260.4 L423.0 253.9 L423.6 264.6 L424.2 258.4 L424.8 254.3 L425.4 265.8 L426.0 251.7 L426.6 270.5 L427.2 261.9 L427.8 270.5 L428.4 251.3 L429.0 265.6 L429.6 265.6 L430.1 259.3 L430.7 255.5 L431.3 253.7 L431.9 257.7 L432.5 262.2 L433.1 261.2 L433.7 255.8 L434.3 263.7 L434.9 243.8 L435.5 266.3 L436.1 256.1 L436.6 264.4 L437.2 256.0 L437.8 252.3 L438.4 268.1 L439.0 255.1 L439.6 259.3 L440.2 257.4 L440.8 254.3 L441.4 260.5 L442.0 265.5 L442.6 270.9 L443.2 249.7 L443.7 260.7 L444.3 269.1 L444.9 249.4 L445.5 252.2 L446.1 257.2 L446.7 249.9 L447.3 256.3 L447.9 258.0 L448.5 257.3 L449.1 254.1 L449.7 257.1 L450.2 259.0 L450.8 252.5 L451.4 262.5 L452.0 255.6 L452.6 270.8 L453.2 251.5 L453.8 260.1 L454.4 270.3 L455.0 253.1 L455.6 263.5 L456.2 256.5 L456.8 262.9 L457.3 266.6 L457.9 268.0 L458.5 258.2 L459.1 258.6 L459.7 259.8 L460.3 265.5 L460.9 263.4 L461.5 252.6 L462.1 252.3 L462.7 254.6 L463.3 264.6 L463.8 260.6 L464.4 271.7 L465.0 265.4 L465.6 253.5 L466.2 267.4 L466.8 255.5 L467.4 263.3 L468.0 250.7 L468.6 254.6 L469.2 259.9 L469.8 269.0 L470.4 265.3 L470.9 264.8 L471.5 257.4 L472.1 267.7 L472.7 257.5 L473.3 265.3 L473.9 267.9 L474.5 272.2 L475.1 263.6 L475.7 265.7 L475.9 258.8 L479.5 590.2 L480.1 598.8 L480.6 602.1 L481.2 581.2 L481.8 586.6 L482.4 583.2 L483.0 600.7 L483.6 595.8 L484.2 596.2 L484.8 594.7 L485.4 590.3 L486.0 579.4 L486.6 595.0 L487.1 599.8 L487.7 592.7 L488.3 598.0 L488.9 596.9 L489.5 583.8 L490.1 598.9 L490.7 577.2 L491.3 586.8 L491.9 577.1 L492.5 581.2 L493.1 596.5 L493.7 582.9 L494.2 588.7 L494.8 585.6 L495.4 597.0 L496.0 593.5 L496.6 593.2 L497.2 587.5 L497.8 590.0 L498.4 594.1 L499.0 600.3 L499.6 585.1 L500.2 587.9 L500.7 590.7 L501.3 585.6 L501.9 581.0 L502.5 588.8 L503.1 578.0 L503.7 596.7 L504.3 590.2 L504.9 588.9 L505.5 587.3 L506.1 593.0 L506.7 579.1 L507.3 586.5 L507.8 587.6 L508.4 591.5 L509.0 577.8 L509.6 575.1 L510.2 583.5 L510.8 588.2 L511.4 580.4 L512.0 590.2 L512.6 578.0 L513.2 593.7 L513.8 590.0 L514.3 580.3 L514.9 584.8 L515.5 589.7 L516.1 588.4 L516.7 589.9 L517.3 585.3 L517.9 581.1 L518.5 592.5 L519.1 581.7 L519.7 585.5 L520.3 585.7 L520.9 583.8 L521.4 579.2 L522.0 591.2 L522.6 580.9 L523.2 598.7 L523.8 586.9 L524.4 593.1 L525.0 584.7 L525.6 590.2 L526.2 585.1 L526.8 583.7 L527.4 576.1 L527.9 598.4 L528.5 585.0 L529.1 582.0 L529.7 592.7 L530.3 596.0 L530.9 587.7 L531.5 593.7 L532.1 589.4 L532.7 592.1 L533.3 595.7 L533.9 595.9 L534.5 587.0 L535.0 593.1 L535.6 590.3 L536.2 575.3 L536.8 580.9 L537.4 577.0 L538.0 598.5 L538.6 595.4 L539.2 588.7 L539.8 583.9 L540.4 589.8 L541.0 577.2 L541.5 579.0 L542.1 583.2 L542.7 596.1 L543.3 581.1 L543.9 579.4 L544.5 579.2 L545.1 586.8 L545.7 582.4 L546.3 593.5 L546.9 584.3 L547.5 586.1 L548.1 591.8 L548.6 585.4 L549.2 590.6 L549.8 583.0 L550.4 583.2 L551.0 579.9 L551.6 582.6 L552.2 585.1 L552.8 586.7 L553.4 588.1 L554.0 587.5 L554.6 581.9 L555.2 584.0 L555.7 589.7 L556.3 587.4 L556.9 583.6 L557.5 590.8 L558.1 583.8 L558.7 585.4 L559.3 590.0 L559.9 586.2 L560.5 584.2 L561.1 591.5 L561.7 585.5 L562.2 586.1 L562.8 596.1 L563.4 598.3 L564.0 594.8 L564.6 587.4 L565.2 583.6 L565.8 587.8 L566.4 579.3 L567.0 594.5 L567.6 580.8 L568.2 586.4 L568.8 594.5 L569.3 580.9 L569.9 596.2 L570.5 585.1 L571.1 585.0 L571.7 598.0 L572.3 587.9 L572.9 584.1 L573.5 593.4 L574.1 587.2 L574.7 581.3 L575.3 581.1 L575.8 593.0 L576.4 590.0 L577.0 585.5 L577.6 578.3 L578.2 584.9 L578.8 587.6 L579.4 597.1 L580.0 594.4 L580.6 590.1 L581.2 576.7 L581.8 593.5 L582.4 582.5 L582.9 585.2 L583.5 596.4 L584.1 578.3 L584.7 588.9 L585.3 576.5 L585.9 578.0 L586.5 593.7 L587.1 588.6 L587.7 599.2 L588.3 592.1 L588.9 581.1 L589.4 581.3 L590.0 577.6 L590.6 584.6 L591.2 582.4 L591.8 580.1 L592.4 582.6 L593.0 593.4 L593.6 582.7 L594.2 590.2 L594.8 586.5 L595.4 594.1 L596.0 581.6 L596.5 590.8 L597.1 579.3 L597.7 578.7 L598.3 583.5 L598.9 597.9 L599.5 584.9 L600.1 598.2 L600.7 582.2 L601.3 586.8 L601.9 586.4 L602.5 581.8 L603.0 577.2 L603.6 592.5 L604.2 577.5 L604.8 581.6 L605.4 579.3 L606.0 596.7 L606.6 589.0 L607.2 579.0 L607.8 577.5 L608.4 576.3 L609.0 589.3 L609.6 594.2 L610.1 579.4 L610.7 594.7 L611.3 577.8 L611.9 593.9 L612.5 594.7 L613.1 581.3 L613.7 586.8 L614.3 599.4 L614.9 592.1 L615.5 596.8 L616.1 584.2 L616.6 588.1 L623.7 252.7 L624.3 245.4 L624.9 248.5 L625.5 260.2 L626.1 248.2 L626.7 256.3 L627.3 258.9 L627.9 259.3 L628.5 258.4 L629.1 258.5 L629.7 255.1 L630.2 262.9 L630.8 262.1 L631.4 249.3 L632.0 251.4 L632.6 252.3 L633.2 260.4 L633.8 257.5 L634.4 247.8 L635.0 252.1 L635.6 253.6 L636.2 249.1 L636.8 270.8 L637.3 250.9 L637.9 263.5 L638.5 256.2 L639.1 252.1 L639.7 263.5 L640.3 270.9 L640.9 262.0 L641.5 259.2 L642.1 259.2 L642.7 251.5 L643.3 252.9 L643.9 270.8 L644.4 265.5 L645.0 251.0 L645.6 264.2 L646.2 258.0 L646.8 255.7 L647.4 261.8 L648.0 257.8 L648.6 263.2 L649.2 252.4 L649.8 251.8 L650.4 266.6 L650.9 253.1 L651.5 248.3 L652.1 251.4 L652.7 263.9 L653.3 250.8 L653.9 250.6 L654.5 258.5 L655.1 264.7 L655.7 250.9 L656.3 252.0 L656.9 264.3 L657.5 264.3 L658.0 263.0 L658.6 268.5 L659.2 256.4 L659.8 252.2 L660.4 262.8 L661.0 251.0 L661.6 264.1 L662.2 254.3 L662.8 259.3 L663.4 254.2 L664.0 263.9 L664.5 248.8 L665.1 271.5 L665.7 260.5 L666.3 251.4 L666.9 267.8 L667.5 259.2 L668.1 260.3 L668.7 253.4 L669.3 265.3 L669.9 268.5 L670.5 255.5 L671.1 257.7 L671.6 249.7 L672.2 258.9 L672.8 262.3 L673.4 253.5 L674.0 270.1 L674.6 265.1 L675.2 257.5 L675.8 261.5 L676.4 261.0 L677.0 267.1 L677.6 267.6 L678.1 269.2 L678.7 268.2 L679.3 258.7 L679.9 253.2 L680.5 258.8 L681.1 258.9 L681.7 260.1 L682.3 254.0 L682.9 268.6 L683.5 263.4 L684.1 251.1 L684.7 260.9 L685.2 257.0 L685.8 258.3 L686.4 261.6 L687.0 253.8 L687.6 260.4 L688.2 246.7 L688.8 252.1 L689.4 272.0 L690.0 262.2 L690.6 258.0 L691.2 271.4 L691.7 263.5 L692.3 263.0 L692.9 270.1 L693.5 264.6 L694.1 253.0 L694.7 268.2 L695.3 266.0 L695.9 265.9 L696.5 257.4 L697.1 264.1 L697.7 262.9 L698.3 259.1 L698.8 273.1 L699.4 251.5 L700.0 263.3 L700.6 251.1 L701.2 268.7 L701.8 262.4 L702.4 258.8 L703.0 264.8 L703.6 266.0 L704.2 260.5 L704.8 265.5 L705.3 261.9 L705.9 269.5 L706.5 252.9 L707.1 264.8 L707.7 262.2 L708.3 260.0 L708.9 260.5 L709.5 256.8 L710.1 261.7 L710.7 254.7 L711.3 251.7 L711.9 268.9 L712.4 260.5 L713.0 269.3 L713.6 258.9 L714.2 255.6 L714.8 257.0 L715.4 262.8 L716.0 254.0 L716.6 269.1 L717.2 266.5 L717.8 262.9 L718.4 262.2 L718.9 267.6 L719.5 250.6 L720.1 263.7 L720.7 264.9 L721.3 255.5 L721.9 252.2 L722.5 271.9 L723.1 257.0 L723.7 253.7 L724.3 265.4 L724.9 248.2 L725.5 267.2 L726.0 261.7 L726.6 262.4 L727.2 257.6 L727.8 254.2 L728.4 263.1 L729.0 252.4 L729.6 260.5 L730.2 280.4 L730.8 265.0 L731.4 263.1 L732.0 265.7 L732.6 265.0 L733.1 260.4 L733.7 254.3 L734.3 260.4 L734.9 258.0 L735.5 267.1 L736.1 267.8 L736.7 250.5 L737.3 254.1 L737.9 267.4 L738.5 258.5 L739.1 260.4 L739.6 262.1 L740.2 268.7 L740.8 251.1 L741.4 263.6 L742.0 264.6 L742.6 256.1 L743.2 258.3 L743.8 256.7 L744.4 253.0 L745.0 255.9 L745.6 259.9 L746.2 257.8 L746.7 258.4 L747.3 250.5 L747.9 269.2 L748.5 261.3 L749.1 255.4 L749.7 270.9 L750.3 263.8 L750.9 252.2 L751.5 260.8 L752.1 255.2 L752.7 264.4 L753.2 262.7 L753.8 262.9 L754.4 252.5 L755.0 256.0 L755.6 267.4 L756.2 259.9 L756.8 252.9 L757.4 265.8 L758.0 256.8 L758.6 271.0 L759.2 258.8 L762.7 599.9 L763.3 596.3 L763.9 594.6 L764.5 603.2 L765.1 582.9 L765.7 583.3 L766.3 602.1 L766.8 602.1 L767.4 586.5 L768.0 591.9 L768.6 588.1 L769.2 598.0 L769.8 598.1 L770.4 584.2 L771.0 592.8 L771.6 586.5 L772.2 593.6 L772.8 600.1 L773.4 592.7 L773.9 581.7 L774.5 582.5 L775.1 592.6 L775.7 596.1 L776.3 581.3 L776.9 603.1 L777.5 579.1 L778.1 599.8 L778.7 589.1 L779.3 583.3 L779.9 579.1 L780.4 594.6 L781.0 586.7 L781.6 588.1 L782.2 579.7 L782.8 578.7 L783.4 581.7 L784.0 588.2 L784.6 584.8 L785.2 592.9 L785.8 599.6 L786.4 593.4 L787.0 583.9 L787.5 579.7 L788.1 599.6 L788.7 591.2 L789.3 593.9 L789.9 580.2 L790.5 585.0 L791.1 590.6 L791.7 588.9 L792.3 588.1 L792.9 586.4 L793.5 599.5 L794.0 573.7 L794.6 584.3 L795.2 580.4 L795.8 585.6 L796.4 596.1 L797.0 577.8 L797.6 579.3 L798.2 595.9 L798.8 587.3 L799.4 579.2 L800.0 595.9 L800.6 598.5 L801.1 589.4 L801.7 588.9 L802.3 597.1 L802.9 588.4 L803.5 581.6 L804.1 592.7 L804.7 579.2 L805.3 592.6 L805.9 582.1 L806.5 584.8 L807.1 581.7 L807.6 593.6 L808.2 584.8 L808.8 590.5 L809.4 597.7 L810.0 587.1 L810.6 582.8 L811.2 591.6 L811.8 598.2 L812.4 587.4 L813.0 590.1 L813.6 584.7 L814.2 596.8 L814.7 596.2 L815.3 585.9 L815.9 584.1 L816.5 597.7 L817.1 581.4 L817.7 581.0 L818.3 577.4 L818.9 588.4 L819.5 580.8 L820.1 581.0 L820.7 578.5 L821.2 587.8 L821.8 591.3 L822.4 588.1 L823.0 597.6 L823.6 582.9 L824.2 588.5 L824.8 596.3 L825.4 591.7 L826.0 592.7 L826.6 592.6 L827.2 578.0 L827.8 585.4 L828.3 596.5 L828.9 596.9 L829.5 592.0 L830.1 594.6 L830.7 584.8 L831.3 598.0 L831.9 584.7 L832.5 597.1 L833.1 575.3 L833.7 582.0 L834.3 593.2 L834.9 599.1 L835.4 590.2 L836.0 598.5 L836.6 601.0 L837.2 587.8 L837.8 591.0 L838.4 600.4 L839.0 580.1 L839.6 585.6 L840.2 590.3 L840.8 589.6 L841.4 575.2 L841.9 592.3 L842.5 588.4 L843.1 587.0 L843.7 578.1 L844.3 580.8 L844.9 591.5 L845.5 588.4 L846.1 590.0 L846.7 588.1 L847.3 591.8 L847.9 587.4 L848.5 578.0 L849.0 595.6 L849.6 597.5 L850.2 594.5 L850.8 593.0 L851.4 583.8 L852.0 590.8 L852.6 599.5 L853.2 592.6 L853.8 579.4 L854.4 582.2 L855.0 582.9 L855.5 585.4 L856.1 578.9 L856.7 593.7 L857.3 587.9 L857.9 595.4 L858.5 599.0 L859.1 590.1 L859.7 591.9 L860.3 582.9 L860.9 594.5 L861.5 579.8 L862.1 584.2 L862.6 578.5 L863.2 585.5 L863.8 597.7 L864.4 584.8 L865.0 588.1 L865.6 580.4 L866.2 582.7 L866.8 577.0 L867.4 600.3 L868.0 591.8 L868.6 588.3 L869.1 591.3 L869.7 586.2 L870.3 581.3 L870.9 592.6 L871.5 578.3 L872.1 583.8 L872.7 583.0 L873.3 586.9 L873.9 582.1 L874.5 589.9 L875.1 598.4 L875.7 580.8 L876.2 577.9 L876.8 576.7 L877.4 588.3 L878.0 592.4 L878.6 579.6 L879.2 591.8 L879.8 589.0 L880.4 585.7 L881.0 579.2 L881.6 589.8 L882.2 584.6 L882.7 592.3 L883.3 596.6 L883.9 599.0 L884.5 595.0 L885.1 583.4 L885.7 580.8 L886.3 592.5 L886.9 583.9 L887.5 589.4 L888.1 599.6 L888.7 589.7 L889.3 581.0 L889.8 586.7 L890.4 593.6 L891.0 588.2 L891.6 591.8 L892.2 587.4 L892.8 584.0 L893.4 596.7 L894.0 596.1 L894.6 582.5 L895.2 585.2 L895.8 586.3 L896.3 596.7 L896.9 585.1 L897.5 579.6 L898.1 596.7 L898.7 595.0 L899.3 593.3 L899.9 582.7 L900.5 580.4 L901.1 594.3 L901.1 588.1 L908.2 253.9 L908.8 239.7 L909.4 248.7 L909.9 245.4 L910.5 253.6 L911.1 259.1 L911.7 259.9 L912.3 267.7 L912.9 252.8 L913.5 265.6 L914.1 265.2 L914.7 252.7 L915.3 263.1 L915.9 259.0 L916.5 252.2 L917.0 267.7 L917.6 251.4 L918.2 268.7 L918.8 256.1 L919.4 249.2 L920.0 266.6 L920.6 257.5 L921.2 255.7 L921.8 251.2 L922.4 263.1 L923.0 265.2 L923.6 252.6 L924.1 255.7 L924.7 266.6 L925.3 267.6 L925.9 265.9 L926.5 254.1 L927.1 264.2 L927.7 254.2 L928.3 268.5 L928.9 260.4 L929.5 249.0 L930.1 272.1 L930.6 261.6 L931.2 262.9 L931.8 255.2 L932.4 260.1 L933.0 269.9 L933.6 264.4 L934.2 261.1 L934.8 264.6 L935.4 255.6 L936.0 265.0 L936.6 257.9 L937.2 252.1 L937.7 249.5 L938.3 259.6 L938.9 254.7 L939.5 261.4 L940.1 254.5 L940.7 267.2 L941.3 251.0 L941.9 252.9 L942.5 257.0 L943.1 261.4 L943.7 263.0 L944.2 270.3 L944.8 261.5 L945.4 264.1 L946.0 252.8 L946.6 254.5 L947.2 261.1 L947.8 263.3 L948.4 262.7 L949.0 265.0 L949.6 264.4 L950.2 254.2 L950.8 251.7 L951.3 260.6 L951.9 248.0 L952.5 268.7 L953.1 266.0 L953.7 259.5 L954.3 269.6 L954.9 250.9 L955.5 267.8 L956.1 269.4 L956.7 271.3 L957.3 271.5 L957.8 255.7 L958.4 259.4 L959.0 267.2 L959.6 259.2 L960.2 261.0 L960.8 262.1 L961.4 270.2 L962.0 255.1 L962.6 257.9 L963.2 263.9 L963.8 259.0 L964.4 257.7 L964.9 269.4 L965.5 257.3 L966.1 258.2 L966.7 262.6 L967.3 256.7 L967.9 252.3 L968.5 251.2 L969.1 265.0 L969.7 263.6 L970.3 268.2 L970.9 263.6 L971.4 263.1 L972.0 255.6 L972.6 251.4 L973.2 250.1 L973.8 255.4 L974.4 257.8 L975.0 265.1 L975.6 252.1 L976.2 249.2 L976.8 261.1 L977.4 249.6 L978.0 253.5 L978.5 273.1 L979.1 271.3 L979.7 253.9 L980.3 250.8 L980.9 268.3 L981.5 263.3 L982.1 263.5 L982.7 273.4 L983.3 272.4 L983.9 266.1 L984.5 254.0 L985.0 255.0 L985.6 263.6 L986.2 258.9 L986.8 265.9 L987.4 255.1 L988.0 253.6 L988.6 262.6 L989.2 260.3 L989.8 260.6 L990.4 253.9 L991.0 262.0 L991.6 256.9 L992.1 255.2 L992.7 262.2 L993.3 274.1 L993.9 263.3 L994.5 264.9 L995.1 250.7 L995.7 261.9 L996.3 263.9 L996.9 254.0 L997.5 254.3 L998.1 250.0 L998.6 264.2 L999.2 271.7 L999.8 269.4 L1000.4 257.0 L1001.0 255.6 L1001.6 256.1 L1002.2 262.3 L1002.8 267.9 L1003.4 261.9 L1004.0 254.1 L1004.6 267.2 L1005.2 267.4 L1005.7 255.2 L1006.3 260.0 L1006.9 266.6 L1007.5 255.8 L1008.1 273.2 L1008.7 252.4 L1009.3 271.9 L1009.9 262.8 L1010.5 264.1 L1011.1 265.5 L1011.7 271.4 L1012.3 253.7 L1012.8 263.1 L1013.4 267.0 L1014.0 263.5 L1014.6 249.8 L1015.2 254.3 L1015.8 267.0 L1016.4 268.6 L1017.0 264.4 L1017.6 252.4 L1018.2 254.9 L1018.8 253.6 L1019.3 258.0 L1019.9 250.3 L1020.5 265.0 L1021.1 266.8 L1021.7 256.5 L1022.3 264.5 L1022.9 252.4 L1023.5 248.1 L1024.1 267.0 L1024.7 250.9 L1025.3 250.1 L1025.9 262.4 L1026.4 270.4 L1027.0 257.5 L1027.6 273.1 L1028.2 268.8 L1028.8 271.6 L1029.4 258.1 L1030.0 261.0 L1030.6 267.2 L1031.2 262.1 L1031.8 269.8 L1032.4 260.5 L1032.9 260.7 L1033.5 251.8 L1034.1 257.0 L1034.7 255.8 L1035.3 258.5 L1035.9 261.0 L1036.5 258.1 L1037.1 259.4 L1037.7 267.4 L1038.3 264.9 L1038.9 251.4 L1039.5 257.0 L1040.0 258.8 L1040.6 272.6 L1041.2 258.9 L1041.8 260.2 L1042.4 260.8 L1043.0 258.8 L1046.5 591.2 L1047.1 600.9 L1047.7 594.0 L1048.3 603.4 L1048.9 589.5 L1049.5 594.9 L1050.1 585.1 L1050.7 600.7 L1051.3 601.0 L1051.9 599.7 L1052.5 579.3 L1053.1 601.4 L1053.6 582.1 L1054.2 595.5 L1054.8 588.8 L1055.4 593.8 L1056.0 590.8 L1056.6 582.4 L1057.2 596.1 L1057.8 590.8 L1058.4 584.2 L1059.0 598.5 L1059.6 589.6 L1060.1 589.9 L1060.7 578.8 L1061.3 586.3 L1061.9 586.1 L1062.5 588.6 L1063.1 581.7 L1063.7 589.0 L1064.3 586.7 L1064.9 597.3 L1065.5 581.6 L1066.1 587.0 L1066.7 590.3 L1067.2 591.3 L1067.8 577.0 L1068.4 594.5 L1069.0 576.9 L1069.6 595.3 L1070.2 587.0 L1070.8 598.7 L1071.4 595.1 L1072.0 589.0 L1072.6 589.7 L1073.2 581.7 L1073.7 597.7 L1074.3 583.7 L1074.9 591.1 L1075.5 582.7 L1076.1 584.1 L1076.7 589.7 L1077.3 598.2 L1077.9 586.5 L1078.5 587.1 L1079.1 583.4 L1079.7 595.4 L1080.3 596.6 L1080.8 586.7 L1081.4 593.8 L1082.0 581.9 L1082.6 582.2 L1083.2 594.1 L1083.8 580.2 L1084.4 590.5 L1085.0 587.6 L1085.6 585.5 L1086.2 593.5 L1086.8 582.3 L1087.3 591.7 L1087.9 598.4 L1088.5 585.2 L1089.1 580.0 L1089.7 595.8 L1090.3 581.0 L1090.9 588.0 L1091.5 576.2 L1092.1 597.2 L1092.7 594.5 L1093.3 592.4 L1093.9 591.7 L1094.4 584.5 L1095.0 586.7 L1095.6 590.8 L1096.2 581.2 L1096.8 576.3 L1097.4 592.6 L1098.0 587.2 L1098.6 587.6 L1099.2 584.8 L1099.8 599.9 L1100.4 592.7 L1101.0 596.2 L1101.5 593.4 L1102.1 583.2 L1102.7 591.7 L1103.3 586.3 L1103.9 586.1 L1104.5 601.5 L1105.1 592.6 L1105.7 589.1 L1106.3 579.1 L1106.9 580.8 L1107.5 595.6 L1108.0 598.9 L1108.6 589.5 L1109.2 597.0 L1109.8 597.2 L1110.4 589.6 L1111.0 598.7 L1111.6 583.9 L1112.2 592.6 L1112.8 593.8 L1113.4 586.3 L1114.0 588.8 L1114.6 587.4 L1115.1 582.0 L1115.7 587.1 L1116.3 593.3 L1116.9 584.0 L1117.5 589.2 L1118.1 588.8 L1118.7 581.3 L1119.3 596.1 L1119.9 596.2 L1120.5 587.8 L1121.1 596.2 L1121.6 577.6 L1122.2 585.2 L1122.8 581.4 L1123.4 582.7 L1124.0 595.2 L1124.6 595.7 L1125.2 582.0 L1125.8 589.8 L1126.4 592.2 L1127.0 582.6 L1127.6 578.1 L1128.2 593.2 L1128.7 599.3 L1129.3 596.7 L1129.9 585.3 L1130.5 583.9 L1131.1 584.5 L1131.7 590.5 L1132.3 587.7 L1132.9 587.4 L1133.5 589.0 L1134.1 578.0 L1134.7 581.1 L1135.2 588.8 L1135.8 596.5 L1136.4 585.6 L1137.0 584.6 L1137.6 596.6 L1138.2 594.3 L1138.8 582.9 L1139.4 583.1 L1140.0 585.9 L1140.6 593.1 L1141.2 587.2 L1141.8 586.4 L1142.3 591.1 L1142.9 578.4 L1143.5 595.6 L1144.1 583.5 L1144.7 582.2 L1145.3 579.9 L1145.9 586.1 L1146.5 591.4 L1147.1 594.0 L1147.7 583.9 L1148.3 583.3 L1148.8 575.8 L1149.4 583.4 L1150.0 590.4 L1150.6 595.4 L1151.2 580.8 L1151.8 592.0 L1152.4 585.9 L1153.0 578.0 L1153.6 598.1 L1154.2 582.5 L1154.8 596.8 L1155.4 583.6 L1155.9 579.2 L1156.5 595.2 L1157.1 590.7 L1157.7 583.7 L1158.3 579.4 L1158.9 593.5 L1159.5 584.7 L1160.1 594.7 L1160.7 588.1 L1161.3 580.6 L1161.9 583.8 L1162.4 589.5 L1163.0 584.4 L1163.6 583.1 L1164.2 583.5 L1164.8 576.0 L1165.4 585.8 L1166.0 592.0 L1166.6 578.9 L1167.2 593.6 L1167.8 586.4 L1168.4 589.0 L1169.0 579.6 L1169.5 589.6 L1170.1 580.9 L1170.7 583.9 L1171.3 589.3 L1171.9 590.9 L1172.5 590.7 L1173.1 586.1 L1173.7 586.1 L1174.3 580.7 L1174.9 580.6 L1175.5 579.9 L1176.0 584.5 L1176.6 584.5 L1177.2 587.1 L1177.8 595.1 L1178.4 596.0 L1179.0 595.4 L1179.6 596.1 L1180.2 578.5 L1180.8 591.2 L1181.4 588.0 L1182.0 591.1 L1182.6 596.3 L1183.1 580.4 L1183.7 590.9 L1184.3 586.7 L1184.9 597.0 L1185.3 588.1 L1192.0 245.3 L1192.6 246.8 L1193.2 244.2 L1193.8 249.1 L1194.4 245.2 L1195.0 247.2 L1195.6 248.0 L1196.2 255.2 L1196.7 247.1 L1197.3 248.1 L1197.9 261.6 L1198.5 267.0 L1199.1 263.1 L1199.7 253.6 L1200.3 264.2 L1200.9 268.7 L1201.5 250.1 L1202.1 252.8 L1202.7 253.7 L1203.3 259.2 L1203.8 271.1 L1204.4 257.6 L1205.0 259.5 L1205.6 258.0 L1206.2 250.5 L1206.8 256.1 L1207.4 267.3 L1208.0 255.2 L1208.6 269.0 L1209.2 257.4 L1209.8 265.3 L1210.3 256.8 L1210.9 263.8 L1211.5 259.7 L1212.1 267.1 L1212.7 262.7 L1213.3 250.6 L1213.9 254.0 L1214.5 270.8 L1215.1 264.5 L1215.7 254.2 L1216.3 259.7 L1216.9 253.0 L1217.4 250.3 L1218.0 262.4 L1218.6 267.6 L1219.2 256.3 L1219.8 263.7 L1220.4 254.5 L1221.0 263.3 L1221.6 261.2 L1222.2 252.9 L1222.8 256.3 L1223.4 265.3 L1223.9 266.4 L1224.5 264.0 L1225.1 265.8 L1225.7 262.2 L1226.3 252.5 L1226.9 270.2 L1227.5 267.9 L1228.1 265.3 L1228.7 267.1 L1229.3 258.2 L1229.9 264.8 L1230.5 249.2 L1231.0 259.9 L1231.6 253.9 L1232.2 253.6 L1232.8 257.7 L1233.4 271.5 L1234.0 252.2 L1234.6 262.3 L1235.2 268.7 L1235.8 271.9 L1236.4 271.4 L1237.0 253.5 L1237.5 270.6 L1238.1 257.0 L1238.7 285.3 L1239.3 263.0 L1239.9 260.3 L1240.5 263.8 L1241.1 256.2 L1241.7 257.3 L1242.3 260.8 L1242.9 266.8 L1243.5 255.8 L1244.1 249.5 L1244.6 267.7 L1245.2 258.8 L1245.8 258.3 L1246.4 266.2 L1247.0 257.8 L1247.6 251.4 L1248.2 263.4 L1248.8 268.6 L1249.4 270.8 L1250.0 256.8 L1250.6 255.8 L1251.1 264.6 L1251.7 258.9 L1252.3 260.1 L1252.9 263.0 L1253.5 262.5 L1254.1 260.2 L1254.7 252.9 L1255.3 252.4 L1255.9 261.4 L1256.5 250.5 L1257.1 253.7 L1257.7 262.3 L1258.2 253.5 L1258.8 264.9 L1259.4 260.9 L1260.0 252.3 L1260.6 257.0 L1261.2 251.9 L1261.8 258.8 L1262.4 267.1 L1263.0 254.1 L1263.6 259.0 L1264.2 258.1 L1264.7 258.7 L1265.3 253.7 L1265.9 248.8 L1266.5 265.6 L1267.1 250.7 L1267.7 267.5 L1268.3 263.3 L1268.9 262.3 L1269.5 255.6 L1270.1 253.8 L1270.7 261.5 L1271.3 259.0 L1271.8 267.1 L1272.4 256.0 L1273.0 256.0 L1273.6 252.8 L1274.2 266.2 L1274.8 262.7 L1275.4 267.0 L1276.0 256.0 L1276.6 250.1 L1277.2 256.1 L1277.8 272.7 L1278.4 255.1 L1278.9 259.8 L1279.5 255.7 L1280.1 270.3 L1280.7 271.6 L1281.3 269.2 L1281.9 268.9 L1282.5 253.7 L1283.1 255.9 L1283.7 269.0 L1284.3 255.0 L1284.9 260.2 L1285.4 260.7 L1286.0 262.2 L1286.6 272.1 L1287.2 265.8 L1287.8 257.0 L1288.4 258.8 L1289.0 271.7 L1289.6 249.7 L1290.2 256.9 L1290.8 254.3 L1291.4 252.3 L1292.0 261.9 L1292.5 263.3 L1293.1 266.1 L1293.7 249.8 L1294.3 255.7 L1294.9 259.3 L1295.5 265.6 L1296.1 252.7 L1296.7 264.3 L1297.3 272.2 L1297.9 252.8 L1298.5 258.7 L1299.0 270.8 L1299.6 265.7 L1300.2 267.3 L1300.8 267.6 L1301.4 254.9 L1302.0 262.8 L1302.6 262.2 L1303.2 263.4 L1303.8 255.8 L1304.4 256.8 L1305.0 258.1 L1305.6 264.4 L1306.1 254.0 L1306.7 256.2 L1307.3 261.6 L1307.9 258.1 L1308.5 264.8 L1309.1 265.4 L1309.7 250.8 L1310.3 267.7 L1310.9 261.1 L1311.5 260.1 L1312.1 251.0 L1312.6 271.3 L1313.2 250.8 L1313.8 258.2 L1314.4 267.9 L1315.0 270.6 L1315.6 253.0 L1316.2 263.0 L1316.8 262.6 L1317.4 254.8 L1318.0 253.3 L1318.6 264.6 L1319.2 261.6 L1319.7 268.3 L1320.3 263.9 L1320.9 249.2 L1321.5 262.6 L1322.1 264.5 L1322.7 253.0 L1323.3 260.1 L1323.9 252.9 L1324.5 251.7 L1325.1 257.2 L1325.7 260.9 L1326.2 256.3 L1326.2 258.8 L1329.8 595.9 L1330.4 601.6 L1331.0 604.5 L1331.6 603.4 L1332.2 589.4 L1332.8 581.8 L1333.3 586.6 L1333.9 598.7 L1334.5 603.2 L1335.1 584.1 L1335.7 590.3 L1336.3 600.3 L1336.9 585.5 L1337.5 579.8 L1338.1 588.3 L1338.7 589.2 L1339.3 592.0 L1339.8 594.2 L1340.4 588.2 L1341.0 587.6 L1341.6 585.3 L1342.2 582.7 L1342.8 586.3 L1343.4 600.1 L1344.0 581.6 L1344.6 584.6 L1345.2 592.5 L1345.8 580.4 L1346.4 596.6 L1346.9 599.2 L1347.5 589.6 L1348.1 580.6 L1348.7 600.2 L1349.3 596.6 L1349.9 583.1 L1350.5 579.3 L1351.1 586.7 L1351.7 585.9 L1352.3 591.4 L1352.9 593.1 L1353.4 578.6 L1354.0 596.0 L1354.6 600.3 L1355.2 591.0 L1355.8 583.0 L1356.4 580.1 L1357.0 590.3 L1357.6 580.3 L1358.2 599.0 L1358.8 584.7 L1359.4 577.2 L1360.0 577.9 L1360.5 587.8 L1361.1 581.1 L1361.7 591.2 L1362.3 594.7 L1362.9 594.0 L1363.5 585.4 L1364.1 596.8 L1364.7 590.8 L1365.3 595.5 L1365.9 580.8 L1366.5 587.1 L1367.1 583.4 L1367.6 591.0 L1368.2 582.3 L1368.8 594.5 L1369.4 596.8 L1370.0 592.5 L1370.6 594.1 L1371.2 587.3 L1371.8 583.5 L1372.4 597.0 L1373.0 582.6 L1373.6 601.0 L1374.1 586.5 L1374.7 593.9 L1375.3 579.6 L1375.9 589.3 L1376.5 581.0 L1377.1 588.1 L1377.7 577.6 L1378.3 587.8 L1378.9 597.7 L1379.5 593.1 L1380.1 587.4 L1380.7 578.2 L1381.2 582.9 L1381.8 585.9 L1382.4 596.6 L1383.0 582.9 L1383.6 599.3 L1384.2 591.3 L1384.8 592.6 L1385.4 592.7 L1386.0 585.0 L1386.6 582.4 L1387.2 587.5 L1387.7 585.2 L1388.3 585.5 L1388.9 578.4 L1389.5 591.1 L1390.1 581.4 L1390.7 584.3 L1391.3 596.3 L1391.9 594.1 L1392.5 597.1 L1393.1 587.9 L1393.7 580.8 L1394.3 592.2 L1394.8 590.3 L1395.4 594.8 L1396.0 578.7 L1396.6 587.4 L1397.2 584.1 L1397.8 578.3 L1398.4 582.6 L1399.0 590.2 L1399.6 584.0 L1400.2 592.1 L1400.8 583.5 L1401.3 589.2 L1401.9 587.0 L1402.5 597.0 L1403.1 595.8 L1403.7 593.6 L1404.3 582.2 L1404.9 599.4 L1405.5 592.4 L1406.1 590.4 L1406.7 594.5 L1407.3 583.2 L1407.9 597.7 L1408.4 591.2 L1409.0 589.8 L1409.6 590.5 L1410.2 597.5 L1410.8 590.2 L1411.4 577.6 L1412.0 593.1 L1412.6 591.7 L1413.2 581.2 L1413.8 583.6 L1414.4 583.5 L1414.9 584.7 L1415.5 588.9 L1416.1 594.0 L1416.7 583.0 L1417.3 579.2 L1417.9 583.3 L1418.5 593.4 L1419.1 578.5 L1419.7 578.1 L1420.3 592.6 L1420.9 578.3 L1421.5 593.0 L1422.0 587.3 L1422.6 585.0 L1423.2 581.8 L1423.8 598.1 L1424.4 589.9 L1425.0 583.3 L1425.6 586.1 L1426.2 583.5 L1426.8 588.6 L1427.4 584.8 L1428.0 591.8 L1428.5 587.9 L1429.1 599.5 L1429.7 579.5 L1430.3 586.6 L1430.9 580.0 L1431.5 583.7 L1432.1 597.9 L1432.7 581.5 L1433.3 578.0 L1433.9 600.7 L1434.5 595.3 L1435.1 582.7 L1435.6 589.4 L1436.2 592.1 L1436.8 581.5 L1437.4 582.7 L1438.0 573.4 L1438.6 594.6 L1439.2 580.9 L1439.8 587.5 L1440.4 593.8 L1441.0 590.2 L1441.6 587.8 L1442.1 594.5 L1442.7 594.4 L1443.3 594.0 L1443.9 591.8 L1444.5 584.3 L1445.1 578.6 L1445.7 582.2 L1446.3 595.4 L1446.9 593.1 L1447.5 583.0 L1448.1 580.2 L1448.7 587.0 L1449.2 584.6 L1449.8 595.6 L1450.4 595.8 L1451.0 593.5 L1451.6 584.9 L1452.2 579.0 L1452.8 588.3 L1453.4 588.0 L1454.0 578.3 L1454.6 595.1 L1455.2 586.1 L1455.8 578.4 L1456.3 579.2 L1456.9 583.9 L1457.5 591.4 L1458.1 579.5 L1458.7 577.7 L1459.3 584.3 L1459.9 591.9 L1460.5 582.8 L1461.1 578.8 L1461.7 598.0 L1462.3 588.9 L1462.8 595.5 L1463.4 581.9 L1464.0 587.3 L1464.6 591.8 L1465.2 588.7 L1465.8 587.0 L1466.4 596.0 L1467.0 590.0 L1467.6 588.4 L1467.6 588.1 L1477.0 254.7 L1477.6 238.1 L1478.2 258.8 L1478.8 251.7 L1479.4 247.9 L1480.0 268.0 L1480.6 254.8 L1481.2 258.3 L1481.8 262.1 L1482.4 268.4 L1483.0 268.3 L1483.5 261.2 L1484.1 249.0 L1484.7 257.1 L1485.3 251.3 L1485.9 246.3 L1486.5 263.7 L1487.1 263.9 L1487.7 251.5 L1488.3 263.1 L1488.9 262.9 L1489.5 249.5 L1490.0 251.9 L1490.6 251.8 L1491.2 257.2 L1491.8 265.5 L1492.4 254.6 L1493.0 259.7 L1493.6 256.5 L1494.2 267.8 L1494.8 263.0 L1495.4 265.2 L1496.0 253.1 L1496.6 267.9 L1497.1 262.3 L1497.7 257.7 L1498.3 257.3 L1498.9 264.0 L1499.5 267.4 L1500.1 257.1 L1500.7 266.3 L1501.3 265.1 L1501.9 252.5 L1502.5 262.9 L1503.1 269.5 L1503.6 253.1 L1504.2 254.8 L1504.8 260.7 L1505.4 267.1 L1506.0 270.1 L1506.6 253.2 L1507.2 256.6 L1507.8 264.3 L1508.4 267.3 L1509.0 263.7 L1509.6 269.2 L1510.2 250.4 L1510.7 258.0 L1511.3 252.3 L1511.9 259.2 L1512.5 252.9 L1513.1 254.8 L1513.7 267.6 L1514.3 268.1 L1514.9 257.9 L1515.5 258.8 L1516.1 257.6 L1516.7 253.5 L1517.2 257.4 L1517.8 262.3 L1518.4 272.1 L1519.0 257.9 L1519.6 269.5 L1520.2 262.9 L1520.8 260.8 L1521.4 255.9 L1522.0 254.5 L1522.6 267.1 L1523.2 256.8 L1523.8 251.9 L1524.3 253.2 L1524.9 265.7 L1525.5 262.4 L1526.1 270.0 L1526.7 263.1 L1527.3 259.3 L1527.9 257.5 L1528.5 271.6 L1529.1 258.3 L1529.7 253.7 L1530.3 254.7 L1530.8 266.6 L1531.4 250.0 L1532.0 249.6 L1532.6 261.8 L1533.2 259.0 L1533.8 254.0 L1534.4 254.0 L1535.0 269.0 L1535.6 261.3 L1536.2 263.8 L1536.8 269.3 L1537.4 268.8 L1537.9 260.3 L1538.5 265.9 L1539.1 249.3 L1539.7 269.9 L1540.3 262.1 L1540.9 259.7 L1541.5 251.2 L1542.1 258.3 L1542.7 266.3 L1543.3 265.7 L1543.9 248.7 L1544.5 254.3 L1545.0 260.3 L1545.6 257.9 L1546.2 266.6 L1546.8 263.0 L1547.4 257.8 L1548.0 254.0 L1548.6 263.7 L1549.2 269.2 L1549.8 259.5 L1550.4 269.8 L1551.0 258.2 L1551.5 265.2 L1552.1 268.5 L1552.7 255.6 L1553.3 260.9 L1553.9 259.4 L1554.5 253.3 L1555.1 250.9 L1555.7 257.8 L1556.3 265.6 L1556.9 253.3 L1557.5 266.6 L1558.1 259.9 L1558.6 258.4 L1559.2 250.1 L1559.8 251.4 L1560.4 250.1 L1561.0 253.3 L1561.6 257.5 L1562.2 249.2 L1562.8 263.2 L1563.4 255.4 L1564.0 269.1 L1564.6 261.8 L1565.1 249.1 L1565.7 251.6 L1566.3 268.5 L1566.9 260.9 L1567.5 263.2 L1568.1 252.0 L1568.7 259.7 L1569.3 261.2 L1569.9 268.6 L1570.5 252.9 L1571.1 256.2 L1571.7 262.0 L1572.2 266.8 L1572.8 259.8 L1573.4 254.7 L1574.0 259.4 L1574.6 260.7 L1575.2 251.8 L1575.8 253.4 L1576.4 251.1 L1577.0 262.1 L1577.6 267.1 L1578.2 254.6 L1578.7 256.0 L1579.3 255.5 L1579.9 253.0 L1580.5 262.7 L1581.1 253.0 L1581.7 267.6 L1582.3 260.1 L1582.9 259.9 L1583.5 265.8 L1584.1 258.6 L1584.7 264.3 L1585.3 262.8 L1585.8 265.1 L1586.4 261.9 L1587.0 268.2 L1587.6 267.9 L1588.2 251.2 L1588.8 264.3 L1589.4 265.0 L1590.0 271.0 L1590.6 257.6 L1591.2 258.9 L1591.8 268.1 L1592.3 253.7 L1592.9 269.2 L1593.5 259.6 L1594.1 259.4 L1594.7 260.7 L1595.3 259.2 L1595.9 267.7 L1596.5 266.4 L1597.1 259.2 L1597.7 270.7 L1598.3 256.3 L1598.9 263.6 L1599.4 270.1 L1600.0 250.8 L1600.6 249.7 L1601.2 257.2 L1601.8 254.7 L1602.4 256.8 L1603.0 258.1 L1603.6 262.6 L1604.2 253.7 L1604.8 253.9 L1605.4 264.0 L1605.9 267.4 L1606.5 256.5 L1607.1 261.3 L1607.7 265.6 L1608.3 264.5 L1608.9 270.4 L1609.5 253.6 L1610.1 262.7 L1610.7 258.8 L1614.2 601.5 L1614.8 595.8 L1615.4 585.5 L1616.0 585.2 L1616.6 597.9 L1617.2 592.9 L1617.8 589.5 L1618.4 595.6 L1619.0 591.6 L1619.5 597.5 L1620.1 583.2 L1620.7 587.8 L1621.3 592.4 L1621.9 577.2 L1622.5 599.9 L1623.1 594.0 L1623.7 585.6 L1624.3 584.1 L1624.9 598.0 L1625.5 581.1 L1626.1 592.0 L1626.6 587.7 L1627.2 580.5 L1627.8 592.3 L1628.4 590.9 L1629.0 596.1 L1629.6 590.7 L1630.2 585.6 L1630.8 584.8 L1631.4 594.6 L1632.0 579.3 L1632.6 590.3 L1633.2 593.2 L1633.7 584.7 L1634.3 598.3 L1634.9 591.3 L1635.5 598.0 L1636.1 589.4 L1636.7 596.9 L1637.3 579.6 L1637.9 594.2 L1638.5 598.8 L1639.1 587.2 L1639.7 576.8 L1640.2 599.2 L1640.8 594.4 L1641.4 577.4 L1642.0 585.7 L1642.6 582.9 L1643.2 582.6 L1643.8 581.9 L1644.4 589.0 L1645.0 585.8 L1645.6 578.1 L1646.2 592.6 L1646.8 595.0 L1647.3 594.4 L1647.9 582.2 L1648.5 582.1 L1649.1 577.3 L1649.7 579.6 L1650.3 581.5 L1650.9 580.9 L1651.5 580.0 L1652.1 594.2 L1652.7 599.3 L1653.3 577.5 L1653.8 577.6 L1654.4 598.6 L1655.0 595.1 L1655.6 586.4 L1656.2 598.5 L1656.8 585.7 L1657.4 580.7 L1658.0 577.0 L1658.6 594.4 L1659.2 580.0 L1659.8 580.2 L1660.4 589.8 L1660.9 592.8 L1661.5 585.5 L1662.1 578.4 L1662.7 596.0 L1663.3 581.1 L1663.9 591.3 L1664.5 595.2 L1665.1 592.7 L1665.7 594.8 L1666.3 588.1 L1666.9 582.7 L1667.4 592.6 L1668.0 596.1 L1668.6 584.5 L1669.2 594.2 L1669.8 588.6 L1670.4 595.8 L1671.0 577.7 L1671.6 590.4 L1672.2 584.4 L1672.8 586.7 L1673.4 580.4 L1674.0 590.3 L1674.5 578.8 L1675.1 585.7 L1675.7 597.4 L1676.3 590.6 L1676.9 581.0 L1677.5 592.9 L1678.1 597.1 L1678.7 589.3 L1679.3 589.4 L1679.9 583.3 L1680.5 582.8 L1681.0 593.2 L1681.6 596.5 L1682.2 597.1 L1682.8 577.0 L1683.4 593.5 L1684.0 584.1 L1684.6 595.8 L1685.2 590.1 L1685.8 586.1 L1686.4 578.8 L1687.0 588.2 L1687.6 584.4 L1688.1 580.4 L1688.7 582.1 L1689.3 596.5 L1689.9 582.9 L1690.5 580.8 L1691.1 579.9 L1691.7 582.3 L1692.3 592.9 L1692.9 576.7 L1693.5 586.0 L1694.1 592.8 L1694.6 580.7 L1695.2 596.8 L1695.8 584.7 L1696.4 596.2 L1697.0 590.1 L1697.6 578.9 L1698.2 593.5 L1698.8 593.8 L1699.4 592.8 L1700.0 587.1 L1700.6 585.8 L1701.2 591.4 L1701.7 586.8 L1702.3 582.6 L1702.9 594.1 L1703.5 594.1 L1704.1 598.8 L1704.7 585.8 L1705.3 596.3 L1705.9 594.0 L1706.5 584.3 L1707.1 583.4 L1707.7 594.3 L1708.2 597.4 L1708.8 587.2 L1709.4 594.9 L1710.0 596.2 L1710.6 592.4 L1711.2 578.1 L1711.8 584.4 L1712.4 591.6 L1713.0 594.0 L1713.6 593.7 L1714.2 588.0 L1714.8 594.6 L1715.3 584.7 L1715.9 585.2 L1716.5 580.9 L1717.1 596.6 L1717.7 584.4 L1718.3 591.4 L1718.9 577.0 L1719.5 582.5 L1720.1 592.9 L1720.7 589.4 L1721.3 586.0 L1721.9 583.1 L1722.4 583.5 L1723.0 592.2 L1723.6 587.5 L1724.2 578.2 L1724.8 588.1 L1725.4 599.1 L1726.0 595.0 L1726.6 594.2 L1727.2 593.7 L1727.8 585.7 L1728.4 576.8 L1728.9 589.7 L1729.5 575.7 L1730.1 594.2 L1730.7 579.0 L1731.3 589.1 L1731.9 581.1 L1732.5 594.8 L1733.1 593.0 L1733.7 590.5 L1734.3 595.0 L1734.9 581.7 L1735.5 600.5 L1736.0 580.5 L1736.6 594.0 L1737.2 590.9 L1737.8 580.3 L1738.4 585.3 L1739.0 589.3 L1739.6 587.2 L1740.2 574.7 L1740.8 588.5 L1741.4 585.4 L1742.0 589.5 L1742.5 588.0 L1743.1 589.5 L1743.7 585.1 L1744.3 578.3 L1744.9 584.3 L1745.5 587.5 L1746.1 599.7 L1746.7 589.3 L1747.3 584.8 L1747.9 590.9 L1748.5 594.7 L1749.1 579.6 L1749.6 578.7 L1750.2 581.2 L1750.8 587.3 L1751.4 583.3 L1752.0 586.4 L1752.6 598.0"/>
</g>
<g font-family='"Liberation Sans", Arial, sans-serif' fill="#000">
<text x="281.5" y="1203.0" font-size="52.5" text-anchor="end">0</text>
<text x="281.5" y="1052.1" font-size="52.5" text-anchor="end">2</text>
<text x="281.5" y="901.3" font-size="52.5" text-anchor="end">4</text>
<text x="281.5" y="750.4" font-size="52.5" text-anchor="end">6</text>
<text x="281.5" y="599.5" font-size="52.5" text-anchor="end">8</text>
<text x="281.5" y="448.7" font-size="52.5" text-anchor="end">10</text>
<text x="281.5" y="297.8" font-size="52.5" text-anchor="end">12</text>
<text x="281.5" y="146.9" font-size="52.5" text-anchor="end">14</text>
<text x="1798.5" y="1200.0" font-size="45" text-anchor="start">0</text>
<text x="1798.5" y="1086.8" font-size="45" text-anchor="start">10</text>
<text x="1798.5" y="973.7" font-size="45" text-anchor="start">20</text>
<text x="1798.5" y="860.5" font-size="45" text-anchor="start">30</text>
<text x="1798.5" y="747.4" font-size="45" text-anchor="start">40</text>
<text x="1798.5" y="634.2" font-size="45" text-anchor="start">50</text>
<text x="1798.5" y="521.1" font-size="45" text-anchor="start">60</text>
<text x="1798.5" y="408.0" font-size="45" text-anchor="start">70</text>
<text x="1798.5" y="294.8" font-size="45" text-anchor="start">80</text>
<text x="1798.5" y="181.6" font-size="45" text-anchor="start">90</text>
<text x="1798.5" y="68.5" font-size="45" text-anchor="start">100</text>
<text x="334.4" y="1277" font-size="53" text-anchor="middle">0</text>
<text x="570.9" y="1277" font-size="53" text-anchor="middle">20</text>
<text x="807.5" y="1277" font-size="53" text-anchor="middle">40</text>
<text x="1044.0" y="1277" font-size="53" text-anchor="middle">60</text>
<text x="1280.5" y="1277" font-size="53" text-anchor="middle">80</text>
<text x="1517.1" y="1277" font-size="53" text-anchor="middle">100</text>
<text x="1753.6" y="1277" font-size="53" text-anchor="middle">120</text>
<text x="863" y="1362" font-size="56" textLength="194" lengthAdjust="spacingAndGlyphs">time [h]</text>
<text transform="translate(171,795) rotate(-90)" x="0" y="0" font-size="56" textLength="166" lengthAdjust="spacingAndGlyphs">Δm [g]</text>
<path d="M1896 292.3H1974" stroke="#A5A5A5" stroke-width="6" stroke-linecap="round"/>
<text x="1983" y="308.7" font-size="48" textLength="95.0" lengthAdjust="spacingAndGlyphs">3.2 -</text>
<text x="1983" y="372.0" font-size="48" textLength="228.6" lengthAdjust="spacingAndGlyphs">Pavaboard</text>
<path d="M1896 486.4H1974" stroke="#000000" stroke-width="6" stroke-linecap="round"/>
<text x="1983" y="502.8" font-size="48" textLength="123.0" lengthAdjust="spacingAndGlyphs">3.3.2-</text>
<text x="1983" y="566.1" font-size="48" textLength="179.7" lengthAdjust="spacingAndGlyphs">Pavaflex</text>
<path d="M1896 681.2H1974" stroke="#FFC000" stroke-width="6" stroke-linecap="round"/>
<text x="1983" y="697.6" font-size="48" textLength="135.0" lengthAdjust="spacingAndGlyphs">3.6.3 -</text>
<text x="1983" y="760.9" font-size="48" textLength="168.0" lengthAdjust="spacingAndGlyphs">gypsum</text>
<text x="1983" y="824.2" font-size="48" textLength="227.8" lengthAdjust="spacingAndGlyphs">fibreboard</text>
<path d="M1896 876.0H1974" stroke="#FF0000" stroke-width="6" stroke-linecap="round"/>
<text x="1983" y="892.4" font-size="48" textLength="114.0" lengthAdjust="spacingAndGlyphs">RH %</text>
</g>
</svg>
</body></html>
